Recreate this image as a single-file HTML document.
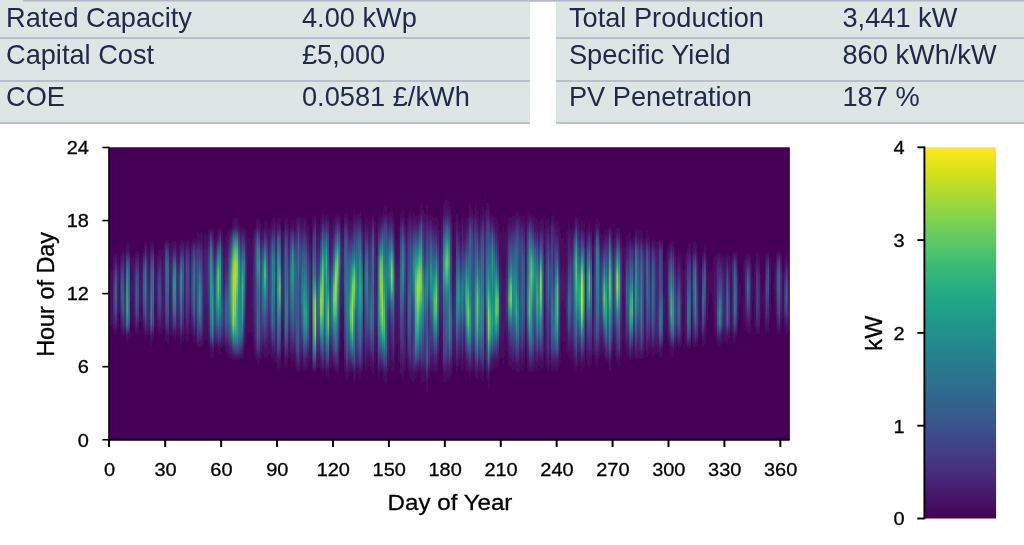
<!DOCTYPE html>
<html lang="en"><head><meta charset="utf-8"><title>PV Output</title>
<style>
html,body{margin:0;padding:0;background:#fff}
body{width:1024px;height:545px;position:relative;overflow:hidden;font-family:"Liberation Sans",Arial,sans-serif}
.tb{position:absolute;top:0;height:121.5px;background:#dde5e5;border-bottom:2px solid #b9c0cc;box-sizing:content-box}
.tl{position:absolute;left:23px;right:0;top:0;height:1px;background:#b3bac6;border-bottom:1px solid #c8ced6}
.tb .r{position:absolute;left:0;right:0;height:0;border-top:2px solid #b9c0cc}
.tb span{position:absolute;font-size:27.2px;line-height:30px;color:#212b48;white-space:nowrap}
</style></head>
<body>
<div class="tb" style="left:0px;width:530px"><div class="r" style="top:36.5px"></div><div class="r" style="top:79.5px"></div><span style="left:6.0px;top:2.8px">Rated Capacity</span><span style="left:302.0px;top:2.8px">4.00 kWp</span><span style="left:6.0px;top:40.3px">Capital Cost</span><span style="left:302.0px;top:40.3px">£5,000</span><span style="left:6.0px;top:82.3px">COE</span><span style="left:302.0px;top:82.3px">0.0581 £/kWh</span></div>
<div class="tb" style="left:555.7px;width:468.3px"><div class="r" style="top:36.5px"></div><div class="r" style="top:79.5px"></div><span style="left:13.3px;top:2.8px">Total Production</span><span style="left:286.8px;top:2.8px">3,441 kW</span><span style="left:13.3px;top:40.3px">Specific Yield</span><span style="left:286.8px;top:40.3px">860 kWh/kW</span><span style="left:13.3px;top:82.3px">PV Penetration</span><span style="left:286.8px;top:82.3px">187 %</span></div>
<div class="tl"></div>
<svg width="1024" height="545" viewBox="0 0 1024 545" style="position:absolute;left:0;top:0">
<defs>
<linearGradient id="cb" x1="0" y1="0" x2="0" y2="1"><stop offset="0.0000" stop-color="#fde725"/><stop offset="0.0312" stop-color="#ece51b"/><stop offset="0.0625" stop-color="#d8e219"/><stop offset="0.0938" stop-color="#c2df23"/><stop offset="0.1250" stop-color="#addc30"/><stop offset="0.1562" stop-color="#98d83e"/><stop offset="0.1875" stop-color="#84d44b"/><stop offset="0.2188" stop-color="#70cf57"/><stop offset="0.2500" stop-color="#5ec962"/><stop offset="0.2812" stop-color="#4ec36b"/><stop offset="0.3125" stop-color="#3fbc73"/><stop offset="0.3438" stop-color="#32b67a"/><stop offset="0.3750" stop-color="#28ae80"/><stop offset="0.4062" stop-color="#22a785"/><stop offset="0.4375" stop-color="#1fa088"/><stop offset="0.4688" stop-color="#1f988b"/><stop offset="0.5000" stop-color="#21918c"/><stop offset="0.5312" stop-color="#23898e"/><stop offset="0.5625" stop-color="#26828e"/><stop offset="0.5938" stop-color="#297a8e"/><stop offset="0.6250" stop-color="#2c728e"/><stop offset="0.6562" stop-color="#2f6b8e"/><stop offset="0.6875" stop-color="#33638d"/><stop offset="0.7188" stop-color="#375b8d"/><stop offset="0.7500" stop-color="#3b528b"/><stop offset="0.7812" stop-color="#3e4989"/><stop offset="0.8125" stop-color="#424086"/><stop offset="0.8438" stop-color="#453781"/><stop offset="0.8750" stop-color="#472d7b"/><stop offset="0.9062" stop-color="#482374"/><stop offset="0.9375" stop-color="#48186a"/><stop offset="0.9688" stop-color="#470d60"/><stop offset="1.0000" stop-color="#440154"/></linearGradient>
<clipPath id="hc"><rect x="109.30" y="147.50" width="680.36" height="292.25"/></clipPath>
<filter id="bl" x="-2%" y="-2%" width="104%" height="104%"><feGaussianBlur stdDeviation="0.55 0.9"/></filter>
<linearGradient id="g0" x1="0" y1="0" x2="0" y2="1"><stop offset="0" stop-color="#440154"/><stop offset=".143" stop-color="#450559"/><stop offset=".286" stop-color="#46085c"/><stop offset=".429" stop-color="#470d60"/><stop offset=".571" stop-color="#471063"/><stop offset=".714" stop-color="#470e61"/><stop offset=".857" stop-color="#46085c"/><stop offset="1" stop-color="#440154"/></linearGradient>
<linearGradient id="g1" x1="0" y1="0" x2="0" y2="1"><stop offset="0" stop-color="#440154"/><stop offset=".143" stop-color="#450457"/><stop offset=".286" stop-color="#46085c"/><stop offset=".429" stop-color="#460b5e"/><stop offset=".571" stop-color="#470e61"/><stop offset=".714" stop-color="#470d60"/><stop offset=".857" stop-color="#46075a"/><stop offset="1" stop-color="#440154"/></linearGradient>
<linearGradient id="g2" x1="0" y1="0" x2="0" y2="1"><stop offset="0" stop-color="#440154"/><stop offset=".143" stop-color="#471063"/><stop offset=".286" stop-color="#482173"/><stop offset=".429" stop-color="#46327e"/><stop offset=".571" stop-color="#453882"/><stop offset=".714" stop-color="#472f7d"/><stop offset=".857" stop-color="#481a6c"/><stop offset="1" stop-color="#440154"/></linearGradient>
<linearGradient id="g3" x1="0" y1="0" x2="0" y2="1"><stop offset="0" stop-color="#440154"/><stop offset=".143" stop-color="#482677"/><stop offset=".286" stop-color="#3b518b"/><stop offset=".429" stop-color="#306a8e"/><stop offset=".571" stop-color="#30698e"/><stop offset=".714" stop-color="#3b518b"/><stop offset=".857" stop-color="#482677"/><stop offset="1" stop-color="#440154"/></linearGradient>
<linearGradient id="g4" x1="0" y1="0" x2="0" y2="1"><stop offset="0" stop-color="#440154"/><stop offset=".143" stop-color="#471164"/><stop offset=".286" stop-color="#482173"/><stop offset=".429" stop-color="#482979"/><stop offset=".571" stop-color="#482677"/><stop offset=".714" stop-color="#481c6e"/><stop offset=".857" stop-color="#470d60"/><stop offset="1" stop-color="#440154"/></linearGradient>
<linearGradient id="g5" x1="0" y1="0" x2="0" y2="1"><stop offset="0" stop-color="#440154"/><stop offset=".143" stop-color="#450559"/><stop offset=".286" stop-color="#470d60"/><stop offset=".429" stop-color="#471164"/><stop offset=".571" stop-color="#470e61"/><stop offset=".714" stop-color="#46085c"/><stop offset=".857" stop-color="#440256"/><stop offset="1" stop-color="#440154"/></linearGradient>
<linearGradient id="g6" x1="0" y1="0" x2="0" y2="1"><stop offset="0" stop-color="#440256"/><stop offset=".143" stop-color="#482475"/><stop offset=".286" stop-color="#3e4c8a"/><stop offset=".429" stop-color="#355f8d"/><stop offset=".571" stop-color="#39568c"/><stop offset=".714" stop-color="#453882"/><stop offset=".857" stop-color="#481668"/><stop offset="1" stop-color="#440154"/></linearGradient>
<linearGradient id="g7" x1="0" y1="0" x2="0" y2="1"><stop offset="0" stop-color="#440154"/><stop offset=".111" stop-color="#46075a"/><stop offset=".222" stop-color="#46307e"/><stop offset=".333" stop-color="#3d4e8a"/><stop offset=".444" stop-color="#33638d"/><stop offset=".556" stop-color="#2f6c8e"/><stop offset=".667" stop-color="#34608d"/><stop offset=".778" stop-color="#453781"/><stop offset=".889" stop-color="#440256"/><stop offset="1" stop-color="#440154"/></linearGradient>
<linearGradient id="g8" x1="0" y1="0" x2="0" y2="1"><stop offset="0" stop-color="#440154"/><stop offset=".111" stop-color="#450457"/><stop offset=".222" stop-color="#481467"/><stop offset=".333" stop-color="#482071"/><stop offset=".444" stop-color="#482979"/><stop offset=".556" stop-color="#46327e"/><stop offset=".667" stop-color="#46337f"/><stop offset=".778" stop-color="#482374"/><stop offset=".889" stop-color="#440256"/><stop offset="1" stop-color="#440154"/></linearGradient>
<linearGradient id="g9" x1="0" y1="0" x2="0" y2="1"><stop offset="0" stop-color="#440154"/><stop offset=".111" stop-color="#471164"/><stop offset=".222" stop-color="#355f8d"/><stop offset=".333" stop-color="#228c8d"/><stop offset=".444" stop-color="#1fa188"/><stop offset=".556" stop-color="#22a884"/><stop offset=".667" stop-color="#22a785"/><stop offset=".778" stop-color="#26828e"/><stop offset=".889" stop-color="#470d60"/><stop offset="1" stop-color="#440154"/></linearGradient>
<linearGradient id="g10" x1="0" y1="0" x2="0" y2="1"><stop offset="0" stop-color="#440154"/><stop offset=".111" stop-color="#471063"/><stop offset=".222" stop-color="#3b528b"/><stop offset=".333" stop-color="#2d718e"/><stop offset=".444" stop-color="#2a788e"/><stop offset=".556" stop-color="#297b8e"/><stop offset=".667" stop-color="#297a8e"/><stop offset=".778" stop-color="#355e8d"/><stop offset=".889" stop-color="#46085c"/><stop offset="1" stop-color="#440154"/></linearGradient>
<linearGradient id="g11" x1="0" y1="0" x2="0" y2="1"><stop offset="0" stop-color="#440256"/><stop offset=".143" stop-color="#460b5e"/><stop offset=".286" stop-color="#471164"/><stop offset=".429" stop-color="#471365"/><stop offset=".571" stop-color="#471365"/><stop offset=".714" stop-color="#470e61"/><stop offset=".857" stop-color="#46075a"/><stop offset="1" stop-color="#440154"/></linearGradient>
<linearGradient id="g12" x1="0" y1="0" x2="0" y2="1"><stop offset="0" stop-color="#440154"/><stop offset=".143" stop-color="#460a5d"/><stop offset=".286" stop-color="#471063"/><stop offset=".429" stop-color="#471365"/><stop offset=".571" stop-color="#471063"/><stop offset=".714" stop-color="#460a5d"/><stop offset=".857" stop-color="#450457"/><stop offset="1" stop-color="#440154"/></linearGradient>
<linearGradient id="g13" x1="0" y1="0" x2="0" y2="1"><stop offset="0" stop-color="#440256"/><stop offset=".143" stop-color="#471063"/><stop offset=".286" stop-color="#481a6c"/><stop offset=".429" stop-color="#481f70"/><stop offset=".571" stop-color="#481f70"/><stop offset=".714" stop-color="#481769"/><stop offset=".857" stop-color="#460a5d"/><stop offset="1" stop-color="#440154"/></linearGradient>
<linearGradient id="g14" x1="0" y1="0" x2="0" y2="1"><stop offset="0" stop-color="#440154"/><stop offset=".125" stop-color="#450559"/><stop offset=".25" stop-color="#472f7d"/><stop offset=".375" stop-color="#3c4f8a"/><stop offset=".5" stop-color="#33628d"/><stop offset=".625" stop-color="#31678e"/><stop offset=".75" stop-color="#39568c"/><stop offset=".875" stop-color="#482979"/><stop offset="1" stop-color="#440154"/></linearGradient>
<linearGradient id="g15" x1="0" y1="0" x2="0" y2="1"><stop offset="0" stop-color="#440154"/><stop offset=".125" stop-color="#450559"/><stop offset=".25" stop-color="#472c7a"/><stop offset=".375" stop-color="#404688"/><stop offset=".5" stop-color="#3b518b"/><stop offset=".625" stop-color="#3c4f8a"/><stop offset=".75" stop-color="#433e85"/><stop offset=".875" stop-color="#481b6d"/><stop offset="1" stop-color="#440154"/></linearGradient>
<linearGradient id="g16" x1="0" y1="0" x2="0" y2="1"><stop offset="0" stop-color="#440154"/><stop offset=".143" stop-color="#46085c"/><stop offset=".286" stop-color="#471063"/><stop offset=".429" stop-color="#481467"/><stop offset=".571" stop-color="#471365"/><stop offset=".714" stop-color="#470d60"/><stop offset=".857" stop-color="#450559"/><stop offset="1" stop-color="#440154"/></linearGradient>
<linearGradient id="g17" x1="0" y1="0" x2="0" y2="1"><stop offset="0" stop-color="#440154"/><stop offset=".143" stop-color="#460b5e"/><stop offset=".286" stop-color="#481467"/><stop offset=".429" stop-color="#481769"/><stop offset=".571" stop-color="#481668"/><stop offset=".714" stop-color="#470e61"/><stop offset=".857" stop-color="#450559"/><stop offset="1" stop-color="#440154"/></linearGradient>
<linearGradient id="g18" x1="0" y1="0" x2="0" y2="1"><stop offset="0" stop-color="#440154"/><stop offset=".125" stop-color="#46085c"/><stop offset=".25" stop-color="#453781"/><stop offset=".375" stop-color="#38588c"/><stop offset=".5" stop-color="#34618d"/><stop offset=".625" stop-color="#39568c"/><stop offset=".75" stop-color="#433d84"/><stop offset=".875" stop-color="#481a6c"/><stop offset="1" stop-color="#440154"/></linearGradient>
<linearGradient id="g19" x1="0" y1="0" x2="0" y2="1"><stop offset="0" stop-color="#440154"/><stop offset=".111" stop-color="#482374"/><stop offset=".222" stop-color="#355f8d"/><stop offset=".333" stop-color="#29798e"/><stop offset=".444" stop-color="#287c8e"/><stop offset=".556" stop-color="#2d708e"/><stop offset=".667" stop-color="#38598c"/><stop offset=".778" stop-color="#453781"/><stop offset=".889" stop-color="#46085c"/><stop offset="1" stop-color="#440154"/></linearGradient>
<linearGradient id="g20" x1="0" y1="0" x2="0" y2="1"><stop offset="0" stop-color="#440154"/><stop offset=".111" stop-color="#460b5e"/><stop offset=".222" stop-color="#482071"/><stop offset=".333" stop-color="#472c7a"/><stop offset=".444" stop-color="#46307e"/><stop offset=".556" stop-color="#46307e"/><stop offset=".667" stop-color="#472c7a"/><stop offset=".778" stop-color="#481f70"/><stop offset=".889" stop-color="#450559"/><stop offset="1" stop-color="#440154"/></linearGradient>
<linearGradient id="g21" x1="0" y1="0" x2="0" y2="1"><stop offset="0" stop-color="#440154"/><stop offset=".111" stop-color="#450559"/><stop offset=".222" stop-color="#471063"/><stop offset=".333" stop-color="#48186a"/><stop offset=".444" stop-color="#481f70"/><stop offset=".556" stop-color="#482475"/><stop offset=".667" stop-color="#482475"/><stop offset=".778" stop-color="#481c6e"/><stop offset=".889" stop-color="#450559"/><stop offset="1" stop-color="#440154"/></linearGradient>
<linearGradient id="g22" x1="0" y1="0" x2="0" y2="1"><stop offset="0" stop-color="#440154"/><stop offset=".111" stop-color="#481d6f"/><stop offset=".222" stop-color="#3d4e8a"/><stop offset=".333" stop-color="#31688e"/><stop offset=".444" stop-color="#2a788e"/><stop offset=".556" stop-color="#25838e"/><stop offset=".667" stop-color="#24878e"/><stop offset=".778" stop-color="#2e6f8e"/><stop offset=".889" stop-color="#481a6c"/><stop offset="1" stop-color="#440154"/></linearGradient>
<linearGradient id="g23" x1="0" y1="0" x2="0" y2="1"><stop offset="0" stop-color="#440154"/><stop offset=".111" stop-color="#482173"/><stop offset=".222" stop-color="#38598c"/><stop offset=".333" stop-color="#2c728e"/><stop offset=".444" stop-color="#2b758e"/><stop offset=".556" stop-color="#2e6d8e"/><stop offset=".667" stop-color="#355e8d"/><stop offset=".778" stop-color="#404588"/><stop offset=".889" stop-color="#470e61"/><stop offset="1" stop-color="#440154"/></linearGradient>
<linearGradient id="g24" x1="0" y1="0" x2="0" y2="1"><stop offset="0" stop-color="#440154"/><stop offset=".125" stop-color="#450457"/><stop offset=".25" stop-color="#470e61"/><stop offset=".375" stop-color="#481668"/><stop offset=".5" stop-color="#481769"/><stop offset=".625" stop-color="#471365"/><stop offset=".75" stop-color="#470e61"/><stop offset=".875" stop-color="#46085c"/><stop offset="1" stop-color="#440154"/></linearGradient>
<linearGradient id="g25" x1="0" y1="0" x2="0" y2="1"><stop offset="0" stop-color="#440154"/><stop offset=".125" stop-color="#440256"/><stop offset=".25" stop-color="#460b5e"/><stop offset=".375" stop-color="#481467"/><stop offset=".5" stop-color="#481769"/><stop offset=".625" stop-color="#481467"/><stop offset=".75" stop-color="#470e61"/><stop offset=".875" stop-color="#46085c"/><stop offset="1" stop-color="#440154"/></linearGradient>
<linearGradient id="g26" x1="0" y1="0" x2="0" y2="1"><stop offset="0" stop-color="#440154"/><stop offset=".111" stop-color="#46075a"/><stop offset=".222" stop-color="#482071"/><stop offset=".333" stop-color="#423f85"/><stop offset=".444" stop-color="#3b518b"/><stop offset=".556" stop-color="#3e4c8a"/><stop offset=".667" stop-color="#453882"/><stop offset=".778" stop-color="#481c6e"/><stop offset=".889" stop-color="#440256"/><stop offset="1" stop-color="#440154"/></linearGradient>
<linearGradient id="g27" x1="0" y1="0" x2="0" y2="1"><stop offset="0" stop-color="#440154"/><stop offset=".111" stop-color="#46085c"/><stop offset=".222" stop-color="#482374"/><stop offset=".333" stop-color="#443a83"/><stop offset=".444" stop-color="#404688"/><stop offset=".556" stop-color="#404588"/><stop offset=".667" stop-color="#453581"/><stop offset=".778" stop-color="#481c6e"/><stop offset=".889" stop-color="#440256"/><stop offset="1" stop-color="#440154"/></linearGradient>
<linearGradient id="g28" x1="0" y1="0" x2="0" y2="1"><stop offset="0" stop-color="#440154"/><stop offset=".111" stop-color="#46075a"/><stop offset=".222" stop-color="#471063"/><stop offset=".333" stop-color="#481668"/><stop offset=".444" stop-color="#481a6c"/><stop offset=".556" stop-color="#48186a"/><stop offset=".667" stop-color="#481668"/><stop offset=".778" stop-color="#470e61"/><stop offset=".889" stop-color="#440256"/><stop offset="1" stop-color="#440154"/></linearGradient>
<linearGradient id="g29" x1="0" y1="0" x2="0" y2="1"><stop offset="0" stop-color="#440154"/><stop offset=".111" stop-color="#470e61"/><stop offset=".222" stop-color="#48186a"/><stop offset=".333" stop-color="#481b6d"/><stop offset=".444" stop-color="#481b6d"/><stop offset=".556" stop-color="#48186a"/><stop offset=".667" stop-color="#481467"/><stop offset=".778" stop-color="#460b5e"/><stop offset=".889" stop-color="#440256"/><stop offset="1" stop-color="#440154"/></linearGradient>
<linearGradient id="g30" x1="0" y1="0" x2="0" y2="1"><stop offset="0" stop-color="#440154"/><stop offset=".111" stop-color="#404588"/><stop offset=".222" stop-color="#306a8e"/><stop offset=".333" stop-color="#2e6f8e"/><stop offset=".444" stop-color="#306a8e"/><stop offset=".556" stop-color="#355f8d"/><stop offset=".667" stop-color="#3c508b"/><stop offset=".778" stop-color="#453581"/><stop offset=".889" stop-color="#460b5e"/><stop offset="1" stop-color="#440154"/></linearGradient>
<linearGradient id="g31" x1="0" y1="0" x2="0" y2="1"><stop offset="0" stop-color="#440154"/><stop offset=".111" stop-color="#443a83"/><stop offset=".222" stop-color="#32658e"/><stop offset=".333" stop-color="#2d718e"/><stop offset=".444" stop-color="#2e6d8e"/><stop offset=".556" stop-color="#33638d"/><stop offset=".667" stop-color="#39568c"/><stop offset=".778" stop-color="#423f85"/><stop offset=".889" stop-color="#471164"/><stop offset="1" stop-color="#440154"/></linearGradient>
<linearGradient id="g32" x1="0" y1="0" x2="0" y2="1"><stop offset="0" stop-color="#440154"/><stop offset=".111" stop-color="#471063"/><stop offset=".222" stop-color="#481a6c"/><stop offset=".333" stop-color="#481c6e"/><stop offset=".444" stop-color="#481a6c"/><stop offset=".556" stop-color="#48186a"/><stop offset=".667" stop-color="#481668"/><stop offset=".778" stop-color="#471063"/><stop offset=".889" stop-color="#450559"/><stop offset="1" stop-color="#440154"/></linearGradient>
<linearGradient id="g33" x1="0" y1="0" x2="0" y2="1"><stop offset="0" stop-color="#440154"/><stop offset=".111" stop-color="#471063"/><stop offset=".222" stop-color="#481f70"/><stop offset=".333" stop-color="#482677"/><stop offset=".444" stop-color="#482677"/><stop offset=".556" stop-color="#482374"/><stop offset=".667" stop-color="#481d6f"/><stop offset=".778" stop-color="#481467"/><stop offset=".889" stop-color="#450559"/><stop offset="1" stop-color="#440154"/></linearGradient>
<linearGradient id="g34" x1="0" y1="0" x2="0" y2="1"><stop offset="0" stop-color="#440154"/><stop offset=".111" stop-color="#481f70"/><stop offset=".222" stop-color="#355f8d"/><stop offset=".333" stop-color="#218f8d"/><stop offset=".444" stop-color="#1f9f88"/><stop offset=".556" stop-color="#20928c"/><stop offset=".667" stop-color="#2d708e"/><stop offset=".778" stop-color="#433d84"/><stop offset=".889" stop-color="#46075a"/><stop offset="1" stop-color="#440154"/></linearGradient>
<linearGradient id="g35" x1="0" y1="0" x2="0" y2="1"><stop offset="0" stop-color="#440154"/><stop offset=".111" stop-color="#482878"/><stop offset=".222" stop-color="#2e6e8e"/><stop offset=".333" stop-color="#1f958b"/><stop offset=".444" stop-color="#1f988b"/><stop offset=".556" stop-color="#24878e"/><stop offset=".667" stop-color="#2f6c8e"/><stop offset=".778" stop-color="#424086"/><stop offset=".889" stop-color="#460a5d"/><stop offset="1" stop-color="#440154"/></linearGradient>
<linearGradient id="g36" x1="0" y1="0" x2="0" y2="1"><stop offset="0" stop-color="#440154"/><stop offset=".111" stop-color="#46085c"/><stop offset=".222" stop-color="#481b6d"/><stop offset=".333" stop-color="#482576"/><stop offset=".444" stop-color="#482677"/><stop offset=".556" stop-color="#482475"/><stop offset=".667" stop-color="#481f70"/><stop offset=".778" stop-color="#481467"/><stop offset=".889" stop-color="#450457"/><stop offset="1" stop-color="#440154"/></linearGradient>
<linearGradient id="g37" x1="0" y1="0" x2="0" y2="1"><stop offset="0" stop-color="#440154"/><stop offset=".111" stop-color="#460b5e"/><stop offset=".222" stop-color="#482374"/><stop offset=".333" stop-color="#453882"/><stop offset=".444" stop-color="#433d84"/><stop offset=".556" stop-color="#463480"/><stop offset=".667" stop-color="#482878"/><stop offset=".778" stop-color="#481a6c"/><stop offset=".889" stop-color="#46075a"/><stop offset="1" stop-color="#440154"/></linearGradient>
<linearGradient id="g38" x1="0" y1="0" x2="0" y2="1"><stop offset="0" stop-color="#440256"/><stop offset=".111" stop-color="#482677"/><stop offset=".222" stop-color="#31668e"/><stop offset=".333" stop-color="#1f948c"/><stop offset=".444" stop-color="#1f9a8a"/><stop offset=".556" stop-color="#25858e"/><stop offset=".667" stop-color="#2f6c8e"/><stop offset=".778" stop-color="#3e4c8a"/><stop offset=".889" stop-color="#48186a"/><stop offset="1" stop-color="#440154"/></linearGradient>
<linearGradient id="g39" x1="0" y1="0" x2="0" y2="1"><stop offset="0" stop-color="#440154"/><stop offset=".1" stop-color="#440256"/><stop offset=".2" stop-color="#482979"/><stop offset=".3" stop-color="#39558c"/><stop offset=".4" stop-color="#31678e"/><stop offset=".5" stop-color="#365d8d"/><stop offset=".6" stop-color="#3e4989"/><stop offset=".7" stop-color="#443983"/><stop offset=".8" stop-color="#482576"/><stop offset=".9" stop-color="#460a5d"/><stop offset="1" stop-color="#440154"/></linearGradient>
<linearGradient id="g40" x1="0" y1="0" x2="0" y2="1"><stop offset="0" stop-color="#440154"/><stop offset=".111" stop-color="#471365"/><stop offset=".222" stop-color="#481c6e"/><stop offset=".333" stop-color="#481f70"/><stop offset=".444" stop-color="#481c6e"/><stop offset=".556" stop-color="#48186a"/><stop offset=".667" stop-color="#481668"/><stop offset=".778" stop-color="#470e61"/><stop offset=".889" stop-color="#450559"/><stop offset="1" stop-color="#440154"/></linearGradient>
<linearGradient id="g41" x1="0" y1="0" x2="0" y2="1"><stop offset="0" stop-color="#440154"/><stop offset=".1" stop-color="#450559"/><stop offset=".2" stop-color="#46307e"/><stop offset=".3" stop-color="#404688"/><stop offset=".4" stop-color="#3e4c8a"/><stop offset=".5" stop-color="#3e4a89"/><stop offset=".6" stop-color="#414487"/><stop offset=".7" stop-color="#453882"/><stop offset=".8" stop-color="#482576"/><stop offset=".9" stop-color="#470d60"/><stop offset="1" stop-color="#440154"/></linearGradient>
<linearGradient id="g42" x1="0" y1="0" x2="0" y2="1"><stop offset="0" stop-color="#440154"/><stop offset=".1" stop-color="#450457"/><stop offset=".2" stop-color="#472a7a"/><stop offset=".3" stop-color="#414487"/><stop offset=".4" stop-color="#3e4c8a"/><stop offset=".5" stop-color="#3f4889"/><stop offset=".6" stop-color="#433e85"/><stop offset=".7" stop-color="#472f7d"/><stop offset=".8" stop-color="#481f70"/><stop offset=".9" stop-color="#460a5d"/><stop offset="1" stop-color="#440154"/></linearGradient>
<linearGradient id="g43" x1="0" y1="0" x2="0" y2="1"><stop offset="0" stop-color="#440154"/><stop offset=".111" stop-color="#470d60"/><stop offset=".222" stop-color="#481a6c"/><stop offset=".333" stop-color="#481f70"/><stop offset=".444" stop-color="#481f70"/><stop offset=".556" stop-color="#481b6d"/><stop offset=".667" stop-color="#481467"/><stop offset=".778" stop-color="#460a5d"/><stop offset=".889" stop-color="#440256"/><stop offset="1" stop-color="#440154"/></linearGradient>
<linearGradient id="g44" x1="0" y1="0" x2="0" y2="1"><stop offset="0" stop-color="#440154"/><stop offset=".1" stop-color="#440256"/><stop offset=".2" stop-color="#482576"/><stop offset=".3" stop-color="#424186"/><stop offset=".4" stop-color="#3c508b"/><stop offset=".5" stop-color="#3a548c"/><stop offset=".6" stop-color="#3c4f8a"/><stop offset=".7" stop-color="#443a83"/><stop offset=".8" stop-color="#481d6f"/><stop offset=".9" stop-color="#46075a"/><stop offset="1" stop-color="#440154"/></linearGradient>
<linearGradient id="g45" x1="0" y1="0" x2="0" y2="1"><stop offset="0" stop-color="#440154"/><stop offset=".1" stop-color="#450559"/><stop offset=".2" stop-color="#424086"/><stop offset=".3" stop-color="#30698e"/><stop offset=".4" stop-color="#2a778e"/><stop offset=".5" stop-color="#297a8e"/><stop offset=".6" stop-color="#2c738e"/><stop offset=".7" stop-color="#355f8d"/><stop offset=".8" stop-color="#443b84"/><stop offset=".9" stop-color="#471164"/><stop offset="1" stop-color="#440154"/></linearGradient>
<linearGradient id="g46" x1="0" y1="0" x2="0" y2="1"><stop offset="0" stop-color="#440154"/><stop offset=".1" stop-color="#450457"/><stop offset=".2" stop-color="#482677"/><stop offset=".3" stop-color="#424086"/><stop offset=".4" stop-color="#404588"/><stop offset=".5" stop-color="#423f85"/><stop offset=".6" stop-color="#443983"/><stop offset=".7" stop-color="#472f7d"/><stop offset=".8" stop-color="#482173"/><stop offset=".9" stop-color="#460b5e"/><stop offset="1" stop-color="#440154"/></linearGradient>
<linearGradient id="g47" x1="0" y1="0" x2="0" y2="1"><stop offset="0" stop-color="#440154"/><stop offset=".091" stop-color="#470d60"/><stop offset=".182" stop-color="#46327e"/><stop offset=".273" stop-color="#3e4989"/><stop offset=".364" stop-color="#3a548c"/><stop offset=".455" stop-color="#375a8c"/><stop offset=".545" stop-color="#355e8d"/><stop offset=".636" stop-color="#355f8d"/><stop offset=".727" stop-color="#3a538b"/><stop offset=".818" stop-color="#46337f"/><stop offset=".909" stop-color="#440256"/><stop offset="1" stop-color="#440154"/></linearGradient>
<linearGradient id="g48" x1="0" y1="0" x2="0" y2="1"><stop offset="0" stop-color="#440154"/><stop offset=".1" stop-color="#460a5d"/><stop offset=".2" stop-color="#472f7d"/><stop offset=".3" stop-color="#3a538b"/><stop offset=".4" stop-color="#2c728e"/><stop offset=".5" stop-color="#228b8d"/><stop offset=".6" stop-color="#1f958b"/><stop offset=".7" stop-color="#24868e"/><stop offset=".8" stop-color="#355f8d"/><stop offset=".9" stop-color="#472a7a"/><stop offset="1" stop-color="#440154"/></linearGradient>
<linearGradient id="g49" x1="0" y1="0" x2="0" y2="1"><stop offset="0" stop-color="#440154"/><stop offset=".091" stop-color="#470e61"/><stop offset=".182" stop-color="#472c7a"/><stop offset=".273" stop-color="#414287"/><stop offset=".364" stop-color="#39568c"/><stop offset=".455" stop-color="#31668e"/><stop offset=".545" stop-color="#306a8e"/><stop offset=".636" stop-color="#33628d"/><stop offset=".727" stop-color="#3e4c8a"/><stop offset=".818" stop-color="#472c7a"/><stop offset=".909" stop-color="#450457"/><stop offset="1" stop-color="#440154"/></linearGradient>
<linearGradient id="g50" x1="0" y1="0" x2="0" y2="1"><stop offset="0" stop-color="#440154"/><stop offset=".1" stop-color="#450559"/><stop offset=".2" stop-color="#471164"/><stop offset=".3" stop-color="#48186a"/><stop offset=".4" stop-color="#481f70"/><stop offset=".5" stop-color="#482374"/><stop offset=".6" stop-color="#482374"/><stop offset=".7" stop-color="#481f70"/><stop offset=".8" stop-color="#48186a"/><stop offset=".9" stop-color="#470e61"/><stop offset="1" stop-color="#440256"/></linearGradient>
<linearGradient id="g51" x1="0" y1="0" x2="0" y2="1"><stop offset="0" stop-color="#440154"/><stop offset=".1" stop-color="#460a5d"/><stop offset=".2" stop-color="#481b6d"/><stop offset=".3" stop-color="#482374"/><stop offset=".4" stop-color="#482475"/><stop offset=".5" stop-color="#482173"/><stop offset=".6" stop-color="#481c6e"/><stop offset=".7" stop-color="#481668"/><stop offset=".8" stop-color="#470e61"/><stop offset=".9" stop-color="#46085c"/><stop offset="1" stop-color="#440154"/></linearGradient>
<linearGradient id="g52" x1="0" y1="0" x2="0" y2="1"><stop offset="0" stop-color="#440154"/><stop offset=".1" stop-color="#460a5d"/><stop offset=".2" stop-color="#481d6f"/><stop offset=".3" stop-color="#482677"/><stop offset=".4" stop-color="#482878"/><stop offset=".5" stop-color="#482475"/><stop offset=".6" stop-color="#481f70"/><stop offset=".7" stop-color="#48186a"/><stop offset=".8" stop-color="#471164"/><stop offset=".9" stop-color="#460a5d"/><stop offset="1" stop-color="#440154"/></linearGradient>
<linearGradient id="g53" x1="0" y1="0" x2="0" y2="1"><stop offset="0" stop-color="#440154"/><stop offset=".091" stop-color="#481769"/><stop offset=".182" stop-color="#453581"/><stop offset=".273" stop-color="#414487"/><stop offset=".364" stop-color="#404588"/><stop offset=".455" stop-color="#433e85"/><stop offset=".545" stop-color="#463480"/><stop offset=".636" stop-color="#472c7a"/><stop offset=".727" stop-color="#482374"/><stop offset=".818" stop-color="#481668"/><stop offset=".909" stop-color="#440256"/><stop offset="1" stop-color="#440154"/></linearGradient>
<linearGradient id="g54" x1="0" y1="0" x2="0" y2="1"><stop offset="0" stop-color="#440154"/><stop offset=".091" stop-color="#424186"/><stop offset=".182" stop-color="#27808e"/><stop offset=".273" stop-color="#1f998a"/><stop offset=".364" stop-color="#1fa187"/><stop offset=".455" stop-color="#1fa088"/><stop offset=".545" stop-color="#1f998a"/><stop offset=".636" stop-color="#228b8d"/><stop offset=".727" stop-color="#2a778e"/><stop offset=".818" stop-color="#3a548c"/><stop offset=".909" stop-color="#471063"/><stop offset="1" stop-color="#440154"/></linearGradient>
<linearGradient id="g55" x1="0" y1="0" x2="0" y2="1"><stop offset="0" stop-color="#440154"/><stop offset=".091" stop-color="#482677"/><stop offset=".182" stop-color="#3c508b"/><stop offset=".273" stop-color="#31678e"/><stop offset=".364" stop-color="#287c8e"/><stop offset=".455" stop-color="#20928c"/><stop offset=".545" stop-color="#1fa287"/><stop offset=".636" stop-color="#20a486"/><stop offset=".727" stop-color="#1f958b"/><stop offset=".818" stop-color="#2d708e"/><stop offset=".909" stop-color="#481a6c"/><stop offset="1" stop-color="#440154"/></linearGradient>
<linearGradient id="g56" x1="0" y1="0" x2="0" y2="1"><stop offset="0" stop-color="#440154"/><stop offset=".091" stop-color="#46075a"/><stop offset=".182" stop-color="#481668"/><stop offset=".273" stop-color="#482677"/><stop offset=".364" stop-color="#453781"/><stop offset=".455" stop-color="#424186"/><stop offset=".545" stop-color="#404588"/><stop offset=".636" stop-color="#414287"/><stop offset=".727" stop-color="#443983"/><stop offset=".818" stop-color="#482374"/><stop offset=".909" stop-color="#450457"/><stop offset="1" stop-color="#440154"/></linearGradient>
<linearGradient id="g57" x1="0" y1="0" x2="0" y2="1"><stop offset="0" stop-color="#440154"/><stop offset=".091" stop-color="#46085c"/><stop offset=".182" stop-color="#472f7d"/><stop offset=".273" stop-color="#33628d"/><stop offset=".364" stop-color="#228b8d"/><stop offset=".455" stop-color="#1f9a8a"/><stop offset=".545" stop-color="#20928c"/><stop offset=".636" stop-color="#277f8e"/><stop offset=".727" stop-color="#34608d"/><stop offset=".818" stop-color="#472f7d"/><stop offset=".909" stop-color="#440256"/><stop offset="1" stop-color="#440154"/></linearGradient>
<linearGradient id="g58" x1="0" y1="0" x2="0" y2="1"><stop offset="0" stop-color="#440154"/><stop offset=".091" stop-color="#482374"/><stop offset=".182" stop-color="#2d718e"/><stop offset=".273" stop-color="#27ad81"/><stop offset=".364" stop-color="#63cb5f"/><stop offset=".455" stop-color="#67cc5c"/><stop offset=".545" stop-color="#3dbc74"/><stop offset=".636" stop-color="#1e9d89"/><stop offset=".727" stop-color="#2c738e"/><stop offset=".818" stop-color="#424086"/><stop offset=".909" stop-color="#46085c"/><stop offset="1" stop-color="#440154"/></linearGradient>
<linearGradient id="g59" x1="0" y1="0" x2="0" y2="1"><stop offset="0" stop-color="#440154"/><stop offset=".091" stop-color="#443983"/><stop offset=".182" stop-color="#277e8e"/><stop offset=".273" stop-color="#1fa187"/><stop offset=".364" stop-color="#25ac82"/><stop offset=".455" stop-color="#22a785"/><stop offset=".545" stop-color="#1e9b8a"/><stop offset=".636" stop-color="#24878e"/><stop offset=".727" stop-color="#306a8e"/><stop offset=".818" stop-color="#423f85"/><stop offset=".909" stop-color="#460b5e"/><stop offset="1" stop-color="#440154"/></linearGradient>
<linearGradient id="g60" x1="0" y1="0" x2="0" y2="1"><stop offset="0" stop-color="#440154"/><stop offset=".091" stop-color="#470e61"/><stop offset=".182" stop-color="#482677"/><stop offset=".273" stop-color="#453781"/><stop offset=".364" stop-color="#433e85"/><stop offset=".455" stop-color="#404688"/><stop offset=".545" stop-color="#3b518b"/><stop offset=".636" stop-color="#38598c"/><stop offset=".727" stop-color="#3e4a89"/><stop offset=".818" stop-color="#482475"/><stop offset=".909" stop-color="#450457"/><stop offset="1" stop-color="#440154"/></linearGradient>
<linearGradient id="g61" x1="0" y1="0" x2="0" y2="1"><stop offset="0" stop-color="#440154"/><stop offset=".091" stop-color="#450559"/><stop offset=".182" stop-color="#470d60"/><stop offset=".273" stop-color="#471365"/><stop offset=".364" stop-color="#48186a"/><stop offset=".455" stop-color="#481d6f"/><stop offset=".545" stop-color="#482979"/><stop offset=".636" stop-color="#46337f"/><stop offset=".727" stop-color="#472e7c"/><stop offset=".818" stop-color="#48186a"/><stop offset=".909" stop-color="#440256"/><stop offset="1" stop-color="#440154"/></linearGradient>
<linearGradient id="g62" x1="0" y1="0" x2="0" y2="1"><stop offset="0" stop-color="#440154"/><stop offset=".091" stop-color="#46075a"/><stop offset=".182" stop-color="#471365"/><stop offset=".273" stop-color="#481f70"/><stop offset=".364" stop-color="#472d7b"/><stop offset=".455" stop-color="#414287"/><stop offset=".545" stop-color="#375a8c"/><stop offset=".636" stop-color="#31678e"/><stop offset=".727" stop-color="#38598c"/><stop offset=".818" stop-color="#46327e"/><stop offset=".909" stop-color="#46085c"/><stop offset="1" stop-color="#440154"/></linearGradient>
<linearGradient id="g63" x1="0" y1="0" x2="0" y2="1"><stop offset="0" stop-color="#440154"/><stop offset=".091" stop-color="#460b5e"/><stop offset=".182" stop-color="#48186a"/><stop offset=".273" stop-color="#482475"/><stop offset=".364" stop-color="#463480"/><stop offset=".455" stop-color="#3e4a89"/><stop offset=".545" stop-color="#355e8d"/><stop offset=".636" stop-color="#32648e"/><stop offset=".727" stop-color="#38588c"/><stop offset=".818" stop-color="#453781"/><stop offset=".909" stop-color="#470e61"/><stop offset="1" stop-color="#440154"/></linearGradient>
<linearGradient id="g64" x1="0" y1="0" x2="0" y2="1"><stop offset="0" stop-color="#440256"/><stop offset=".091" stop-color="#481d6f"/><stop offset=".182" stop-color="#433e85"/><stop offset=".273" stop-color="#365c8d"/><stop offset=".364" stop-color="#2b748e"/><stop offset=".455" stop-color="#25838e"/><stop offset=".545" stop-color="#25838e"/><stop offset=".636" stop-color="#2a788e"/><stop offset=".727" stop-color="#31668e"/><stop offset=".818" stop-color="#3e4989"/><stop offset=".909" stop-color="#481b6d"/><stop offset="1" stop-color="#440154"/></linearGradient>
<linearGradient id="g65" x1="0" y1="0" x2="0" y2="1"><stop offset="0" stop-color="#440256"/><stop offset=".091" stop-color="#46327e"/><stop offset=".182" stop-color="#2f6b8e"/><stop offset=".273" stop-color="#1e9b8a"/><stop offset=".364" stop-color="#37b878"/><stop offset=".455" stop-color="#40bd72"/><stop offset=".545" stop-color="#38b977"/><stop offset=".636" stop-color="#2cb17e"/><stop offset=".727" stop-color="#1e9b8a"/><stop offset=".818" stop-color="#2f6c8e"/><stop offset=".909" stop-color="#482071"/><stop offset="1" stop-color="#440154"/></linearGradient>
<linearGradient id="g66" x1="0" y1="0" x2="0" y2="1"><stop offset="0" stop-color="#440154"/><stop offset=".083" stop-color="#470e61"/><stop offset=".167" stop-color="#2c728e"/><stop offset=".25" stop-color="#29af7f"/><stop offset=".333" stop-color="#84d44b"/><stop offset=".417" stop-color="#aadc32"/><stop offset=".5" stop-color="#a8db34"/><stop offset=".583" stop-color="#a5db36"/><stop offset=".667" stop-color="#a8db34"/><stop offset=".75" stop-color="#8bd646"/><stop offset=".833" stop-color="#20a486"/><stop offset=".917" stop-color="#424186"/><stop offset="1" stop-color="#440154"/></linearGradient>
<linearGradient id="g67" x1="0" y1="0" x2="0" y2="1"><stop offset="0" stop-color="#440154"/><stop offset=".083" stop-color="#481668"/><stop offset=".167" stop-color="#23888e"/><stop offset=".25" stop-color="#5ec962"/><stop offset=".333" stop-color="#b2dd2d"/><stop offset=".417" stop-color="#d0e11c"/><stop offset=".5" stop-color="#c5e021"/><stop offset=".583" stop-color="#a5db36"/><stop offset=".667" stop-color="#84d44b"/><stop offset=".75" stop-color="#50c46a"/><stop offset=".833" stop-color="#1f9e89"/><stop offset=".917" stop-color="#3d4d8a"/><stop offset="1" stop-color="#440154"/></linearGradient>
<linearGradient id="g68" x1="0" y1="0" x2="0" y2="1"><stop offset="0" stop-color="#440154"/><stop offset=".083" stop-color="#481467"/><stop offset=".167" stop-color="#26828e"/><stop offset=".25" stop-color="#52c569"/><stop offset=".333" stop-color="#90d743"/><stop offset=".417" stop-color="#90d743"/><stop offset=".5" stop-color="#69cd5b"/><stop offset=".583" stop-color="#3fbc73"/><stop offset=".667" stop-color="#2fb47c"/><stop offset=".75" stop-color="#2cb17e"/><stop offset=".833" stop-color="#1f9a8a"/><stop offset=".917" stop-color="#3c4f8a"/><stop offset="1" stop-color="#440154"/></linearGradient>
<linearGradient id="g69" x1="0" y1="0" x2="0" y2="1"><stop offset="0" stop-color="#440154"/><stop offset=".083" stop-color="#46085c"/><stop offset=".167" stop-color="#414287"/><stop offset=".25" stop-color="#2a768e"/><stop offset=".333" stop-color="#1e9b8a"/><stop offset=".417" stop-color="#22a785"/><stop offset=".5" stop-color="#1e9d89"/><stop offset=".583" stop-color="#218e8d"/><stop offset=".667" stop-color="#238a8d"/><stop offset=".75" stop-color="#238a8d"/><stop offset=".833" stop-color="#287c8e"/><stop offset=".917" stop-color="#414287"/><stop offset="1" stop-color="#440154"/></linearGradient>
<linearGradient id="g70" x1="0" y1="0" x2="0" y2="1"><stop offset="0" stop-color="#440154"/><stop offset=".083" stop-color="#450457"/><stop offset=".167" stop-color="#482374"/><stop offset=".25" stop-color="#414287"/><stop offset=".333" stop-color="#355e8d"/><stop offset=".417" stop-color="#2d708e"/><stop offset=".5" stop-color="#2a778e"/><stop offset=".583" stop-color="#297b8e"/><stop offset=".667" stop-color="#27808e"/><stop offset=".75" stop-color="#26818e"/><stop offset=".833" stop-color="#2e6f8e"/><stop offset=".917" stop-color="#443a83"/><stop offset="1" stop-color="#440154"/></linearGradient>
<linearGradient id="g71" x1="0" y1="0" x2="0" y2="1"><stop offset="0" stop-color="#440154"/><stop offset=".083" stop-color="#450457"/><stop offset=".167" stop-color="#472f7d"/><stop offset=".25" stop-color="#34618d"/><stop offset=".333" stop-color="#228c8d"/><stop offset=".417" stop-color="#26ad81"/><stop offset=".5" stop-color="#3aba76"/><stop offset=".583" stop-color="#38b977"/><stop offset=".667" stop-color="#26ad81"/><stop offset=".75" stop-color="#20928c"/><stop offset=".833" stop-color="#33638d"/><stop offset=".917" stop-color="#482475"/><stop offset="1" stop-color="#440154"/></linearGradient>
<linearGradient id="g72" x1="0" y1="0" x2="0" y2="1"><stop offset="0" stop-color="#440154"/><stop offset=".083" stop-color="#440256"/><stop offset=".167" stop-color="#482979"/><stop offset=".25" stop-color="#375a8c"/><stop offset=".333" stop-color="#297b8e"/><stop offset=".417" stop-color="#25848e"/><stop offset=".5" stop-color="#2a768e"/><stop offset=".583" stop-color="#355e8d"/><stop offset=".667" stop-color="#404588"/><stop offset=".75" stop-color="#472e7c"/><stop offset=".833" stop-color="#48186a"/><stop offset=".917" stop-color="#46075a"/><stop offset="1" stop-color="#440154"/></linearGradient>
<linearGradient id="g73" x1="0" y1="0" x2="0" y2="1"><stop offset="0" stop-color="#440256"/><stop offset=".091" stop-color="#471063"/><stop offset=".182" stop-color="#481b6d"/><stop offset=".273" stop-color="#482173"/><stop offset=".364" stop-color="#482374"/><stop offset=".455" stop-color="#482071"/><stop offset=".545" stop-color="#481b6d"/><stop offset=".636" stop-color="#481467"/><stop offset=".727" stop-color="#470e61"/><stop offset=".818" stop-color="#46085c"/><stop offset=".909" stop-color="#440256"/><stop offset="1" stop-color="#440154"/></linearGradient>
<linearGradient id="g74" x1="0" y1="0" x2="0" y2="1"><stop offset="0" stop-color="#440154"/><stop offset=".1" stop-color="#46075a"/><stop offset=".2" stop-color="#460a5d"/><stop offset=".3" stop-color="#460b5e"/><stop offset=".4" stop-color="#470d60"/><stop offset=".5" stop-color="#471063"/><stop offset=".6" stop-color="#471063"/><stop offset=".7" stop-color="#470e61"/><stop offset=".8" stop-color="#460a5d"/><stop offset=".9" stop-color="#450559"/><stop offset="1" stop-color="#440154"/></linearGradient>
<linearGradient id="g75" x1="0" y1="0" x2="0" y2="1"><stop offset="0" stop-color="#440154"/><stop offset=".1" stop-color="#46075a"/><stop offset=".2" stop-color="#460a5d"/><stop offset=".3" stop-color="#470d60"/><stop offset=".4" stop-color="#470e61"/><stop offset=".5" stop-color="#471063"/><stop offset=".6" stop-color="#471164"/><stop offset=".7" stop-color="#470e61"/><stop offset=".8" stop-color="#460a5d"/><stop offset=".9" stop-color="#450559"/><stop offset="1" stop-color="#440256"/></linearGradient>
<linearGradient id="g76" x1="0" y1="0" x2="0" y2="1"><stop offset="0" stop-color="#440154"/><stop offset=".1" stop-color="#450559"/><stop offset=".2" stop-color="#460a5d"/><stop offset=".3" stop-color="#470d60"/><stop offset=".4" stop-color="#470e61"/><stop offset=".5" stop-color="#471164"/><stop offset=".6" stop-color="#471164"/><stop offset=".7" stop-color="#470e61"/><stop offset=".8" stop-color="#460a5d"/><stop offset=".9" stop-color="#450559"/><stop offset="1" stop-color="#440256"/></linearGradient>
<linearGradient id="g77" x1="0" y1="0" x2="0" y2="1"><stop offset="0" stop-color="#440256"/><stop offset=".091" stop-color="#471164"/><stop offset=".182" stop-color="#481c6e"/><stop offset=".273" stop-color="#482071"/><stop offset=".364" stop-color="#482173"/><stop offset=".455" stop-color="#482475"/><stop offset=".545" stop-color="#482374"/><stop offset=".636" stop-color="#481f70"/><stop offset=".727" stop-color="#481769"/><stop offset=".818" stop-color="#470e61"/><stop offset=".909" stop-color="#450559"/><stop offset="1" stop-color="#440154"/></linearGradient>
<linearGradient id="g78" x1="0" y1="0" x2="0" y2="1"><stop offset="0" stop-color="#440154"/><stop offset=".083" stop-color="#450559"/><stop offset=".167" stop-color="#472d7b"/><stop offset=".25" stop-color="#3f4788"/><stop offset=".333" stop-color="#3e4a89"/><stop offset=".417" stop-color="#404588"/><stop offset=".5" stop-color="#423f85"/><stop offset=".583" stop-color="#443b84"/><stop offset=".667" stop-color="#453781"/><stop offset=".75" stop-color="#46307e"/><stop offset=".833" stop-color="#482979"/><stop offset=".917" stop-color="#48186a"/><stop offset="1" stop-color="#440256"/></linearGradient>
<linearGradient id="g79" x1="0" y1="0" x2="0" y2="1"><stop offset="0" stop-color="#440154"/><stop offset=".077" stop-color="#481668"/><stop offset=".154" stop-color="#34608d"/><stop offset=".231" stop-color="#1f948c"/><stop offset=".308" stop-color="#1f9e89"/><stop offset=".385" stop-color="#228c8d"/><stop offset=".462" stop-color="#2a788e"/><stop offset=".538" stop-color="#2e6e8e"/><stop offset=".615" stop-color="#2f6c8e"/><stop offset=".692" stop-color="#31688e"/><stop offset=".769" stop-color="#365c8d"/><stop offset=".846" stop-color="#443b84"/><stop offset=".923" stop-color="#460a5d"/><stop offset="1" stop-color="#440154"/></linearGradient>
<linearGradient id="g80" x1="0" y1="0" x2="0" y2="1"><stop offset="0" stop-color="#440154"/><stop offset=".077" stop-color="#470e61"/><stop offset=".154" stop-color="#3e4989"/><stop offset=".231" stop-color="#25858e"/><stop offset=".308" stop-color="#1fa088"/><stop offset=".385" stop-color="#1f948c"/><stop offset=".462" stop-color="#277f8e"/><stop offset=".538" stop-color="#2d708e"/><stop offset=".615" stop-color="#30698e"/><stop offset=".692" stop-color="#33638d"/><stop offset=".769" stop-color="#3a548c"/><stop offset=".846" stop-color="#46337f"/><stop offset=".923" stop-color="#46085c"/><stop offset="1" stop-color="#440154"/></linearGradient>
<linearGradient id="g81" x1="0" y1="0" x2="0" y2="1"><stop offset="0" stop-color="#440256"/><stop offset=".083" stop-color="#471164"/><stop offset=".167" stop-color="#472a7a"/><stop offset=".25" stop-color="#424086"/><stop offset=".333" stop-color="#3f4889"/><stop offset=".417" stop-color="#404588"/><stop offset=".5" stop-color="#423f85"/><stop offset=".583" stop-color="#443b84"/><stop offset=".667" stop-color="#453781"/><stop offset=".75" stop-color="#472c7a"/><stop offset=".833" stop-color="#481769"/><stop offset=".917" stop-color="#440256"/><stop offset="1" stop-color="#440154"/></linearGradient>
<linearGradient id="g82" x1="0" y1="0" x2="0" y2="1"><stop offset="0" stop-color="#440154"/><stop offset=".083" stop-color="#440256"/><stop offset=".167" stop-color="#481b6d"/><stop offset=".25" stop-color="#3f4889"/><stop offset=".333" stop-color="#2a778e"/><stop offset=".417" stop-color="#218e8d"/><stop offset=".5" stop-color="#23888e"/><stop offset=".583" stop-color="#2a768e"/><stop offset=".667" stop-color="#34618d"/><stop offset=".75" stop-color="#3f4788"/><stop offset=".833" stop-color="#482979"/><stop offset=".917" stop-color="#470d60"/><stop offset="1" stop-color="#440154"/></linearGradient>
<linearGradient id="g83" x1="0" y1="0" x2="0" y2="1"><stop offset="0" stop-color="#440154"/><stop offset=".077" stop-color="#460b5e"/><stop offset=".154" stop-color="#443a83"/><stop offset=".231" stop-color="#2a788e"/><stop offset=".308" stop-color="#2db27d"/><stop offset=".385" stop-color="#4cc26c"/><stop offset=".462" stop-color="#25ac82"/><stop offset=".538" stop-color="#23898e"/><stop offset=".615" stop-color="#306a8e"/><stop offset=".692" stop-color="#3d4e8a"/><stop offset=".769" stop-color="#46337f"/><stop offset=".846" stop-color="#481769"/><stop offset=".923" stop-color="#440256"/><stop offset="1" stop-color="#440154"/></linearGradient>
<linearGradient id="g84" x1="0" y1="0" x2="0" y2="1"><stop offset="0" stop-color="#440154"/><stop offset=".077" stop-color="#460a5d"/><stop offset=".154" stop-color="#472a7a"/><stop offset=".231" stop-color="#3c508b"/><stop offset=".308" stop-color="#2c718e"/><stop offset=".385" stop-color="#26828e"/><stop offset=".462" stop-color="#287c8e"/><stop offset=".538" stop-color="#31668e"/><stop offset=".615" stop-color="#3d4e8a"/><stop offset=".692" stop-color="#453882"/><stop offset=".769" stop-color="#482475"/><stop offset=".846" stop-color="#471164"/><stop offset=".923" stop-color="#440256"/><stop offset="1" stop-color="#440154"/></linearGradient>
<linearGradient id="g85" x1="0" y1="0" x2="0" y2="1"><stop offset="0" stop-color="#440154"/><stop offset=".083" stop-color="#450457"/><stop offset=".167" stop-color="#471164"/><stop offset=".25" stop-color="#481f70"/><stop offset=".333" stop-color="#472d7b"/><stop offset=".417" stop-color="#453882"/><stop offset=".5" stop-color="#443b84"/><stop offset=".583" stop-color="#453581"/><stop offset=".667" stop-color="#472c7a"/><stop offset=".75" stop-color="#482173"/><stop offset=".833" stop-color="#48186a"/><stop offset=".917" stop-color="#470d60"/><stop offset="1" stop-color="#440256"/></linearGradient>
<linearGradient id="g86" x1="0" y1="0" x2="0" y2="1"><stop offset="0" stop-color="#440154"/><stop offset=".083" stop-color="#46075a"/><stop offset=".167" stop-color="#482173"/><stop offset=".25" stop-color="#443a83"/><stop offset=".333" stop-color="#404688"/><stop offset=".417" stop-color="#3e4a89"/><stop offset=".5" stop-color="#3e4c8a"/><stop offset=".583" stop-color="#3f4889"/><stop offset=".667" stop-color="#424086"/><stop offset=".75" stop-color="#46327e"/><stop offset=".833" stop-color="#481f70"/><stop offset=".917" stop-color="#460b5e"/><stop offset="1" stop-color="#440154"/></linearGradient>
<linearGradient id="g87" x1="0" y1="0" x2="0" y2="1"><stop offset="0" stop-color="#440154"/><stop offset=".077" stop-color="#471063"/><stop offset=".154" stop-color="#404588"/><stop offset=".231" stop-color="#2c718e"/><stop offset=".308" stop-color="#23898e"/><stop offset=".385" stop-color="#218e8d"/><stop offset=".462" stop-color="#228d8d"/><stop offset=".538" stop-color="#238a8d"/><stop offset=".615" stop-color="#25848e"/><stop offset=".692" stop-color="#2c728e"/><stop offset=".769" stop-color="#3d4e8a"/><stop offset=".846" stop-color="#481f70"/><stop offset=".923" stop-color="#450457"/><stop offset="1" stop-color="#440154"/></linearGradient>
<linearGradient id="g88" x1="0" y1="0" x2="0" y2="1"><stop offset="0" stop-color="#440154"/><stop offset=".077" stop-color="#481769"/><stop offset=".154" stop-color="#414287"/><stop offset=".231" stop-color="#31688e"/><stop offset=".308" stop-color="#26828e"/><stop offset=".385" stop-color="#23888e"/><stop offset=".462" stop-color="#26828e"/><stop offset=".538" stop-color="#2b748e"/><stop offset=".615" stop-color="#32658e"/><stop offset=".692" stop-color="#3a538b"/><stop offset=".769" stop-color="#433d84"/><stop offset=".846" stop-color="#482071"/><stop offset=".923" stop-color="#46075a"/><stop offset="1" stop-color="#440154"/></linearGradient>
<linearGradient id="g89" x1="0" y1="0" x2="0" y2="1"><stop offset="0" stop-color="#440154"/><stop offset=".077" stop-color="#460b5e"/><stop offset=".154" stop-color="#481d6f"/><stop offset=".231" stop-color="#472d7b"/><stop offset=".308" stop-color="#443983"/><stop offset=".385" stop-color="#423f85"/><stop offset=".462" stop-color="#433e85"/><stop offset=".538" stop-color="#443983"/><stop offset=".615" stop-color="#46337f"/><stop offset=".692" stop-color="#472c7a"/><stop offset=".769" stop-color="#482475"/><stop offset=".846" stop-color="#48186a"/><stop offset=".923" stop-color="#46085c"/><stop offset="1" stop-color="#440154"/></linearGradient>
<linearGradient id="g90" x1="0" y1="0" x2="0" y2="1"><stop offset="0" stop-color="#440154"/><stop offset=".077" stop-color="#481769"/><stop offset=".154" stop-color="#3a548c"/><stop offset=".231" stop-color="#26828e"/><stop offset=".308" stop-color="#1e9c89"/><stop offset=".385" stop-color="#22a884"/><stop offset=".462" stop-color="#22a884"/><stop offset=".538" stop-color="#1e9d89"/><stop offset=".615" stop-color="#238a8d"/><stop offset=".692" stop-color="#2a778e"/><stop offset=".769" stop-color="#31668e"/><stop offset=".846" stop-color="#3f4889"/><stop offset=".923" stop-color="#481467"/><stop offset="1" stop-color="#440154"/></linearGradient>
<linearGradient id="g91" x1="0" y1="0" x2="0" y2="1"><stop offset="0" stop-color="#440154"/><stop offset=".077" stop-color="#481769"/><stop offset=".154" stop-color="#3b518b"/><stop offset=".231" stop-color="#297a8e"/><stop offset=".308" stop-color="#1f988b"/><stop offset=".385" stop-color="#32b67a"/><stop offset=".462" stop-color="#52c569"/><stop offset=".538" stop-color="#38b977"/><stop offset=".615" stop-color="#1f978b"/><stop offset=".692" stop-color="#2a768e"/><stop offset=".769" stop-color="#365d8d"/><stop offset=".846" stop-color="#433e85"/><stop offset=".923" stop-color="#471063"/><stop offset="1" stop-color="#440154"/></linearGradient>
<linearGradient id="g92" x1="0" y1="0" x2="0" y2="1"><stop offset="0" stop-color="#440154"/><stop offset=".083" stop-color="#450457"/><stop offset=".167" stop-color="#470d60"/><stop offset=".25" stop-color="#481467"/><stop offset=".333" stop-color="#481d6f"/><stop offset=".417" stop-color="#482979"/><stop offset=".5" stop-color="#472f7d"/><stop offset=".583" stop-color="#472c7a"/><stop offset=".667" stop-color="#482173"/><stop offset=".75" stop-color="#481769"/><stop offset=".833" stop-color="#470e61"/><stop offset=".917" stop-color="#46075a"/><stop offset="1" stop-color="#440154"/></linearGradient>
<linearGradient id="g93" x1="0" y1="0" x2="0" y2="1"><stop offset="0" stop-color="#440154"/><stop offset=".083" stop-color="#440256"/><stop offset=".167" stop-color="#470d60"/><stop offset=".25" stop-color="#48186a"/><stop offset=".333" stop-color="#482173"/><stop offset=".417" stop-color="#482677"/><stop offset=".5" stop-color="#482878"/><stop offset=".583" stop-color="#482374"/><stop offset=".667" stop-color="#481c6e"/><stop offset=".75" stop-color="#481467"/><stop offset=".833" stop-color="#470d60"/><stop offset=".917" stop-color="#450559"/><stop offset="1" stop-color="#440154"/></linearGradient>
<linearGradient id="g94" x1="0" y1="0" x2="0" y2="1"><stop offset="0" stop-color="#440154"/><stop offset=".077" stop-color="#481a6c"/><stop offset=".154" stop-color="#404688"/><stop offset=".231" stop-color="#32658e"/><stop offset=".308" stop-color="#2c728e"/><stop offset=".385" stop-color="#2a778e"/><stop offset=".462" stop-color="#297b8e"/><stop offset=".538" stop-color="#26828e"/><stop offset=".615" stop-color="#25838e"/><stop offset=".692" stop-color="#297b8e"/><stop offset=".769" stop-color="#32648e"/><stop offset=".846" stop-color="#423f85"/><stop offset=".923" stop-color="#471365"/><stop offset="1" stop-color="#440154"/></linearGradient>
<linearGradient id="g95" x1="0" y1="0" x2="0" y2="1"><stop offset="0" stop-color="#440154"/><stop offset=".077" stop-color="#481668"/><stop offset=".154" stop-color="#453581"/><stop offset=".231" stop-color="#3d4e8a"/><stop offset=".308" stop-color="#365d8d"/><stop offset=".385" stop-color="#31678e"/><stop offset=".462" stop-color="#2c718e"/><stop offset=".538" stop-color="#277e8e"/><stop offset=".615" stop-color="#26828e"/><stop offset=".692" stop-color="#2c738e"/><stop offset=".769" stop-color="#3a548c"/><stop offset=".846" stop-color="#472f7d"/><stop offset=".923" stop-color="#470d60"/><stop offset="1" stop-color="#440154"/></linearGradient>
<linearGradient id="g96" x1="0" y1="0" x2="0" y2="1"><stop offset="0" stop-color="#440154"/><stop offset=".077" stop-color="#450559"/><stop offset=".154" stop-color="#481467"/><stop offset=".231" stop-color="#482475"/><stop offset=".308" stop-color="#46337f"/><stop offset=".385" stop-color="#433e85"/><stop offset=".462" stop-color="#424186"/><stop offset=".538" stop-color="#433e85"/><stop offset=".615" stop-color="#453781"/><stop offset=".692" stop-color="#472a7a"/><stop offset=".769" stop-color="#481b6d"/><stop offset=".846" stop-color="#470d60"/><stop offset=".923" stop-color="#440256"/><stop offset="1" stop-color="#440154"/></linearGradient>
<linearGradient id="g97" x1="0" y1="0" x2="0" y2="1"><stop offset="0" stop-color="#440154"/><stop offset=".077" stop-color="#470e61"/><stop offset=".154" stop-color="#453781"/><stop offset=".231" stop-color="#355e8d"/><stop offset=".308" stop-color="#297a8e"/><stop offset=".385" stop-color="#24878e"/><stop offset=".462" stop-color="#26818e"/><stop offset=".538" stop-color="#2d718e"/><stop offset=".615" stop-color="#355f8d"/><stop offset=".692" stop-color="#3e4a89"/><stop offset=".769" stop-color="#46327e"/><stop offset=".846" stop-color="#481a6c"/><stop offset=".923" stop-color="#450559"/><stop offset="1" stop-color="#440154"/></linearGradient>
<linearGradient id="g98" x1="0" y1="0" x2="0" y2="1"><stop offset="0" stop-color="#440154"/><stop offset=".077" stop-color="#471063"/><stop offset=".154" stop-color="#3e4c8a"/><stop offset=".231" stop-color="#25848e"/><stop offset=".308" stop-color="#1fa088"/><stop offset=".385" stop-color="#1f9f88"/><stop offset=".462" stop-color="#21908d"/><stop offset=".538" stop-color="#26818e"/><stop offset=".615" stop-color="#2d718e"/><stop offset=".692" stop-color="#365d8d"/><stop offset=".769" stop-color="#424086"/><stop offset=".846" stop-color="#482071"/><stop offset=".923" stop-color="#46075a"/><stop offset="1" stop-color="#440154"/></linearGradient>
<linearGradient id="g99" x1="0" y1="0" x2="0" y2="1"><stop offset="0" stop-color="#440154"/><stop offset=".077" stop-color="#46075a"/><stop offset=".154" stop-color="#482576"/><stop offset=".231" stop-color="#3f4889"/><stop offset=".308" stop-color="#34618d"/><stop offset=".385" stop-color="#30698e"/><stop offset=".462" stop-color="#32658e"/><stop offset=".538" stop-color="#365d8d"/><stop offset=".615" stop-color="#3b528b"/><stop offset=".692" stop-color="#414487"/><stop offset=".769" stop-color="#46307e"/><stop offset=".846" stop-color="#481a6c"/><stop offset=".923" stop-color="#450559"/><stop offset="1" stop-color="#440154"/></linearGradient>
<linearGradient id="g100" x1="0" y1="0" x2="0" y2="1"><stop offset="0" stop-color="#440154"/><stop offset=".077" stop-color="#471063"/><stop offset=".154" stop-color="#472c7a"/><stop offset=".231" stop-color="#404688"/><stop offset=".308" stop-color="#39568c"/><stop offset=".385" stop-color="#365c8d"/><stop offset=".462" stop-color="#375b8d"/><stop offset=".538" stop-color="#375b8d"/><stop offset=".615" stop-color="#375b8d"/><stop offset=".692" stop-color="#375b8d"/><stop offset=".769" stop-color="#39558c"/><stop offset=".846" stop-color="#414487"/><stop offset=".923" stop-color="#481b6d"/><stop offset="1" stop-color="#440154"/></linearGradient>
<linearGradient id="g101" x1="0" y1="0" x2="0" y2="1"><stop offset="0" stop-color="#440154"/><stop offset=".067" stop-color="#440256"/><stop offset=".133" stop-color="#482878"/><stop offset=".2" stop-color="#39558c"/><stop offset=".267" stop-color="#2c718e"/><stop offset=".333" stop-color="#2a788e"/><stop offset=".4" stop-color="#2d718e"/><stop offset=".467" stop-color="#31678e"/><stop offset=".533" stop-color="#33638d"/><stop offset=".6" stop-color="#33628d"/><stop offset=".667" stop-color="#34618d"/><stop offset=".733" stop-color="#355e8d"/><stop offset=".8" stop-color="#3a538b"/><stop offset=".867" stop-color="#46327e"/><stop offset=".933" stop-color="#450457"/><stop offset="1" stop-color="#440154"/></linearGradient>
<linearGradient id="g102" x1="0" y1="0" x2="0" y2="1"><stop offset="0" stop-color="#440154"/><stop offset=".077" stop-color="#481668"/><stop offset=".154" stop-color="#46337f"/><stop offset=".231" stop-color="#404688"/><stop offset=".308" stop-color="#3d4d8a"/><stop offset=".385" stop-color="#3e4a89"/><stop offset=".462" stop-color="#3f4889"/><stop offset=".538" stop-color="#404688"/><stop offset=".615" stop-color="#424186"/><stop offset=".692" stop-color="#443983"/><stop offset=".769" stop-color="#472f7d"/><stop offset=".846" stop-color="#482374"/><stop offset=".923" stop-color="#471365"/><stop offset="1" stop-color="#440154"/></linearGradient>
<linearGradient id="g103" x1="0" y1="0" x2="0" y2="1"><stop offset="0" stop-color="#440154"/><stop offset=".077" stop-color="#470d60"/><stop offset=".154" stop-color="#472d7b"/><stop offset=".231" stop-color="#3e4c8a"/><stop offset=".308" stop-color="#32648e"/><stop offset=".385" stop-color="#2a768e"/><stop offset=".462" stop-color="#26828e"/><stop offset=".538" stop-color="#26828e"/><stop offset=".615" stop-color="#2b748e"/><stop offset=".692" stop-color="#365d8d"/><stop offset=".769" stop-color="#414287"/><stop offset=".846" stop-color="#482576"/><stop offset=".923" stop-color="#460b5e"/><stop offset="1" stop-color="#440154"/></linearGradient>
<linearGradient id="g104" x1="0" y1="0" x2="0" y2="1"><stop offset="0" stop-color="#440256"/><stop offset=".077" stop-color="#481a6c"/><stop offset=".154" stop-color="#443b84"/><stop offset=".231" stop-color="#39568c"/><stop offset=".308" stop-color="#306a8e"/><stop offset=".385" stop-color="#287d8e"/><stop offset=".462" stop-color="#20928c"/><stop offset=".538" stop-color="#1fa287"/><stop offset=".615" stop-color="#21a585"/><stop offset=".692" stop-color="#1f968b"/><stop offset=".769" stop-color="#29798e"/><stop offset=".846" stop-color="#3c508b"/><stop offset=".923" stop-color="#482071"/><stop offset="1" stop-color="#440256"/></linearGradient>
<linearGradient id="g105" x1="0" y1="0" x2="0" y2="1"><stop offset="0" stop-color="#440154"/><stop offset=".077" stop-color="#471063"/><stop offset=".154" stop-color="#472f7d"/><stop offset=".231" stop-color="#3d4d8a"/><stop offset=".308" stop-color="#33638d"/><stop offset=".385" stop-color="#2c738e"/><stop offset=".462" stop-color="#25848e"/><stop offset=".538" stop-color="#1f968b"/><stop offset=".615" stop-color="#20a386"/><stop offset=".692" stop-color="#1e9c89"/><stop offset=".769" stop-color="#29798e"/><stop offset=".846" stop-color="#3f4889"/><stop offset=".923" stop-color="#481769"/><stop offset="1" stop-color="#440154"/></linearGradient>
<linearGradient id="g106" x1="0" y1="0" x2="0" y2="1"><stop offset="0" stop-color="#440154"/><stop offset=".077" stop-color="#46075a"/><stop offset=".154" stop-color="#481a6c"/><stop offset=".231" stop-color="#472e7c"/><stop offset=".308" stop-color="#424086"/><stop offset=".385" stop-color="#3c4f8a"/><stop offset=".462" stop-color="#355e8d"/><stop offset=".538" stop-color="#2e6e8e"/><stop offset=".615" stop-color="#297b8e"/><stop offset=".692" stop-color="#2a778e"/><stop offset=".769" stop-color="#375a8c"/><stop offset=".846" stop-color="#472e7c"/><stop offset=".923" stop-color="#470d60"/><stop offset="1" stop-color="#440154"/></linearGradient>
<linearGradient id="g107" x1="0" y1="0" x2="0" y2="1"><stop offset="0" stop-color="#440154"/><stop offset=".077" stop-color="#440256"/><stop offset=".154" stop-color="#460b5e"/><stop offset=".231" stop-color="#481b6d"/><stop offset=".308" stop-color="#472a7a"/><stop offset=".385" stop-color="#463480"/><stop offset=".462" stop-color="#443983"/><stop offset=".538" stop-color="#443b84"/><stop offset=".615" stop-color="#443a83"/><stop offset=".692" stop-color="#46337f"/><stop offset=".769" stop-color="#482677"/><stop offset=".846" stop-color="#481769"/><stop offset=".923" stop-color="#46075a"/><stop offset="1" stop-color="#440154"/></linearGradient>
<linearGradient id="g108" x1="0" y1="0" x2="0" y2="1"><stop offset="0" stop-color="#440154"/><stop offset=".083" stop-color="#450559"/><stop offset=".167" stop-color="#470d60"/><stop offset=".25" stop-color="#471365"/><stop offset=".333" stop-color="#48186a"/><stop offset=".417" stop-color="#481b6d"/><stop offset=".5" stop-color="#481b6d"/><stop offset=".583" stop-color="#481a6c"/><stop offset=".667" stop-color="#481769"/><stop offset=".75" stop-color="#471164"/><stop offset=".833" stop-color="#470d60"/><stop offset=".917" stop-color="#450559"/><stop offset="1" stop-color="#440154"/></linearGradient>
<linearGradient id="g109" x1="0" y1="0" x2="0" y2="1"><stop offset="0" stop-color="#440154"/><stop offset=".067" stop-color="#440256"/><stop offset=".133" stop-color="#481b6d"/><stop offset=".2" stop-color="#443b84"/><stop offset=".267" stop-color="#39558c"/><stop offset=".333" stop-color="#2e6d8e"/><stop offset=".4" stop-color="#238a8d"/><stop offset=".467" stop-color="#23a983"/><stop offset=".533" stop-color="#3fbc73"/><stop offset=".6" stop-color="#42be71"/><stop offset=".667" stop-color="#2fb47c"/><stop offset=".733" stop-color="#20a486"/><stop offset=".8" stop-color="#25858e"/><stop offset=".867" stop-color="#404688"/><stop offset=".933" stop-color="#450559"/><stop offset="1" stop-color="#440154"/></linearGradient>
<linearGradient id="g110" x1="0" y1="0" x2="0" y2="1"><stop offset="0" stop-color="#440154"/><stop offset=".067" stop-color="#450559"/><stop offset=".133" stop-color="#472c7a"/><stop offset=".2" stop-color="#3e4a89"/><stop offset=".267" stop-color="#38598c"/><stop offset=".333" stop-color="#31688e"/><stop offset=".4" stop-color="#25858e"/><stop offset=".467" stop-color="#2cb17e"/><stop offset=".533" stop-color="#86d549"/><stop offset=".6" stop-color="#a8db34"/><stop offset=".667" stop-color="#a0da39"/><stop offset=".733" stop-color="#70cf57"/><stop offset=".8" stop-color="#1fa188"/><stop offset=".867" stop-color="#3d4e8a"/><stop offset=".933" stop-color="#46075a"/><stop offset="1" stop-color="#440154"/></linearGradient>
<linearGradient id="g111" x1="0" y1="0" x2="0" y2="1"><stop offset="0" stop-color="#440154"/><stop offset=".077" stop-color="#46085c"/><stop offset=".154" stop-color="#471365"/><stop offset=".231" stop-color="#481b6d"/><stop offset=".308" stop-color="#482576"/><stop offset=".385" stop-color="#453781"/><stop offset=".462" stop-color="#3c4f8a"/><stop offset=".538" stop-color="#34608d"/><stop offset=".615" stop-color="#34608d"/><stop offset=".692" stop-color="#3b528b"/><stop offset=".769" stop-color="#423f85"/><stop offset=".846" stop-color="#482677"/><stop offset=".923" stop-color="#470d60"/><stop offset="1" stop-color="#440154"/></linearGradient>
<linearGradient id="g112" x1="0" y1="0" x2="0" y2="1"><stop offset="0" stop-color="#440154"/><stop offset=".077" stop-color="#46075a"/><stop offset=".154" stop-color="#481467"/><stop offset=".231" stop-color="#482173"/><stop offset=".308" stop-color="#46327e"/><stop offset=".385" stop-color="#3d4d8a"/><stop offset=".462" stop-color="#30698e"/><stop offset=".538" stop-color="#2a768e"/><stop offset=".615" stop-color="#2e6f8e"/><stop offset=".692" stop-color="#38598c"/><stop offset=".769" stop-color="#433d84"/><stop offset=".846" stop-color="#482071"/><stop offset=".923" stop-color="#460a5d"/><stop offset="1" stop-color="#440154"/></linearGradient>
<linearGradient id="g113" x1="0" y1="0" x2="0" y2="1"><stop offset="0" stop-color="#440154"/><stop offset=".077" stop-color="#471063"/><stop offset=".154" stop-color="#472d7b"/><stop offset=".231" stop-color="#3d4d8a"/><stop offset=".308" stop-color="#2c718e"/><stop offset=".385" stop-color="#1e9b8a"/><stop offset=".462" stop-color="#4ac16d"/><stop offset=".538" stop-color="#84d44b"/><stop offset=".615" stop-color="#7cd250"/><stop offset=".692" stop-color="#38b977"/><stop offset=".769" stop-color="#25848e"/><stop offset=".846" stop-color="#3e4989"/><stop offset=".923" stop-color="#481769"/><stop offset="1" stop-color="#440154"/></linearGradient>
<linearGradient id="g114" x1="0" y1="0" x2="0" y2="1"><stop offset="0" stop-color="#440154"/><stop offset=".067" stop-color="#46085c"/><stop offset=".133" stop-color="#46327e"/><stop offset=".2" stop-color="#31668e"/><stop offset=".267" stop-color="#1f968b"/><stop offset=".333" stop-color="#3bbb75"/><stop offset=".4" stop-color="#6ccd5a"/><stop offset=".467" stop-color="#89d548"/><stop offset=".533" stop-color="#89d548"/><stop offset=".6" stop-color="#69cd5b"/><stop offset=".667" stop-color="#34b679"/><stop offset=".733" stop-color="#20938c"/><stop offset=".8" stop-color="#31678e"/><stop offset=".867" stop-color="#472f7d"/><stop offset=".933" stop-color="#46075a"/><stop offset="1" stop-color="#440154"/></linearGradient>
<linearGradient id="g115" x1="0" y1="0" x2="0" y2="1"><stop offset="0" stop-color="#440154"/><stop offset=".067" stop-color="#450457"/><stop offset=".133" stop-color="#481f70"/><stop offset=".2" stop-color="#3d4e8a"/><stop offset=".267" stop-color="#2a778e"/><stop offset=".333" stop-color="#23898e"/><stop offset=".4" stop-color="#25848e"/><stop offset=".467" stop-color="#29798e"/><stop offset=".533" stop-color="#2d708e"/><stop offset=".6" stop-color="#31668e"/><stop offset=".667" stop-color="#38598c"/><stop offset=".733" stop-color="#3f4788"/><stop offset=".8" stop-color="#472f7d"/><stop offset=".867" stop-color="#481668"/><stop offset=".933" stop-color="#440256"/><stop offset="1" stop-color="#440154"/></linearGradient>
<linearGradient id="g116" x1="0" y1="0" x2="0" y2="1"><stop offset="0" stop-color="#440154"/><stop offset=".067" stop-color="#450559"/><stop offset=".133" stop-color="#46307e"/><stop offset=".2" stop-color="#2d708e"/><stop offset=".267" stop-color="#1fa287"/><stop offset=".333" stop-color="#34b679"/><stop offset=".4" stop-color="#2cb17e"/><stop offset=".467" stop-color="#21a685"/><stop offset=".533" stop-color="#21a685"/><stop offset=".6" stop-color="#28ae80"/><stop offset=".667" stop-color="#28ae80"/><stop offset=".733" stop-color="#1f978b"/><stop offset=".8" stop-color="#2e6e8e"/><stop offset=".867" stop-color="#443a83"/><stop offset=".933" stop-color="#460a5d"/><stop offset="1" stop-color="#440154"/></linearGradient>
<linearGradient id="g117" x1="0" y1="0" x2="0" y2="1"><stop offset="0" stop-color="#440154"/><stop offset=".067" stop-color="#450559"/><stop offset=".133" stop-color="#482173"/><stop offset=".2" stop-color="#404588"/><stop offset=".267" stop-color="#365c8d"/><stop offset=".333" stop-color="#2f6c8e"/><stop offset=".4" stop-color="#277e8e"/><stop offset=".467" stop-color="#1f998a"/><stop offset=".533" stop-color="#38b977"/><stop offset=".6" stop-color="#6ece58"/><stop offset=".667" stop-color="#6ccd5a"/><stop offset=".733" stop-color="#28ae80"/><stop offset=".8" stop-color="#297a8e"/><stop offset=".867" stop-color="#423f85"/><stop offset=".933" stop-color="#460b5e"/><stop offset="1" stop-color="#440154"/></linearGradient>
<linearGradient id="g118" x1="0" y1="0" x2="0" y2="1"><stop offset="0" stop-color="#440154"/><stop offset=".077" stop-color="#46075a"/><stop offset=".154" stop-color="#471164"/><stop offset=".231" stop-color="#481b6d"/><stop offset=".308" stop-color="#482677"/><stop offset=".385" stop-color="#453581"/><stop offset=".462" stop-color="#3f4788"/><stop offset=".538" stop-color="#39568c"/><stop offset=".615" stop-color="#38598c"/><stop offset=".692" stop-color="#3e4a89"/><stop offset=".769" stop-color="#46337f"/><stop offset=".846" stop-color="#481c6e"/><stop offset=".923" stop-color="#460b5e"/><stop offset="1" stop-color="#440154"/></linearGradient>
<linearGradient id="g119" x1="0" y1="0" x2="0" y2="1"><stop offset="0" stop-color="#440154"/><stop offset=".071" stop-color="#46085c"/><stop offset=".143" stop-color="#481467"/><stop offset=".214" stop-color="#482475"/><stop offset=".286" stop-color="#443a83"/><stop offset=".357" stop-color="#375a8c"/><stop offset=".429" stop-color="#2a778e"/><stop offset=".5" stop-color="#25848e"/><stop offset=".571" stop-color="#287c8e"/><stop offset=".643" stop-color="#31668e"/><stop offset=".714" stop-color="#404688"/><stop offset=".786" stop-color="#482878"/><stop offset=".857" stop-color="#471063"/><stop offset=".929" stop-color="#440256"/><stop offset="1" stop-color="#440154"/></linearGradient>
<linearGradient id="g120" x1="0" y1="0" x2="0" y2="1"><stop offset="0" stop-color="#440154"/><stop offset=".071" stop-color="#471164"/><stop offset=".143" stop-color="#472a7a"/><stop offset=".214" stop-color="#3f4889"/><stop offset=".286" stop-color="#2e6d8e"/><stop offset=".357" stop-color="#1e9c89"/><stop offset=".429" stop-color="#54c568"/><stop offset=".5" stop-color="#7ad151"/><stop offset=".571" stop-color="#4ac16d"/><stop offset=".643" stop-color="#1f998a"/><stop offset=".714" stop-color="#2e6e8e"/><stop offset=".786" stop-color="#414487"/><stop offset=".857" stop-color="#481b6d"/><stop offset=".929" stop-color="#440256"/><stop offset="1" stop-color="#440154"/></linearGradient>
<linearGradient id="g121" x1="0" y1="0" x2="0" y2="1"><stop offset="0" stop-color="#440154"/><stop offset=".067" stop-color="#440256"/><stop offset=".133" stop-color="#481f70"/><stop offset=".2" stop-color="#3a548c"/><stop offset=".267" stop-color="#228c8d"/><stop offset=".333" stop-color="#4ec36b"/><stop offset=".4" stop-color="#a2da37"/><stop offset=".467" stop-color="#b0dd2f"/><stop offset=".533" stop-color="#95d840"/><stop offset=".6" stop-color="#52c569"/><stop offset=".667" stop-color="#1fa187"/><stop offset=".733" stop-color="#277f8e"/><stop offset=".8" stop-color="#355e8d"/><stop offset=".867" stop-color="#472e7c"/><stop offset=".933" stop-color="#450457"/><stop offset="1" stop-color="#440154"/></linearGradient>
<linearGradient id="g122" x1="0" y1="0" x2="0" y2="1"><stop offset="0" stop-color="#440154"/><stop offset=".067" stop-color="#46085c"/><stop offset=".133" stop-color="#453581"/><stop offset=".2" stop-color="#2c728e"/><stop offset=".267" stop-color="#2ab07f"/><stop offset=".333" stop-color="#77d153"/><stop offset=".4" stop-color="#65cb5e"/><stop offset=".467" stop-color="#31b57b"/><stop offset=".533" stop-color="#1f9f88"/><stop offset=".6" stop-color="#218e8d"/><stop offset=".667" stop-color="#29798e"/><stop offset=".733" stop-color="#34618d"/><stop offset=".8" stop-color="#3f4788"/><stop offset=".867" stop-color="#482878"/><stop offset=".933" stop-color="#46075a"/><stop offset="1" stop-color="#440154"/></linearGradient>
<linearGradient id="g123" x1="0" y1="0" x2="0" y2="1"><stop offset="0" stop-color="#440154"/><stop offset=".071" stop-color="#450457"/><stop offset=".143" stop-color="#482677"/><stop offset=".214" stop-color="#355f8d"/><stop offset=".286" stop-color="#25848e"/><stop offset=".357" stop-color="#26828e"/><stop offset=".429" stop-color="#31678e"/><stop offset=".5" stop-color="#3c508b"/><stop offset=".571" stop-color="#414487"/><stop offset=".643" stop-color="#443a83"/><stop offset=".714" stop-color="#472d7b"/><stop offset=".786" stop-color="#481f70"/><stop offset=".857" stop-color="#471164"/><stop offset=".929" stop-color="#46075a"/><stop offset="1" stop-color="#440154"/></linearGradient>
<linearGradient id="g124" x1="0" y1="0" x2="0" y2="1"><stop offset="0" stop-color="#440154"/><stop offset=".083" stop-color="#450559"/><stop offset=".167" stop-color="#481668"/><stop offset=".25" stop-color="#482374"/><stop offset=".333" stop-color="#482576"/><stop offset=".417" stop-color="#482071"/><stop offset=".5" stop-color="#481b6d"/><stop offset=".583" stop-color="#481668"/><stop offset=".667" stop-color="#471063"/><stop offset=".75" stop-color="#460a5d"/><stop offset=".833" stop-color="#450559"/><stop offset=".917" stop-color="#440256"/><stop offset="1" stop-color="#440154"/></linearGradient>
<linearGradient id="g125" x1="0" y1="0" x2="0" y2="1"><stop offset="0" stop-color="#440154"/><stop offset=".083" stop-color="#450559"/><stop offset=".167" stop-color="#471365"/><stop offset=".25" stop-color="#481d6f"/><stop offset=".333" stop-color="#482374"/><stop offset=".417" stop-color="#482374"/><stop offset=".5" stop-color="#481f70"/><stop offset=".583" stop-color="#48186a"/><stop offset=".667" stop-color="#471365"/><stop offset=".75" stop-color="#470d60"/><stop offset=".833" stop-color="#46085c"/><stop offset=".917" stop-color="#450457"/><stop offset="1" stop-color="#440256"/></linearGradient>
<linearGradient id="g126" x1="0" y1="0" x2="0" y2="1"><stop offset="0" stop-color="#440154"/><stop offset=".067" stop-color="#46075a"/><stop offset=".133" stop-color="#472c7a"/><stop offset=".2" stop-color="#3c508b"/><stop offset=".267" stop-color="#32658e"/><stop offset=".333" stop-color="#2e6e8e"/><stop offset=".4" stop-color="#2d708e"/><stop offset=".467" stop-color="#2e6f8e"/><stop offset=".533" stop-color="#30698e"/><stop offset=".6" stop-color="#34608d"/><stop offset=".667" stop-color="#3a538b"/><stop offset=".733" stop-color="#414487"/><stop offset=".8" stop-color="#46327e"/><stop offset=".867" stop-color="#481c6e"/><stop offset=".933" stop-color="#450559"/><stop offset="1" stop-color="#440154"/></linearGradient>
<linearGradient id="g127" x1="0" y1="0" x2="0" y2="1"><stop offset="0" stop-color="#440154"/><stop offset=".067" stop-color="#46075a"/><stop offset=".133" stop-color="#482677"/><stop offset=".2" stop-color="#3e4989"/><stop offset=".267" stop-color="#355f8d"/><stop offset=".333" stop-color="#306a8e"/><stop offset=".4" stop-color="#2d718e"/><stop offset=".467" stop-color="#297a8e"/><stop offset=".533" stop-color="#26828e"/><stop offset=".6" stop-color="#26828e"/><stop offset=".667" stop-color="#2a778e"/><stop offset=".733" stop-color="#30698e"/><stop offset=".8" stop-color="#39568c"/><stop offset=".867" stop-color="#443983"/><stop offset=".933" stop-color="#471063"/><stop offset="1" stop-color="#440154"/></linearGradient>
<linearGradient id="g128" x1="0" y1="0" x2="0" y2="1"><stop offset="0" stop-color="#440154"/><stop offset=".071" stop-color="#470d60"/><stop offset=".143" stop-color="#482878"/><stop offset=".214" stop-color="#404688"/><stop offset=".286" stop-color="#365d8d"/><stop offset=".357" stop-color="#306a8e"/><stop offset=".429" stop-color="#2b748e"/><stop offset=".5" stop-color="#287d8e"/><stop offset=".571" stop-color="#297b8e"/><stop offset=".643" stop-color="#2e6f8e"/><stop offset=".714" stop-color="#365c8d"/><stop offset=".786" stop-color="#404588"/><stop offset=".857" stop-color="#482576"/><stop offset=".929" stop-color="#46075a"/><stop offset="1" stop-color="#440154"/></linearGradient>
<linearGradient id="g129" x1="0" y1="0" x2="0" y2="1"><stop offset="0" stop-color="#440154"/><stop offset=".071" stop-color="#460a5d"/><stop offset=".143" stop-color="#482576"/><stop offset=".214" stop-color="#3e4c8a"/><stop offset=".286" stop-color="#2e6f8e"/><stop offset=".357" stop-color="#25858e"/><stop offset=".429" stop-color="#1e9b8a"/><stop offset=".5" stop-color="#34b679"/><stop offset=".571" stop-color="#5ac864"/><stop offset=".643" stop-color="#44bf70"/><stop offset=".714" stop-color="#1f978b"/><stop offset=".786" stop-color="#34618d"/><stop offset=".857" stop-color="#482677"/><stop offset=".929" stop-color="#450457"/><stop offset="1" stop-color="#440154"/></linearGradient>
<linearGradient id="g130" x1="0" y1="0" x2="0" y2="1"><stop offset="0" stop-color="#440154"/><stop offset=".071" stop-color="#470e61"/><stop offset=".143" stop-color="#472c7a"/><stop offset=".214" stop-color="#38588c"/><stop offset=".286" stop-color="#23898e"/><stop offset=".357" stop-color="#35b779"/><stop offset=".429" stop-color="#7fd34e"/><stop offset=".5" stop-color="#a2da37"/><stop offset=".571" stop-color="#a5db36"/><stop offset=".643" stop-color="#8bd646"/><stop offset=".714" stop-color="#3dbc74"/><stop offset=".786" stop-color="#26828e"/><stop offset=".857" stop-color="#453882"/><stop offset=".929" stop-color="#450559"/><stop offset="1" stop-color="#440154"/></linearGradient>
<linearGradient id="g131" x1="0" y1="0" x2="0" y2="1"><stop offset="0" stop-color="#440154"/><stop offset=".062" stop-color="#460b5e"/><stop offset=".125" stop-color="#482979"/><stop offset=".188" stop-color="#3e4989"/><stop offset=".25" stop-color="#2d708e"/><stop offset=".312" stop-color="#1fa287"/><stop offset=".375" stop-color="#73d056"/><stop offset=".438" stop-color="#95d840"/><stop offset=".5" stop-color="#56c667"/><stop offset=".562" stop-color="#20a386"/><stop offset=".625" stop-color="#23898e"/><stop offset=".688" stop-color="#297a8e"/><stop offset=".75" stop-color="#2f6b8e"/><stop offset=".812" stop-color="#3e4c8a"/><stop offset=".875" stop-color="#481668"/><stop offset=".938" stop-color="#440256"/><stop offset="1" stop-color="#440154"/></linearGradient>
<linearGradient id="g132" x1="0" y1="0" x2="0" y2="1"><stop offset="0" stop-color="#440154"/><stop offset=".067" stop-color="#450559"/><stop offset=".133" stop-color="#482576"/><stop offset=".2" stop-color="#3f4889"/><stop offset=".267" stop-color="#32648e"/><stop offset=".333" stop-color="#277e8e"/><stop offset=".4" stop-color="#1f958b"/><stop offset=".467" stop-color="#1f9a8a"/><stop offset=".533" stop-color="#25858e"/><stop offset=".6" stop-color="#31678e"/><stop offset=".667" stop-color="#3c4f8a"/><stop offset=".733" stop-color="#433e85"/><stop offset=".8" stop-color="#46327e"/><stop offset=".867" stop-color="#481f70"/><stop offset=".933" stop-color="#46075a"/><stop offset="1" stop-color="#440154"/></linearGradient>
<linearGradient id="g133" x1="0" y1="0" x2="0" y2="1"><stop offset="0" stop-color="#440154"/><stop offset=".067" stop-color="#450559"/><stop offset=".133" stop-color="#472c7a"/><stop offset=".2" stop-color="#39558c"/><stop offset=".267" stop-color="#2f6c8e"/><stop offset=".333" stop-color="#2a768e"/><stop offset=".4" stop-color="#277e8e"/><stop offset=".467" stop-color="#24878e"/><stop offset=".533" stop-color="#23888e"/><stop offset=".6" stop-color="#297b8e"/><stop offset=".667" stop-color="#31688e"/><stop offset=".733" stop-color="#39568c"/><stop offset=".8" stop-color="#414487"/><stop offset=".867" stop-color="#482878"/><stop offset=".933" stop-color="#46075a"/><stop offset="1" stop-color="#440154"/></linearGradient>
<linearGradient id="g134" x1="0" y1="0" x2="0" y2="1"><stop offset="0" stop-color="#440154"/><stop offset=".067" stop-color="#46085c"/><stop offset=".133" stop-color="#46307e"/><stop offset=".2" stop-color="#365d8d"/><stop offset=".267" stop-color="#277f8e"/><stop offset=".333" stop-color="#1f978b"/><stop offset=".4" stop-color="#21a685"/><stop offset=".467" stop-color="#26ad81"/><stop offset=".533" stop-color="#23a983"/><stop offset=".6" stop-color="#1f998a"/><stop offset=".667" stop-color="#25858e"/><stop offset=".733" stop-color="#2c738e"/><stop offset=".8" stop-color="#34618d"/><stop offset=".867" stop-color="#433e85"/><stop offset=".933" stop-color="#470d60"/><stop offset="1" stop-color="#440154"/></linearGradient>
<linearGradient id="g135" x1="0" y1="0" x2="0" y2="1"><stop offset="0" stop-color="#440154"/><stop offset=".067" stop-color="#440256"/><stop offset=".133" stop-color="#471365"/><stop offset=".2" stop-color="#472d7b"/><stop offset=".267" stop-color="#3e4a89"/><stop offset=".333" stop-color="#31678e"/><stop offset=".4" stop-color="#277f8e"/><stop offset=".467" stop-color="#228d8d"/><stop offset=".533" stop-color="#238a8d"/><stop offset=".6" stop-color="#297a8e"/><stop offset=".667" stop-color="#32658e"/><stop offset=".733" stop-color="#3b528b"/><stop offset=".8" stop-color="#423f85"/><stop offset=".867" stop-color="#482374"/><stop offset=".933" stop-color="#450559"/><stop offset="1" stop-color="#440154"/></linearGradient>
<linearGradient id="g136" x1="0" y1="0" x2="0" y2="1"><stop offset="0" stop-color="#440154"/><stop offset=".077" stop-color="#450457"/><stop offset=".154" stop-color="#460a5d"/><stop offset=".231" stop-color="#471063"/><stop offset=".308" stop-color="#48186a"/><stop offset=".385" stop-color="#481f70"/><stop offset=".462" stop-color="#482173"/><stop offset=".538" stop-color="#482071"/><stop offset=".615" stop-color="#481c6e"/><stop offset=".692" stop-color="#48186a"/><stop offset=".769" stop-color="#481467"/><stop offset=".846" stop-color="#470e61"/><stop offset=".923" stop-color="#46075a"/><stop offset="1" stop-color="#440154"/></linearGradient>
<linearGradient id="g137" x1="0" y1="0" x2="0" y2="1"><stop offset="0" stop-color="#440154"/><stop offset=".067" stop-color="#450457"/><stop offset=".133" stop-color="#481668"/><stop offset=".2" stop-color="#472f7d"/><stop offset=".267" stop-color="#3c508b"/><stop offset=".333" stop-color="#2e6d8e"/><stop offset=".4" stop-color="#29798e"/><stop offset=".467" stop-color="#2c728e"/><stop offset=".533" stop-color="#32648e"/><stop offset=".6" stop-color="#3a548c"/><stop offset=".667" stop-color="#3f4788"/><stop offset=".733" stop-color="#443983"/><stop offset=".8" stop-color="#482878"/><stop offset=".867" stop-color="#481668"/><stop offset=".933" stop-color="#450559"/><stop offset="1" stop-color="#440154"/></linearGradient>
<linearGradient id="g138" x1="0" y1="0" x2="0" y2="1"><stop offset="0" stop-color="#440154"/><stop offset=".071" stop-color="#471063"/><stop offset=".143" stop-color="#46307e"/><stop offset=".214" stop-color="#365d8d"/><stop offset=".286" stop-color="#277e8e"/><stop offset=".357" stop-color="#23888e"/><stop offset=".429" stop-color="#26828e"/><stop offset=".5" stop-color="#2a778e"/><stop offset=".571" stop-color="#306a8e"/><stop offset=".643" stop-color="#39558c"/><stop offset=".714" stop-color="#443a83"/><stop offset=".786" stop-color="#482374"/><stop offset=".857" stop-color="#470e61"/><stop offset=".929" stop-color="#440256"/><stop offset="1" stop-color="#440154"/></linearGradient>
<linearGradient id="g139" x1="0" y1="0" x2="0" y2="1"><stop offset="0" stop-color="#440154"/><stop offset=".077" stop-color="#460a5d"/><stop offset=".154" stop-color="#481a6c"/><stop offset=".231" stop-color="#472a7a"/><stop offset=".308" stop-color="#453581"/><stop offset=".385" stop-color="#433e85"/><stop offset=".462" stop-color="#404688"/><stop offset=".538" stop-color="#3c508b"/><stop offset=".615" stop-color="#39568c"/><stop offset=".692" stop-color="#3c4f8a"/><stop offset=".769" stop-color="#453882"/><stop offset=".846" stop-color="#481d6f"/><stop offset=".923" stop-color="#460b5e"/><stop offset="1" stop-color="#440154"/></linearGradient>
<linearGradient id="g140" x1="0" y1="0" x2="0" y2="1"><stop offset="0" stop-color="#440154"/><stop offset=".077" stop-color="#470d60"/><stop offset=".154" stop-color="#482475"/><stop offset=".231" stop-color="#443a83"/><stop offset=".308" stop-color="#3f4889"/><stop offset=".385" stop-color="#3a538b"/><stop offset=".462" stop-color="#34618d"/><stop offset=".538" stop-color="#2c728e"/><stop offset=".615" stop-color="#27808e"/><stop offset=".692" stop-color="#297a8e"/><stop offset=".769" stop-color="#365d8d"/><stop offset=".846" stop-color="#453581"/><stop offset=".923" stop-color="#481467"/><stop offset="1" stop-color="#440256"/></linearGradient>
<linearGradient id="g141" x1="0" y1="0" x2="0" y2="1"><stop offset="0" stop-color="#440154"/><stop offset=".067" stop-color="#46075a"/><stop offset=".133" stop-color="#472a7a"/><stop offset=".2" stop-color="#38588c"/><stop offset=".267" stop-color="#2c738e"/><stop offset=".333" stop-color="#2a778e"/><stop offset=".4" stop-color="#2d708e"/><stop offset=".467" stop-color="#2f6c8e"/><stop offset=".533" stop-color="#2e6e8e"/><stop offset=".6" stop-color="#2e6f8e"/><stop offset=".667" stop-color="#32658e"/><stop offset=".733" stop-color="#3c508b"/><stop offset=".8" stop-color="#443983"/><stop offset=".867" stop-color="#482071"/><stop offset=".933" stop-color="#46075a"/><stop offset="1" stop-color="#440154"/></linearGradient>
<linearGradient id="g142" x1="0" y1="0" x2="0" y2="1"><stop offset="0" stop-color="#440154"/><stop offset=".067" stop-color="#440256"/><stop offset=".133" stop-color="#460b5e"/><stop offset=".2" stop-color="#48186a"/><stop offset=".267" stop-color="#482173"/><stop offset=".333" stop-color="#482576"/><stop offset=".4" stop-color="#482576"/><stop offset=".467" stop-color="#482576"/><stop offset=".533" stop-color="#482979"/><stop offset=".6" stop-color="#472a7a"/><stop offset=".667" stop-color="#482475"/><stop offset=".733" stop-color="#481a6c"/><stop offset=".8" stop-color="#471063"/><stop offset=".867" stop-color="#46085c"/><stop offset=".933" stop-color="#440256"/><stop offset="1" stop-color="#440154"/></linearGradient>
<linearGradient id="g143" x1="0" y1="0" x2="0" y2="1"><stop offset="0" stop-color="#440154"/><stop offset=".077" stop-color="#450457"/><stop offset=".154" stop-color="#46085c"/><stop offset=".231" stop-color="#470e61"/><stop offset=".308" stop-color="#481668"/><stop offset=".385" stop-color="#481a6c"/><stop offset=".462" stop-color="#481d6f"/><stop offset=".538" stop-color="#482071"/><stop offset=".615" stop-color="#482071"/><stop offset=".692" stop-color="#481b6d"/><stop offset=".769" stop-color="#471164"/><stop offset=".846" stop-color="#460a5d"/><stop offset=".923" stop-color="#450457"/><stop offset="1" stop-color="#440154"/></linearGradient>
<linearGradient id="g144" x1="0" y1="0" x2="0" y2="1"><stop offset="0" stop-color="#440154"/><stop offset=".067" stop-color="#450457"/><stop offset=".133" stop-color="#481668"/><stop offset=".2" stop-color="#46327e"/><stop offset=".267" stop-color="#3b528b"/><stop offset=".333" stop-color="#2e6f8e"/><stop offset=".4" stop-color="#277f8e"/><stop offset=".467" stop-color="#24878e"/><stop offset=".533" stop-color="#228b8d"/><stop offset=".6" stop-color="#228c8d"/><stop offset=".667" stop-color="#26828e"/><stop offset=".733" stop-color="#2e6e8e"/><stop offset=".8" stop-color="#3b528b"/><stop offset=".867" stop-color="#46307e"/><stop offset=".933" stop-color="#460b5e"/><stop offset="1" stop-color="#440256"/></linearGradient>
<linearGradient id="g145" x1="0" y1="0" x2="0" y2="1"><stop offset="0" stop-color="#440256"/><stop offset=".071" stop-color="#481769"/><stop offset=".143" stop-color="#3e4989"/><stop offset=".214" stop-color="#218e8d"/><stop offset=".286" stop-color="#5ac864"/><stop offset=".357" stop-color="#93d741"/><stop offset=".429" stop-color="#8bd646"/><stop offset=".5" stop-color="#65cb5e"/><stop offset=".571" stop-color="#46c06f"/><stop offset=".643" stop-color="#27ad81"/><stop offset=".714" stop-color="#228b8d"/><stop offset=".786" stop-color="#375b8d"/><stop offset=".857" stop-color="#482576"/><stop offset=".929" stop-color="#450457"/><stop offset="1" stop-color="#440154"/></linearGradient>
<linearGradient id="g146" x1="0" y1="0" x2="0" y2="1"><stop offset="0" stop-color="#440154"/><stop offset=".067" stop-color="#450559"/><stop offset=".133" stop-color="#472c7a"/><stop offset=".2" stop-color="#30698e"/><stop offset=".267" stop-color="#20a386"/><stop offset=".333" stop-color="#5cc863"/><stop offset=".4" stop-color="#8bd646"/><stop offset=".467" stop-color="#9dd93b"/><stop offset=".533" stop-color="#a8db34"/><stop offset=".6" stop-color="#a5db36"/><stop offset=".667" stop-color="#81d34d"/><stop offset=".733" stop-color="#28ae80"/><stop offset=".8" stop-color="#2e6f8e"/><stop offset=".867" stop-color="#472f7d"/><stop offset=".933" stop-color="#46075a"/><stop offset="1" stop-color="#440154"/></linearGradient>
<linearGradient id="g147" x1="0" y1="0" x2="0" y2="1"><stop offset="0" stop-color="#440154"/><stop offset=".059" stop-color="#440256"/><stop offset=".118" stop-color="#471063"/><stop offset=".176" stop-color="#443b84"/><stop offset=".235" stop-color="#365d8d"/><stop offset=".294" stop-color="#2e6f8e"/><stop offset=".353" stop-color="#287c8e"/><stop offset=".412" stop-color="#228c8d"/><stop offset=".471" stop-color="#1fa187"/><stop offset=".529" stop-color="#34b679"/><stop offset=".588" stop-color="#4ac16d"/><stop offset=".647" stop-color="#4ec36b"/><stop offset=".706" stop-color="#2fb47c"/><stop offset=".765" stop-color="#24868e"/><stop offset=".824" stop-color="#3f4889"/><stop offset=".882" stop-color="#471164"/><stop offset=".941" stop-color="#450457"/><stop offset="1" stop-color="#440154"/></linearGradient>
<linearGradient id="g148" x1="0" y1="0" x2="0" y2="1"><stop offset="0" stop-color="#440154"/><stop offset=".059" stop-color="#450457"/><stop offset=".118" stop-color="#471164"/><stop offset=".176" stop-color="#443b84"/><stop offset=".235" stop-color="#39568c"/><stop offset=".294" stop-color="#32658e"/><stop offset=".353" stop-color="#2b758e"/><stop offset=".412" stop-color="#24868e"/><stop offset=".471" stop-color="#228d8d"/><stop offset=".529" stop-color="#25838e"/><stop offset=".588" stop-color="#2a768e"/><stop offset=".647" stop-color="#2c718e"/><stop offset=".706" stop-color="#2b748e"/><stop offset=".765" stop-color="#2f6c8e"/><stop offset=".824" stop-color="#404688"/><stop offset=".882" stop-color="#481467"/><stop offset=".941" stop-color="#450457"/><stop offset="1" stop-color="#440154"/></linearGradient>
<linearGradient id="g149" x1="0" y1="0" x2="0" y2="1"><stop offset="0" stop-color="#440154"/><stop offset=".067" stop-color="#46075a"/><stop offset=".133" stop-color="#482475"/><stop offset=".2" stop-color="#3f4788"/><stop offset=".267" stop-color="#32658e"/><stop offset=".333" stop-color="#287d8e"/><stop offset=".4" stop-color="#25848e"/><stop offset=".467" stop-color="#2c728e"/><stop offset=".533" stop-color="#3a548c"/><stop offset=".6" stop-color="#443b84"/><stop offset=".667" stop-color="#46307e"/><stop offset=".733" stop-color="#472d7b"/><stop offset=".8" stop-color="#482979"/><stop offset=".867" stop-color="#481b6d"/><stop offset=".933" stop-color="#450559"/><stop offset="1" stop-color="#440154"/></linearGradient>
<linearGradient id="g150" x1="0" y1="0" x2="0" y2="1"><stop offset="0" stop-color="#440154"/><stop offset=".067" stop-color="#46085c"/><stop offset=".133" stop-color="#482878"/><stop offset=".2" stop-color="#3b518b"/><stop offset=".267" stop-color="#297b8e"/><stop offset=".333" stop-color="#1f9a8a"/><stop offset=".4" stop-color="#1e9c89"/><stop offset=".467" stop-color="#277e8e"/><stop offset=".533" stop-color="#3a548c"/><stop offset=".6" stop-color="#46327e"/><stop offset=".667" stop-color="#481f70"/><stop offset=".733" stop-color="#481769"/><stop offset=".8" stop-color="#471164"/><stop offset=".867" stop-color="#460a5d"/><stop offset=".933" stop-color="#440256"/><stop offset="1" stop-color="#440154"/></linearGradient>
<linearGradient id="g151" x1="0" y1="0" x2="0" y2="1"><stop offset="0" stop-color="#440154"/><stop offset=".062" stop-color="#440256"/><stop offset=".125" stop-color="#460b5e"/><stop offset=".188" stop-color="#46307e"/><stop offset=".25" stop-color="#34618d"/><stop offset=".312" stop-color="#1f988b"/><stop offset=".375" stop-color="#5ec962"/><stop offset=".438" stop-color="#95d840"/><stop offset=".5" stop-color="#5cc863"/><stop offset=".562" stop-color="#21908d"/><stop offset=".625" stop-color="#365c8d"/><stop offset=".688" stop-color="#443a83"/><stop offset=".75" stop-color="#482878"/><stop offset=".812" stop-color="#481c6e"/><stop offset=".875" stop-color="#471164"/><stop offset=".938" stop-color="#450457"/><stop offset="1" stop-color="#440154"/></linearGradient>
<linearGradient id="g152" x1="0" y1="0" x2="0" y2="1"><stop offset="0" stop-color="#440154"/><stop offset=".067" stop-color="#450457"/><stop offset=".133" stop-color="#481668"/><stop offset=".2" stop-color="#46327e"/><stop offset=".267" stop-color="#375a8c"/><stop offset=".333" stop-color="#25838e"/><stop offset=".4" stop-color="#1fa088"/><stop offset=".467" stop-color="#1f998a"/><stop offset=".533" stop-color="#287d8e"/><stop offset=".6" stop-color="#34608d"/><stop offset=".667" stop-color="#3e4989"/><stop offset=".733" stop-color="#453882"/><stop offset=".8" stop-color="#482677"/><stop offset=".867" stop-color="#481467"/><stop offset=".933" stop-color="#450457"/><stop offset="1" stop-color="#440154"/></linearGradient>
<linearGradient id="g153" x1="0" y1="0" x2="0" y2="1"><stop offset="0" stop-color="#440154"/><stop offset=".077" stop-color="#440256"/><stop offset=".154" stop-color="#46075a"/><stop offset=".231" stop-color="#470e61"/><stop offset=".308" stop-color="#48186a"/><stop offset=".385" stop-color="#482173"/><stop offset=".462" stop-color="#482173"/><stop offset=".538" stop-color="#481d6f"/><stop offset=".615" stop-color="#48186a"/><stop offset=".692" stop-color="#471365"/><stop offset=".769" stop-color="#470d60"/><stop offset=".846" stop-color="#46085c"/><stop offset=".923" stop-color="#450457"/><stop offset="1" stop-color="#440154"/></linearGradient>
<linearGradient id="g154" x1="0" y1="0" x2="0" y2="1"><stop offset="0" stop-color="#440154"/><stop offset=".077" stop-color="#440256"/><stop offset=".154" stop-color="#450559"/><stop offset=".231" stop-color="#460a5d"/><stop offset=".308" stop-color="#471164"/><stop offset=".385" stop-color="#48186a"/><stop offset=".462" stop-color="#481c6e"/><stop offset=".538" stop-color="#481a6c"/><stop offset=".615" stop-color="#481668"/><stop offset=".692" stop-color="#471063"/><stop offset=".769" stop-color="#460a5d"/><stop offset=".846" stop-color="#450559"/><stop offset=".923" stop-color="#440256"/><stop offset="1" stop-color="#440154"/></linearGradient>
<linearGradient id="g155" x1="0" y1="0" x2="0" y2="1"><stop offset="0" stop-color="#440256"/><stop offset=".077" stop-color="#46075a"/><stop offset=".154" stop-color="#470e61"/><stop offset=".231" stop-color="#481668"/><stop offset=".308" stop-color="#481c6e"/><stop offset=".385" stop-color="#482374"/><stop offset=".462" stop-color="#482878"/><stop offset=".538" stop-color="#482677"/><stop offset=".615" stop-color="#482173"/><stop offset=".692" stop-color="#481c6e"/><stop offset=".769" stop-color="#481668"/><stop offset=".846" stop-color="#470e61"/><stop offset=".923" stop-color="#46085c"/><stop offset="1" stop-color="#440154"/></linearGradient>
<linearGradient id="g156" x1="0" y1="0" x2="0" y2="1"><stop offset="0" stop-color="#440256"/><stop offset=".067" stop-color="#46085c"/><stop offset=".133" stop-color="#482374"/><stop offset=".2" stop-color="#423f85"/><stop offset=".267" stop-color="#39558c"/><stop offset=".333" stop-color="#31678e"/><stop offset=".4" stop-color="#2b748e"/><stop offset=".467" stop-color="#2a768e"/><stop offset=".533" stop-color="#306a8e"/><stop offset=".6" stop-color="#375a8c"/><stop offset=".667" stop-color="#3e4a89"/><stop offset=".733" stop-color="#433d84"/><stop offset=".8" stop-color="#472c7a"/><stop offset=".867" stop-color="#48186a"/><stop offset=".933" stop-color="#46075a"/><stop offset="1" stop-color="#440154"/></linearGradient>
<linearGradient id="g157" x1="0" y1="0" x2="0" y2="1"><stop offset="0" stop-color="#440154"/><stop offset=".059" stop-color="#440256"/><stop offset=".118" stop-color="#460a5d"/><stop offset=".176" stop-color="#472d7b"/><stop offset=".235" stop-color="#375a8c"/><stop offset=".294" stop-color="#287d8e"/><stop offset=".353" stop-color="#21908d"/><stop offset=".412" stop-color="#20928c"/><stop offset=".471" stop-color="#26828e"/><stop offset=".529" stop-color="#30698e"/><stop offset=".588" stop-color="#3b518b"/><stop offset=".647" stop-color="#414287"/><stop offset=".706" stop-color="#443983"/><stop offset=".765" stop-color="#472f7d"/><stop offset=".824" stop-color="#481f70"/><stop offset=".882" stop-color="#460a5d"/><stop offset=".941" stop-color="#440256"/><stop offset="1" stop-color="#440154"/></linearGradient>
<linearGradient id="g158" x1="0" y1="0" x2="0" y2="1"><stop offset="0" stop-color="#440154"/><stop offset=".067" stop-color="#440256"/><stop offset=".133" stop-color="#481467"/><stop offset=".2" stop-color="#46307e"/><stop offset=".267" stop-color="#3e4989"/><stop offset=".333" stop-color="#3b528b"/><stop offset=".4" stop-color="#3d4e8a"/><stop offset=".467" stop-color="#424086"/><stop offset=".533" stop-color="#46337f"/><stop offset=".6" stop-color="#472a7a"/><stop offset=".667" stop-color="#482677"/><stop offset=".733" stop-color="#482475"/><stop offset=".8" stop-color="#481f70"/><stop offset=".867" stop-color="#471365"/><stop offset=".933" stop-color="#450457"/><stop offset="1" stop-color="#440154"/></linearGradient>
<linearGradient id="g159" x1="0" y1="0" x2="0" y2="1"><stop offset="0" stop-color="#440154"/><stop offset=".077" stop-color="#46075a"/><stop offset=".154" stop-color="#471365"/><stop offset=".231" stop-color="#481f70"/><stop offset=".308" stop-color="#482475"/><stop offset=".385" stop-color="#482475"/><stop offset=".462" stop-color="#482173"/><stop offset=".538" stop-color="#481d6f"/><stop offset=".615" stop-color="#48186a"/><stop offset=".692" stop-color="#481668"/><stop offset=".769" stop-color="#471164"/><stop offset=".846" stop-color="#470d60"/><stop offset=".923" stop-color="#450559"/><stop offset="1" stop-color="#440154"/></linearGradient>
<linearGradient id="g160" x1="0" y1="0" x2="0" y2="1"><stop offset="0" stop-color="#440154"/><stop offset=".067" stop-color="#450559"/><stop offset=".133" stop-color="#481b6d"/><stop offset=".2" stop-color="#46337f"/><stop offset=".267" stop-color="#414287"/><stop offset=".333" stop-color="#3e4a89"/><stop offset=".4" stop-color="#3b528b"/><stop offset=".467" stop-color="#355e8d"/><stop offset=".533" stop-color="#31678e"/><stop offset=".6" stop-color="#31678e"/><stop offset=".667" stop-color="#365d8d"/><stop offset=".733" stop-color="#3e4c8a"/><stop offset=".8" stop-color="#453781"/><stop offset=".867" stop-color="#481d6f"/><stop offset=".933" stop-color="#450559"/><stop offset="1" stop-color="#440154"/></linearGradient>
<linearGradient id="g161" x1="0" y1="0" x2="0" y2="1"><stop offset="0" stop-color="#440154"/><stop offset=".059" stop-color="#440256"/><stop offset=".118" stop-color="#460a5d"/><stop offset=".176" stop-color="#482878"/><stop offset=".235" stop-color="#404588"/><stop offset=".294" stop-color="#38598c"/><stop offset=".353" stop-color="#33638d"/><stop offset=".412" stop-color="#306a8e"/><stop offset=".471" stop-color="#2c728e"/><stop offset=".529" stop-color="#2a788e"/><stop offset=".588" stop-color="#2c738e"/><stop offset=".647" stop-color="#33638d"/><stop offset=".706" stop-color="#3c508b"/><stop offset=".765" stop-color="#423f85"/><stop offset=".824" stop-color="#482979"/><stop offset=".882" stop-color="#460b5e"/><stop offset=".941" stop-color="#440256"/><stop offset="1" stop-color="#440154"/></linearGradient>
<linearGradient id="g162" x1="0" y1="0" x2="0" y2="1"><stop offset="0" stop-color="#440154"/><stop offset=".062" stop-color="#450559"/><stop offset=".125" stop-color="#48186a"/><stop offset=".188" stop-color="#46337f"/><stop offset=".25" stop-color="#3c4f8a"/><stop offset=".312" stop-color="#33638d"/><stop offset=".375" stop-color="#31678e"/><stop offset=".438" stop-color="#365c8d"/><stop offset=".5" stop-color="#3e4a89"/><stop offset=".562" stop-color="#443a83"/><stop offset=".625" stop-color="#472e7c"/><stop offset=".688" stop-color="#482979"/><stop offset=".75" stop-color="#482878"/><stop offset=".812" stop-color="#482173"/><stop offset=".875" stop-color="#470e61"/><stop offset=".938" stop-color="#450457"/><stop offset="1" stop-color="#440154"/></linearGradient>
<linearGradient id="g163" x1="0" y1="0" x2="0" y2="1"><stop offset="0" stop-color="#440256"/><stop offset=".062" stop-color="#46085c"/><stop offset=".125" stop-color="#482677"/><stop offset=".188" stop-color="#3c4f8a"/><stop offset=".25" stop-color="#2a788e"/><stop offset=".312" stop-color="#1f968b"/><stop offset=".375" stop-color="#1e9d89"/><stop offset=".438" stop-color="#228b8d"/><stop offset=".5" stop-color="#2d708e"/><stop offset=".562" stop-color="#375a8c"/><stop offset=".625" stop-color="#3c4f8a"/><stop offset=".688" stop-color="#3d4d8a"/><stop offset=".75" stop-color="#3f4788"/><stop offset=".812" stop-color="#463480"/><stop offset=".875" stop-color="#471164"/><stop offset=".938" stop-color="#450457"/><stop offset="1" stop-color="#440154"/></linearGradient>
<linearGradient id="g164" x1="0" y1="0" x2="0" y2="1"><stop offset="0" stop-color="#440154"/><stop offset=".067" stop-color="#450457"/><stop offset=".133" stop-color="#482071"/><stop offset=".2" stop-color="#3d4d8a"/><stop offset=".267" stop-color="#2a788e"/><stop offset=".333" stop-color="#1fa188"/><stop offset=".4" stop-color="#40bd72"/><stop offset=".467" stop-color="#5ac864"/><stop offset=".533" stop-color="#4ec36b"/><stop offset=".6" stop-color="#37b878"/><stop offset=".667" stop-color="#29af7f"/><stop offset=".733" stop-color="#1fa188"/><stop offset=".8" stop-color="#277f8e"/><stop offset=".867" stop-color="#404688"/><stop offset=".933" stop-color="#460b5e"/><stop offset="1" stop-color="#440154"/></linearGradient>
<linearGradient id="g165" x1="0" y1="0" x2="0" y2="1"><stop offset="0" stop-color="#440154"/><stop offset=".067" stop-color="#440256"/><stop offset=".133" stop-color="#481d6f"/><stop offset=".2" stop-color="#3e4989"/><stop offset=".267" stop-color="#2a788e"/><stop offset=".333" stop-color="#24aa83"/><stop offset=".4" stop-color="#7ad151"/><stop offset=".467" stop-color="#a2da37"/><stop offset=".533" stop-color="#93d741"/><stop offset=".6" stop-color="#6ccd5a"/><stop offset=".667" stop-color="#44bf70"/><stop offset=".733" stop-color="#20a486"/><stop offset=".8" stop-color="#2b748e"/><stop offset=".867" stop-color="#453581"/><stop offset=".933" stop-color="#450559"/><stop offset="1" stop-color="#440154"/></linearGradient>
<linearGradient id="g166" x1="0" y1="0" x2="0" y2="1"><stop offset="0" stop-color="#440154"/><stop offset=".067" stop-color="#46075a"/><stop offset=".133" stop-color="#453581"/><stop offset=".2" stop-color="#2d718e"/><stop offset=".267" stop-color="#1fa088"/><stop offset=".333" stop-color="#54c568"/><stop offset=".4" stop-color="#9bd93c"/><stop offset=".467" stop-color="#a2da37"/><stop offset=".533" stop-color="#73d056"/><stop offset=".6" stop-color="#31b57b"/><stop offset=".667" stop-color="#1f998a"/><stop offset=".733" stop-color="#2a788e"/><stop offset=".8" stop-color="#3c4f8a"/><stop offset=".867" stop-color="#482173"/><stop offset=".933" stop-color="#450457"/><stop offset="1" stop-color="#440154"/></linearGradient>
<linearGradient id="g167" x1="0" y1="0" x2="0" y2="1"><stop offset="0" stop-color="#440154"/><stop offset=".059" stop-color="#46075a"/><stop offset=".118" stop-color="#48186a"/><stop offset=".176" stop-color="#3c508b"/><stop offset=".235" stop-color="#277e8e"/><stop offset=".294" stop-color="#1fa188"/><stop offset=".353" stop-color="#3dbc74"/><stop offset=".412" stop-color="#69cd5b"/><stop offset=".471" stop-color="#70cf57"/><stop offset=".529" stop-color="#44bf70"/><stop offset=".588" stop-color="#21a685"/><stop offset=".647" stop-color="#218e8d"/><stop offset=".706" stop-color="#2c738e"/><stop offset=".765" stop-color="#3a548c"/><stop offset=".824" stop-color="#46327e"/><stop offset=".882" stop-color="#471063"/><stop offset=".941" stop-color="#450559"/><stop offset="1" stop-color="#440154"/></linearGradient>
<linearGradient id="g168" x1="0" y1="0" x2="0" y2="1"><stop offset="0" stop-color="#440154"/><stop offset=".059" stop-color="#440256"/><stop offset=".118" stop-color="#460a5d"/><stop offset=".176" stop-color="#482173"/><stop offset=".235" stop-color="#453581"/><stop offset=".294" stop-color="#3f4788"/><stop offset=".353" stop-color="#365d8d"/><stop offset=".412" stop-color="#287c8e"/><stop offset=".471" stop-color="#1f9a8a"/><stop offset=".529" stop-color="#1fa187"/><stop offset=".588" stop-color="#228c8d"/><stop offset=".647" stop-color="#2e6e8e"/><stop offset=".706" stop-color="#39558c"/><stop offset=".765" stop-color="#424186"/><stop offset=".824" stop-color="#472d7b"/><stop offset=".882" stop-color="#470e61"/><stop offset=".941" stop-color="#450457"/><stop offset="1" stop-color="#440154"/></linearGradient>
<linearGradient id="g169" x1="0" y1="0" x2="0" y2="1"><stop offset="0" stop-color="#440256"/><stop offset=".062" stop-color="#46075a"/><stop offset=".125" stop-color="#48186a"/><stop offset=".188" stop-color="#482475"/><stop offset=".25" stop-color="#472f7d"/><stop offset=".312" stop-color="#414487"/><stop offset=".375" stop-color="#33638d"/><stop offset=".438" stop-color="#287c8e"/><stop offset=".5" stop-color="#287c8e"/><stop offset=".562" stop-color="#32648e"/><stop offset=".625" stop-color="#3e4c8a"/><stop offset=".688" stop-color="#433e85"/><stop offset=".75" stop-color="#453781"/><stop offset=".812" stop-color="#472a7a"/><stop offset=".875" stop-color="#470e61"/><stop offset=".938" stop-color="#450457"/><stop offset="1" stop-color="#440154"/></linearGradient>
<linearGradient id="g170" x1="0" y1="0" x2="0" y2="1"><stop offset="0" stop-color="#440154"/><stop offset=".059" stop-color="#450457"/><stop offset=".118" stop-color="#470d60"/><stop offset=".176" stop-color="#482878"/><stop offset=".235" stop-color="#424086"/><stop offset=".294" stop-color="#39558c"/><stop offset=".353" stop-color="#2d708e"/><stop offset=".412" stop-color="#228c8d"/><stop offset=".471" stop-color="#1f978b"/><stop offset=".529" stop-color="#25838e"/><stop offset=".588" stop-color="#31688e"/><stop offset=".647" stop-color="#375b8d"/><stop offset=".706" stop-color="#355f8d"/><stop offset=".765" stop-color="#31678e"/><stop offset=".824" stop-color="#375b8d"/><stop offset=".882" stop-color="#482576"/><stop offset=".941" stop-color="#470d60"/><stop offset="1" stop-color="#440154"/></linearGradient>
<linearGradient id="g171" x1="0" y1="0" x2="0" y2="1"><stop offset="0" stop-color="#440154"/><stop offset=".062" stop-color="#450559"/><stop offset=".125" stop-color="#481b6d"/><stop offset=".188" stop-color="#463480"/><stop offset=".25" stop-color="#3e4a89"/><stop offset=".312" stop-color="#365c8d"/><stop offset=".375" stop-color="#33638d"/><stop offset=".438" stop-color="#375a8c"/><stop offset=".5" stop-color="#404588"/><stop offset=".562" stop-color="#463480"/><stop offset=".625" stop-color="#46327e"/><stop offset=".688" stop-color="#453781"/><stop offset=".75" stop-color="#443983"/><stop offset=".812" stop-color="#472c7a"/><stop offset=".875" stop-color="#460b5e"/><stop offset=".938" stop-color="#440256"/><stop offset="1" stop-color="#440154"/></linearGradient>
<linearGradient id="g172" x1="0" y1="0" x2="0" y2="1"><stop offset="0" stop-color="#440154"/><stop offset=".067" stop-color="#450559"/><stop offset=".133" stop-color="#482576"/><stop offset=".2" stop-color="#3e4c8a"/><stop offset=".267" stop-color="#2e6d8e"/><stop offset=".333" stop-color="#238a8d"/><stop offset=".4" stop-color="#1f9e89"/><stop offset=".467" stop-color="#1f958b"/><stop offset=".533" stop-color="#2a788e"/><stop offset=".6" stop-color="#365c8d"/><stop offset=".667" stop-color="#3e4989"/><stop offset=".733" stop-color="#443b84"/><stop offset=".8" stop-color="#472d7b"/><stop offset=".867" stop-color="#48186a"/><stop offset=".933" stop-color="#450457"/><stop offset="1" stop-color="#440154"/></linearGradient>
<linearGradient id="g173" x1="0" y1="0" x2="0" y2="1"><stop offset="0" stop-color="#440154"/><stop offset=".067" stop-color="#440256"/><stop offset=".133" stop-color="#481769"/><stop offset=".2" stop-color="#463480"/><stop offset=".267" stop-color="#3c4f8a"/><stop offset=".333" stop-color="#30698e"/><stop offset=".4" stop-color="#26818e"/><stop offset=".467" stop-color="#21918c"/><stop offset=".533" stop-color="#228d8d"/><stop offset=".6" stop-color="#2a778e"/><stop offset=".667" stop-color="#375b8d"/><stop offset=".733" stop-color="#423f85"/><stop offset=".8" stop-color="#482979"/><stop offset=".867" stop-color="#481467"/><stop offset=".933" stop-color="#440256"/><stop offset="1" stop-color="#440154"/></linearGradient>
<linearGradient id="g174" x1="0" y1="0" x2="0" y2="1"><stop offset="0" stop-color="#440256"/><stop offset=".071" stop-color="#471164"/><stop offset=".143" stop-color="#472c7a"/><stop offset=".214" stop-color="#3d4d8a"/><stop offset=".286" stop-color="#2e6d8e"/><stop offset=".357" stop-color="#228c8d"/><stop offset=".429" stop-color="#27ad81"/><stop offset=".5" stop-color="#54c568"/><stop offset=".571" stop-color="#4ec36b"/><stop offset=".643" stop-color="#1fa088"/><stop offset=".714" stop-color="#2d718e"/><stop offset=".786" stop-color="#404688"/><stop offset=".857" stop-color="#482173"/><stop offset=".929" stop-color="#450559"/><stop offset="1" stop-color="#440154"/></linearGradient>
<linearGradient id="g175" x1="0" y1="0" x2="0" y2="1"><stop offset="0" stop-color="#440154"/><stop offset=".067" stop-color="#440256"/><stop offset=".133" stop-color="#481467"/><stop offset=".2" stop-color="#46327e"/><stop offset=".267" stop-color="#365c8d"/><stop offset=".333" stop-color="#24878e"/><stop offset=".4" stop-color="#29af7f"/><stop offset=".467" stop-color="#60ca60"/><stop offset=".533" stop-color="#7cd250"/><stop offset=".6" stop-color="#5cc863"/><stop offset=".667" stop-color="#22a785"/><stop offset=".733" stop-color="#2a788e"/><stop offset=".8" stop-color="#3e4a89"/><stop offset=".867" stop-color="#482173"/><stop offset=".933" stop-color="#450559"/><stop offset="1" stop-color="#440154"/></linearGradient>
<linearGradient id="g176" x1="0" y1="0" x2="0" y2="1"><stop offset="0" stop-color="#440154"/><stop offset=".071" stop-color="#460b5e"/><stop offset=".143" stop-color="#481d6f"/><stop offset=".214" stop-color="#443983"/><stop offset=".286" stop-color="#3b528b"/><stop offset=".357" stop-color="#33628d"/><stop offset=".429" stop-color="#31688e"/><stop offset=".5" stop-color="#31678e"/><stop offset=".571" stop-color="#34608d"/><stop offset=".643" stop-color="#3c508b"/><stop offset=".714" stop-color="#443983"/><stop offset=".786" stop-color="#482173"/><stop offset=".857" stop-color="#470e61"/><stop offset=".929" stop-color="#440256"/><stop offset="1" stop-color="#440154"/></linearGradient>
<linearGradient id="g177" x1="0" y1="0" x2="0" y2="1"><stop offset="0" stop-color="#440154"/><stop offset=".077" stop-color="#450457"/><stop offset=".154" stop-color="#460b5e"/><stop offset=".231" stop-color="#481467"/><stop offset=".308" stop-color="#481d6f"/><stop offset=".385" stop-color="#482374"/><stop offset=".462" stop-color="#482576"/><stop offset=".538" stop-color="#482374"/><stop offset=".615" stop-color="#481c6e"/><stop offset=".692" stop-color="#481467"/><stop offset=".769" stop-color="#470d60"/><stop offset=".846" stop-color="#46075a"/><stop offset=".923" stop-color="#440256"/><stop offset="1" stop-color="#440154"/></linearGradient>
<linearGradient id="g178" x1="0" y1="0" x2="0" y2="1"><stop offset="0" stop-color="#440154"/><stop offset=".071" stop-color="#440256"/><stop offset=".143" stop-color="#470e61"/><stop offset=".214" stop-color="#481c6e"/><stop offset=".286" stop-color="#482979"/><stop offset=".357" stop-color="#46327e"/><stop offset=".429" stop-color="#453581"/><stop offset=".5" stop-color="#46337f"/><stop offset=".571" stop-color="#472a7a"/><stop offset=".643" stop-color="#482173"/><stop offset=".714" stop-color="#48186a"/><stop offset=".786" stop-color="#471164"/><stop offset=".857" stop-color="#460b5e"/><stop offset=".929" stop-color="#46075a"/><stop offset="1" stop-color="#440256"/></linearGradient>
<linearGradient id="g179" x1="0" y1="0" x2="0" y2="1"><stop offset="0" stop-color="#440154"/><stop offset=".059" stop-color="#450559"/><stop offset=".118" stop-color="#471365"/><stop offset=".176" stop-color="#443b84"/><stop offset=".235" stop-color="#31668e"/><stop offset=".294" stop-color="#228b8d"/><stop offset=".353" stop-color="#1fa188"/><stop offset=".412" stop-color="#1fa088"/><stop offset=".471" stop-color="#23898e"/><stop offset=".529" stop-color="#2d708e"/><stop offset=".588" stop-color="#365d8d"/><stop offset=".647" stop-color="#3b528b"/><stop offset=".706" stop-color="#3c4f8a"/><stop offset=".765" stop-color="#3f4788"/><stop offset=".824" stop-color="#46327e"/><stop offset=".882" stop-color="#471063"/><stop offset=".941" stop-color="#450457"/><stop offset="1" stop-color="#440154"/></linearGradient>
<linearGradient id="g180" x1="0" y1="0" x2="0" y2="1"><stop offset="0" stop-color="#440154"/><stop offset=".059" stop-color="#46085c"/><stop offset=".118" stop-color="#481a6c"/><stop offset=".176" stop-color="#3e4a89"/><stop offset=".235" stop-color="#287d8e"/><stop offset=".294" stop-color="#2ab07f"/><stop offset=".353" stop-color="#58c765"/><stop offset=".412" stop-color="#35b779"/><stop offset=".471" stop-color="#20928c"/><stop offset=".529" stop-color="#2c728e"/><stop offset=".588" stop-color="#33628d"/><stop offset=".647" stop-color="#365d8d"/><stop offset=".706" stop-color="#375a8c"/><stop offset=".765" stop-color="#3c4f8a"/><stop offset=".824" stop-color="#463480"/><stop offset=".882" stop-color="#471063"/><stop offset=".941" stop-color="#450457"/><stop offset="1" stop-color="#440154"/></linearGradient>
<linearGradient id="g181" x1="0" y1="0" x2="0" y2="1"><stop offset="0" stop-color="#440154"/><stop offset=".059" stop-color="#46085c"/><stop offset=".118" stop-color="#481c6e"/><stop offset=".176" stop-color="#39568c"/><stop offset=".235" stop-color="#21918c"/><stop offset=".294" stop-color="#4ac16d"/><stop offset=".353" stop-color="#70cf57"/><stop offset=".412" stop-color="#3fbc73"/><stop offset=".471" stop-color="#1f9a8a"/><stop offset=".529" stop-color="#277e8e"/><stop offset=".588" stop-color="#2e6f8e"/><stop offset=".647" stop-color="#32648e"/><stop offset=".706" stop-color="#39558c"/><stop offset=".765" stop-color="#433e85"/><stop offset=".824" stop-color="#482374"/><stop offset=".882" stop-color="#460a5d"/><stop offset=".941" stop-color="#440256"/><stop offset="1" stop-color="#440154"/></linearGradient>
<linearGradient id="g182" x1="0" y1="0" x2="0" y2="1"><stop offset="0" stop-color="#440154"/><stop offset=".059" stop-color="#46075a"/><stop offset=".118" stop-color="#481769"/><stop offset=".176" stop-color="#404588"/><stop offset=".235" stop-color="#2b748e"/><stop offset=".294" stop-color="#1f988b"/><stop offset=".353" stop-color="#21a585"/><stop offset=".412" stop-color="#1e9d89"/><stop offset=".471" stop-color="#20928c"/><stop offset=".529" stop-color="#218f8d"/><stop offset=".588" stop-color="#20928c"/><stop offset=".647" stop-color="#20938c"/><stop offset=".706" stop-color="#24868e"/><stop offset=".765" stop-color="#32658e"/><stop offset=".824" stop-color="#453781"/><stop offset=".882" stop-color="#470e61"/><stop offset=".941" stop-color="#450457"/><stop offset="1" stop-color="#440154"/></linearGradient>
<linearGradient id="g183" x1="0" y1="0" x2="0" y2="1"><stop offset="0" stop-color="#440256"/><stop offset=".067" stop-color="#46075a"/><stop offset=".133" stop-color="#481a6c"/><stop offset=".2" stop-color="#482979"/><stop offset=".267" stop-color="#46337f"/><stop offset=".333" stop-color="#443983"/><stop offset=".4" stop-color="#433d84"/><stop offset=".467" stop-color="#404588"/><stop offset=".533" stop-color="#3a548c"/><stop offset=".6" stop-color="#32658e"/><stop offset=".667" stop-color="#2f6c8e"/><stop offset=".733" stop-color="#32648e"/><stop offset=".8" stop-color="#3e4989"/><stop offset=".867" stop-color="#482475"/><stop offset=".933" stop-color="#46075a"/><stop offset="1" stop-color="#440154"/></linearGradient>
<linearGradient id="g184" x1="0" y1="0" x2="0" y2="1"><stop offset="0" stop-color="#440154"/><stop offset=".077" stop-color="#450559"/><stop offset=".154" stop-color="#46075a"/><stop offset=".231" stop-color="#460a5d"/><stop offset=".308" stop-color="#460b5e"/><stop offset=".385" stop-color="#471063"/><stop offset=".462" stop-color="#481467"/><stop offset=".538" stop-color="#481b6d"/><stop offset=".615" stop-color="#482071"/><stop offset=".692" stop-color="#482173"/><stop offset=".769" stop-color="#481b6d"/><stop offset=".846" stop-color="#471164"/><stop offset=".923" stop-color="#46075a"/><stop offset="1" stop-color="#440154"/></linearGradient>
<linearGradient id="g185" x1="0" y1="0" x2="0" y2="1"><stop offset="0" stop-color="#440154"/><stop offset=".067" stop-color="#450457"/><stop offset=".133" stop-color="#46085c"/><stop offset=".2" stop-color="#460b5e"/><stop offset=".267" stop-color="#470e61"/><stop offset=".333" stop-color="#481467"/><stop offset=".4" stop-color="#481a6c"/><stop offset=".467" stop-color="#482374"/><stop offset=".533" stop-color="#472a7a"/><stop offset=".6" stop-color="#472e7c"/><stop offset=".667" stop-color="#472a7a"/><stop offset=".733" stop-color="#482071"/><stop offset=".8" stop-color="#471365"/><stop offset=".867" stop-color="#46085c"/><stop offset=".933" stop-color="#440256"/><stop offset="1" stop-color="#440154"/></linearGradient>
<linearGradient id="g186" x1="0" y1="0" x2="0" y2="1"><stop offset="0" stop-color="#440256"/><stop offset=".067" stop-color="#46075a"/><stop offset=".133" stop-color="#481a6c"/><stop offset=".2" stop-color="#472d7b"/><stop offset=".267" stop-color="#424086"/><stop offset=".333" stop-color="#39558c"/><stop offset=".4" stop-color="#2e6d8e"/><stop offset=".467" stop-color="#27808e"/><stop offset=".533" stop-color="#23898e"/><stop offset=".6" stop-color="#25848e"/><stop offset=".667" stop-color="#2c728e"/><stop offset=".733" stop-color="#38588c"/><stop offset=".8" stop-color="#453882"/><stop offset=".867" stop-color="#481a6c"/><stop offset=".933" stop-color="#450559"/><stop offset="1" stop-color="#440154"/></linearGradient>
<linearGradient id="g187" x1="0" y1="0" x2="0" y2="1"><stop offset="0" stop-color="#440154"/><stop offset=".077" stop-color="#460b5e"/><stop offset=".154" stop-color="#482071"/><stop offset=".231" stop-color="#443b84"/><stop offset=".308" stop-color="#34608d"/><stop offset=".385" stop-color="#25838e"/><stop offset=".462" stop-color="#1e9d89"/><stop offset=".538" stop-color="#1f9e89"/><stop offset=".615" stop-color="#25858e"/><stop offset=".692" stop-color="#33638d"/><stop offset=".769" stop-color="#414287"/><stop offset=".846" stop-color="#482576"/><stop offset=".923" stop-color="#470d60"/><stop offset="1" stop-color="#440154"/></linearGradient>
<linearGradient id="g188" x1="0" y1="0" x2="0" y2="1"><stop offset="0" stop-color="#440154"/><stop offset=".077" stop-color="#46075a"/><stop offset=".154" stop-color="#471063"/><stop offset=".231" stop-color="#481c6e"/><stop offset=".308" stop-color="#472d7b"/><stop offset=".385" stop-color="#404688"/><stop offset=".462" stop-color="#34608d"/><stop offset=".538" stop-color="#306a8e"/><stop offset=".615" stop-color="#365c8d"/><stop offset=".692" stop-color="#414287"/><stop offset=".769" stop-color="#472d7b"/><stop offset=".846" stop-color="#481a6c"/><stop offset=".923" stop-color="#460a5d"/><stop offset="1" stop-color="#440154"/></linearGradient>
<linearGradient id="g189" x1="0" y1="0" x2="0" y2="1"><stop offset="0" stop-color="#440154"/><stop offset=".067" stop-color="#450559"/><stop offset=".133" stop-color="#481769"/><stop offset=".2" stop-color="#482677"/><stop offset=".267" stop-color="#453781"/><stop offset=".333" stop-color="#3c4f8a"/><stop offset=".4" stop-color="#2e6f8e"/><stop offset=".467" stop-color="#228c8d"/><stop offset=".533" stop-color="#20928c"/><stop offset=".6" stop-color="#287d8e"/><stop offset=".667" stop-color="#355f8d"/><stop offset=".733" stop-color="#414487"/><stop offset=".8" stop-color="#472c7a"/><stop offset=".867" stop-color="#481769"/><stop offset=".933" stop-color="#450457"/><stop offset="1" stop-color="#440154"/></linearGradient>
<linearGradient id="g190" x1="0" y1="0" x2="0" y2="1"><stop offset="0" stop-color="#440256"/><stop offset=".077" stop-color="#460b5e"/><stop offset=".154" stop-color="#48186a"/><stop offset=".231" stop-color="#472d7b"/><stop offset=".308" stop-color="#3f4788"/><stop offset=".385" stop-color="#34608d"/><stop offset=".462" stop-color="#30698e"/><stop offset=".538" stop-color="#34608d"/><stop offset=".615" stop-color="#3e4c8a"/><stop offset=".692" stop-color="#463480"/><stop offset=".769" stop-color="#482071"/><stop offset=".846" stop-color="#471365"/><stop offset=".923" stop-color="#46085c"/><stop offset="1" stop-color="#440154"/></linearGradient>
<linearGradient id="g191" x1="0" y1="0" x2="0" y2="1"><stop offset="0" stop-color="#440154"/><stop offset=".067" stop-color="#440256"/><stop offset=".133" stop-color="#471164"/><stop offset=".2" stop-color="#482878"/><stop offset=".267" stop-color="#3f4889"/><stop offset=".333" stop-color="#2c728e"/><stop offset=".4" stop-color="#1f9a8a"/><stop offset=".467" stop-color="#2eb37c"/><stop offset=".533" stop-color="#38b977"/><stop offset=".6" stop-color="#26ad81"/><stop offset=".667" stop-color="#218f8d"/><stop offset=".733" stop-color="#31688e"/><stop offset=".8" stop-color="#433e85"/><stop offset=".867" stop-color="#48186a"/><stop offset=".933" stop-color="#440256"/><stop offset="1" stop-color="#440154"/></linearGradient>
<linearGradient id="g192" x1="0" y1="0" x2="0" y2="1"><stop offset="0" stop-color="#440154"/><stop offset=".067" stop-color="#440256"/><stop offset=".133" stop-color="#48186a"/><stop offset=".2" stop-color="#46337f"/><stop offset=".267" stop-color="#3c4f8a"/><stop offset=".333" stop-color="#2f6c8e"/><stop offset=".4" stop-color="#23898e"/><stop offset=".467" stop-color="#22a785"/><stop offset=".533" stop-color="#4ec36b"/><stop offset=".6" stop-color="#75d054"/><stop offset=".667" stop-color="#56c667"/><stop offset=".733" stop-color="#1f998a"/><stop offset=".8" stop-color="#365d8d"/><stop offset=".867" stop-color="#482374"/><stop offset=".933" stop-color="#440256"/><stop offset="1" stop-color="#440154"/></linearGradient>
<linearGradient id="g193" x1="0" y1="0" x2="0" y2="1"><stop offset="0" stop-color="#440154"/><stop offset=".059" stop-color="#450457"/><stop offset=".118" stop-color="#481467"/><stop offset=".176" stop-color="#414287"/><stop offset=".235" stop-color="#365c8d"/><stop offset=".294" stop-color="#31678e"/><stop offset=".353" stop-color="#2e6f8e"/><stop offset=".412" stop-color="#2a788e"/><stop offset=".471" stop-color="#25838e"/><stop offset=".529" stop-color="#1f958b"/><stop offset=".588" stop-color="#24aa83"/><stop offset=".647" stop-color="#26ad81"/><stop offset=".706" stop-color="#218f8d"/><stop offset=".765" stop-color="#33628d"/><stop offset=".824" stop-color="#46337f"/><stop offset=".882" stop-color="#460b5e"/><stop offset=".941" stop-color="#440256"/><stop offset="1" stop-color="#440154"/></linearGradient>
<linearGradient id="g194" x1="0" y1="0" x2="0" y2="1"><stop offset="0" stop-color="#440256"/><stop offset=".067" stop-color="#470d60"/><stop offset=".133" stop-color="#46307e"/><stop offset=".2" stop-color="#3f4788"/><stop offset=".267" stop-color="#3b518b"/><stop offset=".333" stop-color="#39558c"/><stop offset=".4" stop-color="#38588c"/><stop offset=".467" stop-color="#375b8d"/><stop offset=".533" stop-color="#34608d"/><stop offset=".6" stop-color="#32658e"/><stop offset=".667" stop-color="#33638d"/><stop offset=".733" stop-color="#3b528b"/><stop offset=".8" stop-color="#453781"/><stop offset=".867" stop-color="#481b6d"/><stop offset=".933" stop-color="#450559"/><stop offset="1" stop-color="#440154"/></linearGradient>
<linearGradient id="g195" x1="0" y1="0" x2="0" y2="1"><stop offset="0" stop-color="#440154"/><stop offset=".067" stop-color="#46075a"/><stop offset=".133" stop-color="#481f70"/><stop offset=".2" stop-color="#46307e"/><stop offset=".267" stop-color="#443b84"/><stop offset=".333" stop-color="#404588"/><stop offset=".4" stop-color="#3e4c8a"/><stop offset=".467" stop-color="#3c508b"/><stop offset=".533" stop-color="#3b518b"/><stop offset=".6" stop-color="#3c4f8a"/><stop offset=".667" stop-color="#3f4788"/><stop offset=".733" stop-color="#453781"/><stop offset=".8" stop-color="#482374"/><stop offset=".867" stop-color="#470e61"/><stop offset=".933" stop-color="#440256"/><stop offset="1" stop-color="#440154"/></linearGradient>
<linearGradient id="g196" x1="0" y1="0" x2="0" y2="1"><stop offset="0" stop-color="#440154"/><stop offset=".059" stop-color="#450559"/><stop offset=".118" stop-color="#471164"/><stop offset=".176" stop-color="#46327e"/><stop offset=".235" stop-color="#3e4a89"/><stop offset=".294" stop-color="#365c8d"/><stop offset=".353" stop-color="#2f6b8e"/><stop offset=".412" stop-color="#297b8e"/><stop offset=".471" stop-color="#228c8d"/><stop offset=".529" stop-color="#1f998a"/><stop offset=".588" stop-color="#1e9b8a"/><stop offset=".647" stop-color="#20938c"/><stop offset=".706" stop-color="#27808e"/><stop offset=".765" stop-color="#355f8d"/><stop offset=".824" stop-color="#46337f"/><stop offset=".882" stop-color="#460b5e"/><stop offset=".941" stop-color="#440256"/><stop offset="1" stop-color="#440154"/></linearGradient>
<linearGradient id="g197" x1="0" y1="0" x2="0" y2="1"><stop offset="0" stop-color="#440154"/><stop offset=".059" stop-color="#440256"/><stop offset=".118" stop-color="#460a5d"/><stop offset=".176" stop-color="#482677"/><stop offset=".235" stop-color="#414487"/><stop offset=".294" stop-color="#34618d"/><stop offset=".353" stop-color="#277e8e"/><stop offset=".412" stop-color="#1fa088"/><stop offset=".471" stop-color="#42be71"/><stop offset=".529" stop-color="#67cc5c"/><stop offset=".588" stop-color="#65cb5e"/><stop offset=".647" stop-color="#50c46a"/><stop offset=".706" stop-color="#29af7f"/><stop offset=".765" stop-color="#25838e"/><stop offset=".824" stop-color="#3f4788"/><stop offset=".882" stop-color="#470e61"/><stop offset=".941" stop-color="#440256"/><stop offset="1" stop-color="#440154"/></linearGradient>
<linearGradient id="g198" x1="0" y1="0" x2="0" y2="1"><stop offset="0" stop-color="#440256"/><stop offset=".071" stop-color="#470e61"/><stop offset=".143" stop-color="#482173"/><stop offset=".214" stop-color="#453882"/><stop offset=".286" stop-color="#3b528b"/><stop offset=".357" stop-color="#2d708e"/><stop offset=".429" stop-color="#228d8d"/><stop offset=".5" stop-color="#1e9d89"/><stop offset=".571" stop-color="#1f988b"/><stop offset=".643" stop-color="#24868e"/><stop offset=".714" stop-color="#2e6d8e"/><stop offset=".786" stop-color="#3e4989"/><stop offset=".857" stop-color="#482071"/><stop offset=".929" stop-color="#450457"/><stop offset="1" stop-color="#440154"/></linearGradient>
<linearGradient id="g199" x1="0" y1="0" x2="0" y2="1"><stop offset="0" stop-color="#440154"/><stop offset=".067" stop-color="#46075a"/><stop offset=".133" stop-color="#482475"/><stop offset=".2" stop-color="#424186"/><stop offset=".267" stop-color="#39558c"/><stop offset=".333" stop-color="#32658e"/><stop offset=".4" stop-color="#2c738e"/><stop offset=".467" stop-color="#26828e"/><stop offset=".533" stop-color="#228d8d"/><stop offset=".6" stop-color="#20928c"/><stop offset=".667" stop-color="#218e8d"/><stop offset=".733" stop-color="#297b8e"/><stop offset=".8" stop-color="#355e8d"/><stop offset=".867" stop-color="#453581"/><stop offset=".933" stop-color="#460b5e"/><stop offset="1" stop-color="#440256"/></linearGradient>
<linearGradient id="g200" x1="0" y1="0" x2="0" y2="1"><stop offset="0" stop-color="#440154"/><stop offset=".059" stop-color="#440256"/><stop offset=".118" stop-color="#470e61"/><stop offset=".176" stop-color="#453581"/><stop offset=".235" stop-color="#39568c"/><stop offset=".294" stop-color="#30698e"/><stop offset=".353" stop-color="#2c728e"/><stop offset=".412" stop-color="#29798e"/><stop offset=".471" stop-color="#26818e"/><stop offset=".529" stop-color="#24878e"/><stop offset=".588" stop-color="#23888e"/><stop offset=".647" stop-color="#277f8e"/><stop offset=".706" stop-color="#2e6d8e"/><stop offset=".765" stop-color="#38588c"/><stop offset=".824" stop-color="#443983"/><stop offset=".882" stop-color="#471164"/><stop offset=".941" stop-color="#450457"/><stop offset="1" stop-color="#440154"/></linearGradient>
<linearGradient id="g201" x1="0" y1="0" x2="0" y2="1"><stop offset="0" stop-color="#440154"/><stop offset=".067" stop-color="#46075a"/><stop offset=".133" stop-color="#481668"/><stop offset=".2" stop-color="#482173"/><stop offset=".267" stop-color="#482878"/><stop offset=".333" stop-color="#472c7a"/><stop offset=".4" stop-color="#472f7d"/><stop offset=".467" stop-color="#46337f"/><stop offset=".533" stop-color="#46337f"/><stop offset=".6" stop-color="#472e7c"/><stop offset=".667" stop-color="#482576"/><stop offset=".733" stop-color="#481d6f"/><stop offset=".8" stop-color="#481769"/><stop offset=".867" stop-color="#470e61"/><stop offset=".933" stop-color="#450457"/><stop offset="1" stop-color="#440154"/></linearGradient>
<linearGradient id="g202" x1="0" y1="0" x2="0" y2="1"><stop offset="0" stop-color="#440154"/><stop offset=".059" stop-color="#450559"/><stop offset=".118" stop-color="#481668"/><stop offset=".176" stop-color="#453781"/><stop offset=".235" stop-color="#3e4c8a"/><stop offset=".294" stop-color="#375b8d"/><stop offset=".353" stop-color="#306a8e"/><stop offset=".412" stop-color="#287c8e"/><stop offset=".471" stop-color="#23898e"/><stop offset=".529" stop-color="#23888e"/><stop offset=".588" stop-color="#2b748e"/><stop offset=".647" stop-color="#365d8d"/><stop offset=".706" stop-color="#3f4889"/><stop offset=".765" stop-color="#453882"/><stop offset=".824" stop-color="#482576"/><stop offset=".882" stop-color="#460b5e"/><stop offset=".941" stop-color="#440256"/><stop offset="1" stop-color="#440154"/></linearGradient>
<linearGradient id="g203" x1="0" y1="0" x2="0" y2="1"><stop offset="0" stop-color="#440154"/><stop offset=".059" stop-color="#46075a"/><stop offset=".118" stop-color="#481b6d"/><stop offset=".176" stop-color="#424086"/><stop offset=".235" stop-color="#3a538b"/><stop offset=".294" stop-color="#32658e"/><stop offset=".353" stop-color="#29798e"/><stop offset=".412" stop-color="#20928c"/><stop offset=".471" stop-color="#27ad81"/><stop offset=".529" stop-color="#56c667"/><stop offset=".588" stop-color="#84d44b"/><stop offset=".647" stop-color="#8bd646"/><stop offset=".706" stop-color="#63cb5f"/><stop offset=".765" stop-color="#23a983"/><stop offset=".824" stop-color="#2d708e"/><stop offset=".882" stop-color="#482173"/><stop offset=".941" stop-color="#46075a"/><stop offset="1" stop-color="#440154"/></linearGradient>
<linearGradient id="g204" x1="0" y1="0" x2="0" y2="1"><stop offset="0" stop-color="#440154"/><stop offset=".067" stop-color="#450457"/><stop offset=".133" stop-color="#482071"/><stop offset=".2" stop-color="#414487"/><stop offset=".267" stop-color="#34618d"/><stop offset=".333" stop-color="#2c728e"/><stop offset=".4" stop-color="#287d8e"/><stop offset=".467" stop-color="#23888e"/><stop offset=".533" stop-color="#1e9b8a"/><stop offset=".6" stop-color="#2cb17e"/><stop offset=".667" stop-color="#38b977"/><stop offset=".733" stop-color="#1f9e89"/><stop offset=".8" stop-color="#32658e"/><stop offset=".867" stop-color="#482475"/><stop offset=".933" stop-color="#440256"/><stop offset="1" stop-color="#440154"/></linearGradient>
<linearGradient id="g205" x1="0" y1="0" x2="0" y2="1"><stop offset="0" stop-color="#440154"/><stop offset=".071" stop-color="#450559"/><stop offset=".143" stop-color="#472f7d"/><stop offset=".214" stop-color="#2f6c8e"/><stop offset=".286" stop-color="#1f948c"/><stop offset=".357" stop-color="#1fa088"/><stop offset=".429" stop-color="#1e9b8a"/><stop offset=".5" stop-color="#1f978b"/><stop offset=".571" stop-color="#1f9a8a"/><stop offset=".643" stop-color="#1fa187"/><stop offset=".714" stop-color="#20a386"/><stop offset=".786" stop-color="#238a8d"/><stop offset=".857" stop-color="#3b528b"/><stop offset=".929" stop-color="#48186a"/><stop offset="1" stop-color="#440154"/></linearGradient>
<linearGradient id="g206" x1="0" y1="0" x2="0" y2="1"><stop offset="0" stop-color="#440154"/><stop offset=".071" stop-color="#440256"/><stop offset=".143" stop-color="#48186a"/><stop offset=".214" stop-color="#433e85"/><stop offset=".286" stop-color="#355f8d"/><stop offset=".357" stop-color="#2b758e"/><stop offset=".429" stop-color="#25838e"/><stop offset=".5" stop-color="#228d8d"/><stop offset=".571" stop-color="#1f948c"/><stop offset=".643" stop-color="#1f9a8a"/><stop offset=".714" stop-color="#20928c"/><stop offset=".786" stop-color="#2c728e"/><stop offset=".857" stop-color="#433e85"/><stop offset=".929" stop-color="#471164"/><stop offset="1" stop-color="#440154"/></linearGradient>
<linearGradient id="g207" x1="0" y1="0" x2="0" y2="1"><stop offset="0" stop-color="#440256"/><stop offset=".077" stop-color="#471164"/><stop offset=".154" stop-color="#482979"/><stop offset=".231" stop-color="#3f4788"/><stop offset=".308" stop-color="#306a8e"/><stop offset=".385" stop-color="#21908d"/><stop offset=".462" stop-color="#2eb37c"/><stop offset=".538" stop-color="#60ca60"/><stop offset=".615" stop-color="#69cd5b"/><stop offset=".692" stop-color="#2fb47c"/><stop offset=".769" stop-color="#277e8e"/><stop offset=".846" stop-color="#424086"/><stop offset=".923" stop-color="#471164"/><stop offset="1" stop-color="#440154"/></linearGradient>
<linearGradient id="g208" x1="0" y1="0" x2="0" y2="1"><stop offset="0" stop-color="#440154"/><stop offset=".077" stop-color="#460a5d"/><stop offset=".154" stop-color="#481769"/><stop offset=".231" stop-color="#482979"/><stop offset=".308" stop-color="#414487"/><stop offset=".385" stop-color="#306a8e"/><stop offset=".462" stop-color="#1e9b8a"/><stop offset=".538" stop-color="#4ac16d"/><stop offset=".615" stop-color="#46c06f"/><stop offset=".692" stop-color="#1f978b"/><stop offset=".769" stop-color="#33628d"/><stop offset=".846" stop-color="#472f7d"/><stop offset=".923" stop-color="#470d60"/><stop offset="1" stop-color="#440154"/></linearGradient>
<linearGradient id="g209" x1="0" y1="0" x2="0" y2="1"><stop offset="0" stop-color="#440154"/><stop offset=".077" stop-color="#450457"/><stop offset=".154" stop-color="#460a5d"/><stop offset=".231" stop-color="#471063"/><stop offset=".308" stop-color="#481769"/><stop offset=".385" stop-color="#482071"/><stop offset=".462" stop-color="#472c7a"/><stop offset=".538" stop-color="#463480"/><stop offset=".615" stop-color="#453781"/><stop offset=".692" stop-color="#472e7c"/><stop offset=".769" stop-color="#482071"/><stop offset=".846" stop-color="#471164"/><stop offset=".923" stop-color="#450559"/><stop offset="1" stop-color="#440154"/></linearGradient>
<linearGradient id="g210" x1="0" y1="0" x2="0" y2="1"><stop offset="0" stop-color="#440154"/><stop offset=".077" stop-color="#450457"/><stop offset=".154" stop-color="#46085c"/><stop offset=".231" stop-color="#470d60"/><stop offset=".308" stop-color="#471063"/><stop offset=".385" stop-color="#481467"/><stop offset=".462" stop-color="#481668"/><stop offset=".538" stop-color="#481769"/><stop offset=".615" stop-color="#48186a"/><stop offset=".692" stop-color="#481769"/><stop offset=".769" stop-color="#471365"/><stop offset=".846" stop-color="#470d60"/><stop offset=".923" stop-color="#450559"/><stop offset="1" stop-color="#440154"/></linearGradient>
<linearGradient id="g211" x1="0" y1="0" x2="0" y2="1"><stop offset="0" stop-color="#440256"/><stop offset=".077" stop-color="#46075a"/><stop offset=".154" stop-color="#460b5e"/><stop offset=".231" stop-color="#470e61"/><stop offset=".308" stop-color="#471063"/><stop offset=".385" stop-color="#471164"/><stop offset=".462" stop-color="#471365"/><stop offset=".538" stop-color="#481668"/><stop offset=".615" stop-color="#48186a"/><stop offset=".692" stop-color="#48186a"/><stop offset=".769" stop-color="#481467"/><stop offset=".846" stop-color="#470e61"/><stop offset=".923" stop-color="#46085c"/><stop offset="1" stop-color="#440256"/></linearGradient>
<linearGradient id="g212" x1="0" y1="0" x2="0" y2="1"><stop offset="0" stop-color="#440154"/><stop offset=".077" stop-color="#450457"/><stop offset=".154" stop-color="#460a5d"/><stop offset=".231" stop-color="#470e61"/><stop offset=".308" stop-color="#471164"/><stop offset=".385" stop-color="#471365"/><stop offset=".462" stop-color="#481668"/><stop offset=".538" stop-color="#481a6c"/><stop offset=".615" stop-color="#481b6d"/><stop offset=".692" stop-color="#481668"/><stop offset=".769" stop-color="#470d60"/><stop offset=".846" stop-color="#46075a"/><stop offset=".923" stop-color="#440256"/><stop offset="1" stop-color="#440154"/></linearGradient>
<linearGradient id="g213" x1="0" y1="0" x2="0" y2="1"><stop offset="0" stop-color="#440154"/><stop offset=".077" stop-color="#46085c"/><stop offset=".154" stop-color="#471365"/><stop offset=".231" stop-color="#481c6e"/><stop offset=".308" stop-color="#482475"/><stop offset=".385" stop-color="#472c7a"/><stop offset=".462" stop-color="#453781"/><stop offset=".538" stop-color="#433d84"/><stop offset=".615" stop-color="#453581"/><stop offset=".692" stop-color="#482374"/><stop offset=".769" stop-color="#471365"/><stop offset=".846" stop-color="#46085c"/><stop offset=".923" stop-color="#440256"/><stop offset="1" stop-color="#440154"/></linearGradient>
<linearGradient id="g214" x1="0" y1="0" x2="0" y2="1"><stop offset="0" stop-color="#440154"/><stop offset=".071" stop-color="#450457"/><stop offset=".143" stop-color="#48186a"/><stop offset=".214" stop-color="#46327e"/><stop offset=".286" stop-color="#3e4a89"/><stop offset=".357" stop-color="#33638d"/><stop offset=".429" stop-color="#26828e"/><stop offset=".5" stop-color="#25ac82"/><stop offset=".571" stop-color="#44bf70"/><stop offset=".643" stop-color="#1e9d89"/><stop offset=".714" stop-color="#33628d"/><stop offset=".786" stop-color="#453581"/><stop offset=".857" stop-color="#481c6e"/><stop offset=".929" stop-color="#460b5e"/><stop offset="1" stop-color="#440154"/></linearGradient>
<linearGradient id="g215" x1="0" y1="0" x2="0" y2="1"><stop offset="0" stop-color="#440154"/><stop offset=".071" stop-color="#440256"/><stop offset=".143" stop-color="#481668"/><stop offset=".214" stop-color="#46337f"/><stop offset=".286" stop-color="#3a548c"/><stop offset=".357" stop-color="#2a788e"/><stop offset=".429" stop-color="#1fa187"/><stop offset=".5" stop-color="#60ca60"/><stop offset=".571" stop-color="#84d44b"/><stop offset=".643" stop-color="#2ab07f"/><stop offset=".714" stop-color="#2c718e"/><stop offset=".786" stop-color="#414487"/><stop offset=".857" stop-color="#482475"/><stop offset=".929" stop-color="#470d60"/><stop offset="1" stop-color="#440154"/></linearGradient>
<linearGradient id="g216" x1="0" y1="0" x2="0" y2="1"><stop offset="0" stop-color="#440154"/><stop offset=".067" stop-color="#450457"/><stop offset=".133" stop-color="#481b6d"/><stop offset=".2" stop-color="#453781"/><stop offset=".267" stop-color="#3c4f8a"/><stop offset=".333" stop-color="#32658e"/><stop offset=".4" stop-color="#297b8e"/><stop offset=".467" stop-color="#228c8d"/><stop offset=".533" stop-color="#228c8d"/><stop offset=".6" stop-color="#29798e"/><stop offset=".667" stop-color="#34608d"/><stop offset=".733" stop-color="#404588"/><stop offset=".8" stop-color="#472d7b"/><stop offset=".867" stop-color="#481467"/><stop offset=".933" stop-color="#440256"/><stop offset="1" stop-color="#440154"/></linearGradient>
<linearGradient id="g217" x1="0" y1="0" x2="0" y2="1"><stop offset="0" stop-color="#440154"/><stop offset=".067" stop-color="#450457"/><stop offset=".133" stop-color="#481c6e"/><stop offset=".2" stop-color="#433e85"/><stop offset=".267" stop-color="#375b8d"/><stop offset=".333" stop-color="#2d718e"/><stop offset=".4" stop-color="#25838e"/><stop offset=".467" stop-color="#20928c"/><stop offset=".533" stop-color="#20938c"/><stop offset=".6" stop-color="#25858e"/><stop offset=".667" stop-color="#306a8e"/><stop offset=".733" stop-color="#3e4989"/><stop offset=".8" stop-color="#472c7a"/><stop offset=".867" stop-color="#471365"/><stop offset=".933" stop-color="#440256"/><stop offset="1" stop-color="#440154"/></linearGradient>
<linearGradient id="g218" x1="0" y1="0" x2="0" y2="1"><stop offset="0" stop-color="#440154"/><stop offset=".067" stop-color="#46085c"/><stop offset=".133" stop-color="#472e7c"/><stop offset=".2" stop-color="#3a538b"/><stop offset=".267" stop-color="#31678e"/><stop offset=".333" stop-color="#2c728e"/><stop offset=".4" stop-color="#277f8e"/><stop offset=".467" stop-color="#20928c"/><stop offset=".533" stop-color="#23a983"/><stop offset=".6" stop-color="#2db27d"/><stop offset=".667" stop-color="#1e9c89"/><stop offset=".733" stop-color="#2c728e"/><stop offset=".8" stop-color="#404688"/><stop offset=".867" stop-color="#481f70"/><stop offset=".933" stop-color="#450457"/><stop offset="1" stop-color="#440154"/></linearGradient>
<linearGradient id="g219" x1="0" y1="0" x2="0" y2="1"><stop offset="0" stop-color="#440154"/><stop offset=".067" stop-color="#460b5e"/><stop offset=".133" stop-color="#472f7d"/><stop offset=".2" stop-color="#3e4c8a"/><stop offset=".267" stop-color="#3a548c"/><stop offset=".333" stop-color="#39558c"/><stop offset=".4" stop-color="#38598c"/><stop offset=".467" stop-color="#32658e"/><stop offset=".533" stop-color="#2a768e"/><stop offset=".6" stop-color="#26828e"/><stop offset=".667" stop-color="#277e8e"/><stop offset=".733" stop-color="#31668e"/><stop offset=".8" stop-color="#414287"/><stop offset=".867" stop-color="#481f70"/><stop offset=".933" stop-color="#450559"/><stop offset="1" stop-color="#440154"/></linearGradient>
<linearGradient id="g220" x1="0" y1="0" x2="0" y2="1"><stop offset="0" stop-color="#440154"/><stop offset=".071" stop-color="#450457"/><stop offset=".143" stop-color="#481b6d"/><stop offset=".214" stop-color="#463480"/><stop offset=".286" stop-color="#424086"/><stop offset=".357" stop-color="#424186"/><stop offset=".429" stop-color="#414287"/><stop offset=".5" stop-color="#3f4889"/><stop offset=".571" stop-color="#3c4f8a"/><stop offset=".643" stop-color="#3c508b"/><stop offset=".714" stop-color="#404688"/><stop offset=".786" stop-color="#46337f"/><stop offset=".857" stop-color="#481f70"/><stop offset=".929" stop-color="#470d60"/><stop offset="1" stop-color="#440256"/></linearGradient>
<linearGradient id="g221" x1="0" y1="0" x2="0" y2="1"><stop offset="0" stop-color="#440154"/><stop offset=".067" stop-color="#450457"/><stop offset=".133" stop-color="#481d6f"/><stop offset=".2" stop-color="#423f85"/><stop offset=".267" stop-color="#375b8d"/><stop offset=".333" stop-color="#30698e"/><stop offset=".4" stop-color="#2f6c8e"/><stop offset=".467" stop-color="#2f6c8e"/><stop offset=".533" stop-color="#2e6d8e"/><stop offset=".6" stop-color="#2f6b8e"/><stop offset=".667" stop-color="#34618d"/><stop offset=".733" stop-color="#3d4d8a"/><stop offset=".8" stop-color="#46307e"/><stop offset=".867" stop-color="#481467"/><stop offset=".933" stop-color="#440256"/><stop offset="1" stop-color="#440154"/></linearGradient>
<linearGradient id="g222" x1="0" y1="0" x2="0" y2="1"><stop offset="0" stop-color="#440154"/><stop offset=".071" stop-color="#450457"/><stop offset=".143" stop-color="#481769"/><stop offset=".214" stop-color="#472d7b"/><stop offset=".286" stop-color="#424186"/><stop offset=".357" stop-color="#3c508b"/><stop offset=".429" stop-color="#38598c"/><stop offset=".5" stop-color="#355e8d"/><stop offset=".571" stop-color="#355e8d"/><stop offset=".643" stop-color="#38588c"/><stop offset=".714" stop-color="#3f4788"/><stop offset=".786" stop-color="#46327e"/><stop offset=".857" stop-color="#481d6f"/><stop offset=".929" stop-color="#460b5e"/><stop offset="1" stop-color="#440154"/></linearGradient>
<linearGradient id="g223" x1="0" y1="0" x2="0" y2="1"><stop offset="0" stop-color="#440154"/><stop offset=".077" stop-color="#46085c"/><stop offset=".154" stop-color="#471063"/><stop offset=".231" stop-color="#481668"/><stop offset=".308" stop-color="#481a6c"/><stop offset=".385" stop-color="#481d6f"/><stop offset=".462" stop-color="#482071"/><stop offset=".538" stop-color="#482173"/><stop offset=".615" stop-color="#481d6f"/><stop offset=".692" stop-color="#481668"/><stop offset=".769" stop-color="#470d60"/><stop offset=".846" stop-color="#46075a"/><stop offset=".923" stop-color="#440256"/><stop offset="1" stop-color="#440154"/></linearGradient>
<linearGradient id="g224" x1="0" y1="0" x2="0" y2="1"><stop offset="0" stop-color="#440154"/><stop offset=".071" stop-color="#450559"/><stop offset=".143" stop-color="#481f70"/><stop offset=".214" stop-color="#433e85"/><stop offset=".286" stop-color="#39558c"/><stop offset=".357" stop-color="#34618d"/><stop offset=".429" stop-color="#306a8e"/><stop offset=".5" stop-color="#2a768e"/><stop offset=".571" stop-color="#25838e"/><stop offset=".643" stop-color="#26818e"/><stop offset=".714" stop-color="#32648e"/><stop offset=".786" stop-color="#433d84"/><stop offset=".857" stop-color="#481f70"/><stop offset=".929" stop-color="#470d60"/><stop offset="1" stop-color="#440256"/></linearGradient>
<linearGradient id="g225" x1="0" y1="0" x2="0" y2="1"><stop offset="0" stop-color="#440154"/><stop offset=".067" stop-color="#460b5e"/><stop offset=".133" stop-color="#443983"/><stop offset=".2" stop-color="#2f6c8e"/><stop offset=".267" stop-color="#1f948c"/><stop offset=".333" stop-color="#25ab82"/><stop offset=".4" stop-color="#2eb37c"/><stop offset=".467" stop-color="#3aba76"/><stop offset=".533" stop-color="#50c46a"/><stop offset=".6" stop-color="#56c667"/><stop offset=".667" stop-color="#2cb17e"/><stop offset=".733" stop-color="#23888e"/><stop offset=".8" stop-color="#375a8c"/><stop offset=".867" stop-color="#482979"/><stop offset=".933" stop-color="#450559"/><stop offset="1" stop-color="#440154"/></linearGradient>
<linearGradient id="g226" x1="0" y1="0" x2="0" y2="1"><stop offset="0" stop-color="#440154"/><stop offset=".067" stop-color="#450559"/><stop offset=".133" stop-color="#472f7d"/><stop offset=".2" stop-color="#31668e"/><stop offset=".267" stop-color="#1f9a8a"/><stop offset=".333" stop-color="#4ec36b"/><stop offset=".4" stop-color="#6ece58"/><stop offset=".467" stop-color="#56c667"/><stop offset=".533" stop-color="#35b779"/><stop offset=".6" stop-color="#22a785"/><stop offset=".667" stop-color="#1f988b"/><stop offset=".733" stop-color="#25858e"/><stop offset=".8" stop-color="#32648e"/><stop offset=".867" stop-color="#472c7a"/><stop offset=".933" stop-color="#450457"/><stop offset="1" stop-color="#440154"/></linearGradient>
<linearGradient id="g227" x1="0" y1="0" x2="0" y2="1"><stop offset="0" stop-color="#440154"/><stop offset=".067" stop-color="#450457"/><stop offset=".133" stop-color="#481f70"/><stop offset=".2" stop-color="#3e4989"/><stop offset=".267" stop-color="#287c8e"/><stop offset=".333" stop-color="#20a486"/><stop offset=".4" stop-color="#26ad81"/><stop offset=".467" stop-color="#1f978b"/><stop offset=".533" stop-color="#287c8e"/><stop offset=".6" stop-color="#30698e"/><stop offset=".667" stop-color="#355e8d"/><stop offset=".733" stop-color="#3a538b"/><stop offset=".8" stop-color="#424086"/><stop offset=".867" stop-color="#482071"/><stop offset=".933" stop-color="#450457"/><stop offset="1" stop-color="#440154"/></linearGradient>
<linearGradient id="g228" x1="0" y1="0" x2="0" y2="1"><stop offset="0" stop-color="#440256"/><stop offset=".077" stop-color="#471164"/><stop offset=".154" stop-color="#46307e"/><stop offset=".231" stop-color="#365d8d"/><stop offset=".308" stop-color="#26818e"/><stop offset=".385" stop-color="#218e8d"/><stop offset=".462" stop-color="#25858e"/><stop offset=".538" stop-color="#2b748e"/><stop offset=".615" stop-color="#33628d"/><stop offset=".692" stop-color="#3c508b"/><stop offset=".769" stop-color="#433d84"/><stop offset=".846" stop-color="#482677"/><stop offset=".923" stop-color="#471063"/><stop offset="1" stop-color="#440154"/></linearGradient>
<linearGradient id="g229" x1="0" y1="0" x2="0" y2="1"><stop offset="0" stop-color="#440154"/><stop offset=".077" stop-color="#471164"/><stop offset=".154" stop-color="#472e7c"/><stop offset=".231" stop-color="#3a548c"/><stop offset=".308" stop-color="#297a8e"/><stop offset=".385" stop-color="#1f998a"/><stop offset=".462" stop-color="#27ad81"/><stop offset=".538" stop-color="#2eb37c"/><stop offset=".615" stop-color="#22a884"/><stop offset=".692" stop-color="#228c8d"/><stop offset=".769" stop-color="#31688e"/><stop offset=".846" stop-color="#433e85"/><stop offset=".923" stop-color="#481668"/><stop offset="1" stop-color="#440154"/></linearGradient>
<linearGradient id="g230" x1="0" y1="0" x2="0" y2="1"><stop offset="0" stop-color="#440154"/><stop offset=".077" stop-color="#46085c"/><stop offset=".154" stop-color="#481b6d"/><stop offset=".231" stop-color="#46337f"/><stop offset=".308" stop-color="#3b528b"/><stop offset=".385" stop-color="#2c728e"/><stop offset=".462" stop-color="#228b8d"/><stop offset=".538" stop-color="#20938c"/><stop offset=".615" stop-color="#238a8d"/><stop offset=".692" stop-color="#2c728e"/><stop offset=".769" stop-color="#3c508b"/><stop offset=".846" stop-color="#472a7a"/><stop offset=".923" stop-color="#460b5e"/><stop offset="1" stop-color="#440154"/></linearGradient>
<linearGradient id="g231" x1="0" y1="0" x2="0" y2="1"><stop offset="0" stop-color="#440154"/><stop offset=".077" stop-color="#471063"/><stop offset=".154" stop-color="#453781"/><stop offset=".231" stop-color="#2e6e8e"/><stop offset=".308" stop-color="#24aa83"/><stop offset=".385" stop-color="#7cd250"/><stop offset=".462" stop-color="#95d840"/><stop offset=".538" stop-color="#75d054"/><stop offset=".615" stop-color="#34b679"/><stop offset=".692" stop-color="#20928c"/><stop offset=".769" stop-color="#306a8e"/><stop offset=".846" stop-color="#443b84"/><stop offset=".923" stop-color="#471063"/><stop offset="1" stop-color="#440154"/></linearGradient>
<linearGradient id="g232" x1="0" y1="0" x2="0" y2="1"><stop offset="0" stop-color="#440154"/><stop offset=".077" stop-color="#471365"/><stop offset=".154" stop-color="#472d7b"/><stop offset=".231" stop-color="#3f4889"/><stop offset=".308" stop-color="#33638d"/><stop offset=".385" stop-color="#2c738e"/><stop offset=".462" stop-color="#2b748e"/><stop offset=".538" stop-color="#2f6b8e"/><stop offset=".615" stop-color="#355f8d"/><stop offset=".692" stop-color="#3a538b"/><stop offset=".769" stop-color="#404588"/><stop offset=".846" stop-color="#472e7c"/><stop offset=".923" stop-color="#471164"/><stop offset="1" stop-color="#440154"/></linearGradient>
<linearGradient id="g233" x1="0" y1="0" x2="0" y2="1"><stop offset="0" stop-color="#440154"/><stop offset=".077" stop-color="#450559"/><stop offset=".154" stop-color="#460b5e"/><stop offset=".231" stop-color="#471063"/><stop offset=".308" stop-color="#481467"/><stop offset=".385" stop-color="#481769"/><stop offset=".462" stop-color="#481668"/><stop offset=".538" stop-color="#471365"/><stop offset=".615" stop-color="#471063"/><stop offset=".692" stop-color="#470e61"/><stop offset=".769" stop-color="#460b5e"/><stop offset=".846" stop-color="#46085c"/><stop offset=".923" stop-color="#450457"/><stop offset="1" stop-color="#440154"/></linearGradient>
<linearGradient id="g234" x1="0" y1="0" x2="0" y2="1"><stop offset="0" stop-color="#440154"/><stop offset=".077" stop-color="#471063"/><stop offset=".154" stop-color="#482071"/><stop offset=".231" stop-color="#472d7b"/><stop offset=".308" stop-color="#453781"/><stop offset=".385" stop-color="#424086"/><stop offset=".462" stop-color="#414287"/><stop offset=".538" stop-color="#433e85"/><stop offset=".615" stop-color="#463480"/><stop offset=".692" stop-color="#472c7a"/><stop offset=".769" stop-color="#482576"/><stop offset=".846" stop-color="#481d6f"/><stop offset=".923" stop-color="#470e61"/><stop offset="1" stop-color="#440154"/></linearGradient>
<linearGradient id="g235" x1="0" y1="0" x2="0" y2="1"><stop offset="0" stop-color="#440256"/><stop offset=".071" stop-color="#471164"/><stop offset=".143" stop-color="#472c7a"/><stop offset=".214" stop-color="#3e4989"/><stop offset=".286" stop-color="#32648e"/><stop offset=".357" stop-color="#2c728e"/><stop offset=".429" stop-color="#2c718e"/><stop offset=".5" stop-color="#34608d"/><stop offset=".571" stop-color="#3d4d8a"/><stop offset=".643" stop-color="#424186"/><stop offset=".714" stop-color="#443b84"/><stop offset=".786" stop-color="#46337f"/><stop offset=".857" stop-color="#481c6e"/><stop offset=".929" stop-color="#440256"/><stop offset="1" stop-color="#440154"/></linearGradient>
<linearGradient id="g236" x1="0" y1="0" x2="0" y2="1"><stop offset="0" stop-color="#440154"/><stop offset=".077" stop-color="#46075a"/><stop offset=".154" stop-color="#48186a"/><stop offset=".231" stop-color="#472c7a"/><stop offset=".308" stop-color="#423f85"/><stop offset=".385" stop-color="#3e4c8a"/><stop offset=".462" stop-color="#3d4e8a"/><stop offset=".538" stop-color="#404688"/><stop offset=".615" stop-color="#443a83"/><stop offset=".692" stop-color="#472f7d"/><stop offset=".769" stop-color="#482576"/><stop offset=".846" stop-color="#481a6c"/><stop offset=".923" stop-color="#46085c"/><stop offset="1" stop-color="#440154"/></linearGradient>
<linearGradient id="g237" x1="0" y1="0" x2="0" y2="1"><stop offset="0" stop-color="#440154"/><stop offset=".067" stop-color="#450559"/><stop offset=".133" stop-color="#482475"/><stop offset=".2" stop-color="#443a83"/><stop offset=".267" stop-color="#404688"/><stop offset=".333" stop-color="#3d4d8a"/><stop offset=".4" stop-color="#39568c"/><stop offset=".467" stop-color="#32648e"/><stop offset=".533" stop-color="#2c718e"/><stop offset=".6" stop-color="#297a8e"/><stop offset=".667" stop-color="#2b758e"/><stop offset=".733" stop-color="#32648e"/><stop offset=".8" stop-color="#404588"/><stop offset=".867" stop-color="#481d6f"/><stop offset=".933" stop-color="#440256"/><stop offset="1" stop-color="#440154"/></linearGradient>
<linearGradient id="g238" x1="0" y1="0" x2="0" y2="1"><stop offset="0" stop-color="#440154"/><stop offset=".067" stop-color="#450457"/><stop offset=".133" stop-color="#48186a"/><stop offset=".2" stop-color="#482878"/><stop offset=".267" stop-color="#472d7b"/><stop offset=".333" stop-color="#46307e"/><stop offset=".4" stop-color="#443a83"/><stop offset=".467" stop-color="#3f4889"/><stop offset=".533" stop-color="#38598c"/><stop offset=".6" stop-color="#31678e"/><stop offset=".667" stop-color="#2e6d8e"/><stop offset=".733" stop-color="#34618d"/><stop offset=".8" stop-color="#424086"/><stop offset=".867" stop-color="#481b6d"/><stop offset=".933" stop-color="#440256"/><stop offset="1" stop-color="#440154"/></linearGradient>
<linearGradient id="g239" x1="0" y1="0" x2="0" y2="1"><stop offset="0" stop-color="#440154"/><stop offset=".077" stop-color="#460b5e"/><stop offset=".154" stop-color="#482576"/><stop offset=".231" stop-color="#423f85"/><stop offset=".308" stop-color="#365c8d"/><stop offset=".385" stop-color="#2a778e"/><stop offset=".462" stop-color="#21908d"/><stop offset=".538" stop-color="#1f9e89"/><stop offset=".615" stop-color="#1fa188"/><stop offset=".692" stop-color="#1f978b"/><stop offset=".769" stop-color="#287d8e"/><stop offset=".846" stop-color="#3b518b"/><stop offset=".923" stop-color="#481b6d"/><stop offset="1" stop-color="#440154"/></linearGradient>
<linearGradient id="g240" x1="0" y1="0" x2="0" y2="1"><stop offset="0" stop-color="#440154"/><stop offset=".077" stop-color="#470d60"/><stop offset=".154" stop-color="#482677"/><stop offset=".231" stop-color="#3f4788"/><stop offset=".308" stop-color="#2c718e"/><stop offset=".385" stop-color="#1fa088"/><stop offset=".462" stop-color="#44bf70"/><stop offset=".538" stop-color="#58c765"/><stop offset=".615" stop-color="#4ac16d"/><stop offset=".692" stop-color="#2cb17e"/><stop offset=".769" stop-color="#20928c"/><stop offset=".846" stop-color="#34618d"/><stop offset=".923" stop-color="#482173"/><stop offset="1" stop-color="#440154"/></linearGradient>
<linearGradient id="g241" x1="0" y1="0" x2="0" y2="1"><stop offset="0" stop-color="#440154"/><stop offset=".077" stop-color="#46075a"/><stop offset=".154" stop-color="#470e61"/><stop offset=".231" stop-color="#481668"/><stop offset=".308" stop-color="#482071"/><stop offset=".385" stop-color="#472d7b"/><stop offset=".462" stop-color="#443983"/><stop offset=".538" stop-color="#443b84"/><stop offset=".615" stop-color="#453882"/><stop offset=".692" stop-color="#46327e"/><stop offset=".769" stop-color="#482979"/><stop offset=".846" stop-color="#481b6d"/><stop offset=".923" stop-color="#460b5e"/><stop offset="1" stop-color="#440154"/></linearGradient>
<linearGradient id="g242" x1="0" y1="0" x2="0" y2="1"><stop offset="0" stop-color="#440154"/><stop offset=".083" stop-color="#440256"/><stop offset=".167" stop-color="#46075a"/><stop offset=".25" stop-color="#460a5d"/><stop offset=".333" stop-color="#470e61"/><stop offset=".417" stop-color="#481467"/><stop offset=".5" stop-color="#481769"/><stop offset=".583" stop-color="#481467"/><stop offset=".667" stop-color="#471063"/><stop offset=".75" stop-color="#470d60"/><stop offset=".833" stop-color="#460a5d"/><stop offset=".917" stop-color="#450559"/><stop offset="1" stop-color="#440256"/></linearGradient>
<linearGradient id="g243" x1="0" y1="0" x2="0" y2="1"><stop offset="0" stop-color="#440154"/><stop offset=".083" stop-color="#440256"/><stop offset=".167" stop-color="#46075a"/><stop offset=".25" stop-color="#470d60"/><stop offset=".333" stop-color="#471164"/><stop offset=".417" stop-color="#481668"/><stop offset=".5" stop-color="#481668"/><stop offset=".583" stop-color="#471365"/><stop offset=".667" stop-color="#470d60"/><stop offset=".75" stop-color="#460a5d"/><stop offset=".833" stop-color="#46085c"/><stop offset=".917" stop-color="#450559"/><stop offset="1" stop-color="#440256"/></linearGradient>
<linearGradient id="g244" x1="0" y1="0" x2="0" y2="1"><stop offset="0" stop-color="#440154"/><stop offset=".083" stop-color="#440256"/><stop offset=".167" stop-color="#450559"/><stop offset=".25" stop-color="#460a5d"/><stop offset=".333" stop-color="#470e61"/><stop offset=".417" stop-color="#471365"/><stop offset=".5" stop-color="#481668"/><stop offset=".583" stop-color="#481668"/><stop offset=".667" stop-color="#471164"/><stop offset=".75" stop-color="#470d60"/><stop offset=".833" stop-color="#46085c"/><stop offset=".917" stop-color="#450559"/><stop offset="1" stop-color="#440256"/></linearGradient>
<linearGradient id="g245" x1="0" y1="0" x2="0" y2="1"><stop offset="0" stop-color="#440154"/><stop offset=".077" stop-color="#450457"/><stop offset=".154" stop-color="#460a5d"/><stop offset=".231" stop-color="#470d60"/><stop offset=".308" stop-color="#471164"/><stop offset=".385" stop-color="#48186a"/><stop offset=".462" stop-color="#482173"/><stop offset=".538" stop-color="#482878"/><stop offset=".615" stop-color="#482576"/><stop offset=".692" stop-color="#481c6e"/><stop offset=".769" stop-color="#471164"/><stop offset=".846" stop-color="#46085c"/><stop offset=".923" stop-color="#440256"/><stop offset="1" stop-color="#440154"/></linearGradient>
<linearGradient id="g246" x1="0" y1="0" x2="0" y2="1"><stop offset="0" stop-color="#440154"/><stop offset=".077" stop-color="#460a5d"/><stop offset=".154" stop-color="#481a6c"/><stop offset=".231" stop-color="#482576"/><stop offset=".308" stop-color="#46327e"/><stop offset=".385" stop-color="#414487"/><stop offset=".462" stop-color="#375b8d"/><stop offset=".538" stop-color="#2e6d8e"/><stop offset=".615" stop-color="#2f6b8e"/><stop offset=".692" stop-color="#3b518b"/><stop offset=".769" stop-color="#472f7d"/><stop offset=".846" stop-color="#481668"/><stop offset=".923" stop-color="#450559"/><stop offset="1" stop-color="#440154"/></linearGradient>
<linearGradient id="g247" x1="0" y1="0" x2="0" y2="1"><stop offset="0" stop-color="#440154"/><stop offset=".077" stop-color="#450559"/><stop offset=".154" stop-color="#481668"/><stop offset=".231" stop-color="#482979"/><stop offset=".308" stop-color="#433e85"/><stop offset=".385" stop-color="#3c508b"/><stop offset=".462" stop-color="#365c8d"/><stop offset=".538" stop-color="#355f8d"/><stop offset=".615" stop-color="#39568c"/><stop offset=".692" stop-color="#424186"/><stop offset=".769" stop-color="#482979"/><stop offset=".846" stop-color="#481467"/><stop offset=".923" stop-color="#450559"/><stop offset="1" stop-color="#440154"/></linearGradient>
<linearGradient id="g248" x1="0" y1="0" x2="0" y2="1"><stop offset="0" stop-color="#440154"/><stop offset=".077" stop-color="#450457"/><stop offset=".154" stop-color="#470e61"/><stop offset=".231" stop-color="#482071"/><stop offset=".308" stop-color="#46327e"/><stop offset=".385" stop-color="#433e85"/><stop offset=".462" stop-color="#424186"/><stop offset=".538" stop-color="#423f85"/><stop offset=".615" stop-color="#453882"/><stop offset=".692" stop-color="#472e7c"/><stop offset=".769" stop-color="#482374"/><stop offset=".846" stop-color="#481668"/><stop offset=".923" stop-color="#46075a"/><stop offset="1" stop-color="#440154"/></linearGradient>
<linearGradient id="g249" x1="0" y1="0" x2="0" y2="1"><stop offset="0" stop-color="#440154"/><stop offset=".077" stop-color="#460b5e"/><stop offset=".154" stop-color="#443a83"/><stop offset=".231" stop-color="#31688e"/><stop offset=".308" stop-color="#26828e"/><stop offset=".385" stop-color="#24868e"/><stop offset=".462" stop-color="#26818e"/><stop offset=".538" stop-color="#2a788e"/><stop offset=".615" stop-color="#2e6e8e"/><stop offset=".692" stop-color="#355e8d"/><stop offset=".769" stop-color="#3e4989"/><stop offset=".846" stop-color="#472e7c"/><stop offset=".923" stop-color="#470e61"/><stop offset="1" stop-color="#440154"/></linearGradient>
<linearGradient id="g250" x1="0" y1="0" x2="0" y2="1"><stop offset="0" stop-color="#440154"/><stop offset=".077" stop-color="#472a7a"/><stop offset=".154" stop-color="#2a778e"/><stop offset=".231" stop-color="#27ad81"/><stop offset=".308" stop-color="#54c568"/><stop offset=".385" stop-color="#5ac864"/><stop offset=".462" stop-color="#48c16e"/><stop offset=".538" stop-color="#2fb47c"/><stop offset=".615" stop-color="#1f9e89"/><stop offset=".692" stop-color="#26828e"/><stop offset=".769" stop-color="#31688e"/><stop offset=".846" stop-color="#3e4c8a"/><stop offset=".923" stop-color="#482374"/><stop offset="1" stop-color="#440154"/></linearGradient>
<linearGradient id="g251" x1="0" y1="0" x2="0" y2="1"><stop offset="0" stop-color="#440154"/><stop offset=".077" stop-color="#471365"/><stop offset=".154" stop-color="#463480"/><stop offset=".231" stop-color="#38588c"/><stop offset=".308" stop-color="#29798e"/><stop offset=".385" stop-color="#1f988b"/><stop offset=".462" stop-color="#24aa83"/><stop offset=".538" stop-color="#1fa187"/><stop offset=".615" stop-color="#26818e"/><stop offset=".692" stop-color="#375a8c"/><stop offset=".769" stop-color="#453882"/><stop offset=".846" stop-color="#481f70"/><stop offset=".923" stop-color="#460b5e"/><stop offset="1" stop-color="#440154"/></linearGradient>
<linearGradient id="g252" x1="0" y1="0" x2="0" y2="1"><stop offset="0" stop-color="#440154"/><stop offset=".077" stop-color="#46085c"/><stop offset=".154" stop-color="#481d6f"/><stop offset=".231" stop-color="#443a83"/><stop offset=".308" stop-color="#34618d"/><stop offset=".385" stop-color="#23898e"/><stop offset=".462" stop-color="#22a884"/><stop offset=".538" stop-color="#26ad81"/><stop offset=".615" stop-color="#1f968b"/><stop offset=".692" stop-color="#2d708e"/><stop offset=".769" stop-color="#404588"/><stop offset=".846" stop-color="#482173"/><stop offset=".923" stop-color="#46085c"/><stop offset="1" stop-color="#440154"/></linearGradient>
<linearGradient id="g253" x1="0" y1="0" x2="0" y2="1"><stop offset="0" stop-color="#440154"/><stop offset=".077" stop-color="#470d60"/><stop offset=".154" stop-color="#453882"/><stop offset=".231" stop-color="#2c718e"/><stop offset=".308" stop-color="#28ae80"/><stop offset=".385" stop-color="#90d743"/><stop offset=".462" stop-color="#bddf26"/><stop offset=".538" stop-color="#c5e021"/><stop offset=".615" stop-color="#addc30"/><stop offset=".692" stop-color="#4ec36b"/><stop offset=".769" stop-color="#25848e"/><stop offset=".846" stop-color="#3f4788"/><stop offset=".923" stop-color="#481467"/><stop offset="1" stop-color="#440154"/></linearGradient>
<linearGradient id="g254" x1="0" y1="0" x2="0" y2="1"><stop offset="0" stop-color="#440154"/><stop offset=".077" stop-color="#46085c"/><stop offset=".154" stop-color="#472e7c"/><stop offset=".231" stop-color="#34608d"/><stop offset=".308" stop-color="#218e8d"/><stop offset=".385" stop-color="#27ad81"/><stop offset=".462" stop-color="#3aba76"/><stop offset=".538" stop-color="#38b977"/><stop offset=".615" stop-color="#23a983"/><stop offset=".692" stop-color="#25848e"/><stop offset=".769" stop-color="#375b8d"/><stop offset=".846" stop-color="#46337f"/><stop offset=".923" stop-color="#471063"/><stop offset="1" stop-color="#440154"/></linearGradient>
<linearGradient id="g255" x1="0" y1="0" x2="0" y2="1"><stop offset="0" stop-color="#440154"/><stop offset=".083" stop-color="#460a5d"/><stop offset=".167" stop-color="#481467"/><stop offset=".25" stop-color="#481c6e"/><stop offset=".333" stop-color="#482071"/><stop offset=".417" stop-color="#482374"/><stop offset=".5" stop-color="#482374"/><stop offset=".583" stop-color="#481d6f"/><stop offset=".667" stop-color="#481668"/><stop offset=".75" stop-color="#470d60"/><stop offset=".833" stop-color="#46085c"/><stop offset=".917" stop-color="#440256"/><stop offset="1" stop-color="#440154"/></linearGradient>
<linearGradient id="g256" x1="0" y1="0" x2="0" y2="1"><stop offset="0" stop-color="#440154"/><stop offset=".077" stop-color="#450457"/><stop offset=".154" stop-color="#482173"/><stop offset=".231" stop-color="#3c4f8a"/><stop offset=".308" stop-color="#2c738e"/><stop offset=".385" stop-color="#23898e"/><stop offset=".462" stop-color="#20938c"/><stop offset=".538" stop-color="#218e8d"/><stop offset=".615" stop-color="#2c738e"/><stop offset=".692" stop-color="#3b528b"/><stop offset=".769" stop-color="#453581"/><stop offset=".846" stop-color="#481f70"/><stop offset=".923" stop-color="#46085c"/><stop offset="1" stop-color="#440154"/></linearGradient>
<linearGradient id="g257" x1="0" y1="0" x2="0" y2="1"><stop offset="0" stop-color="#440154"/><stop offset=".077" stop-color="#460a5d"/><stop offset=".154" stop-color="#453581"/><stop offset=".231" stop-color="#2f6b8e"/><stop offset=".308" stop-color="#1e9d89"/><stop offset=".385" stop-color="#44bf70"/><stop offset=".462" stop-color="#54c568"/><stop offset=".538" stop-color="#26ad81"/><stop offset=".615" stop-color="#26818e"/><stop offset=".692" stop-color="#375a8c"/><stop offset=".769" stop-color="#423f85"/><stop offset=".846" stop-color="#472a7a"/><stop offset=".923" stop-color="#471063"/><stop offset="1" stop-color="#440154"/></linearGradient>
<linearGradient id="g258" x1="0" y1="0" x2="0" y2="1"><stop offset="0" stop-color="#440154"/><stop offset=".077" stop-color="#450559"/><stop offset=".154" stop-color="#481c6e"/><stop offset=".231" stop-color="#453882"/><stop offset=".308" stop-color="#39568c"/><stop offset=".385" stop-color="#2c728e"/><stop offset=".462" stop-color="#287c8e"/><stop offset=".538" stop-color="#2c718e"/><stop offset=".615" stop-color="#365d8d"/><stop offset=".692" stop-color="#3f4788"/><stop offset=".769" stop-color="#463480"/><stop offset=".846" stop-color="#482173"/><stop offset=".923" stop-color="#460a5d"/><stop offset="1" stop-color="#440154"/></linearGradient>
<linearGradient id="g259" x1="0" y1="0" x2="0" y2="1"><stop offset="0" stop-color="#440154"/><stop offset=".091" stop-color="#450457"/><stop offset=".182" stop-color="#46075a"/><stop offset=".273" stop-color="#460a5d"/><stop offset=".364" stop-color="#471063"/><stop offset=".455" stop-color="#481467"/><stop offset=".545" stop-color="#481668"/><stop offset=".636" stop-color="#481668"/><stop offset=".727" stop-color="#481467"/><stop offset=".818" stop-color="#471063"/><stop offset=".909" stop-color="#460a5d"/><stop offset="1" stop-color="#440256"/></linearGradient>
<linearGradient id="g260" x1="0" y1="0" x2="0" y2="1"><stop offset="0" stop-color="#440154"/><stop offset=".077" stop-color="#450559"/><stop offset=".154" stop-color="#48186a"/><stop offset=".231" stop-color="#482677"/><stop offset=".308" stop-color="#472f7d"/><stop offset=".385" stop-color="#453581"/><stop offset=".462" stop-color="#443983"/><stop offset=".538" stop-color="#443a83"/><stop offset=".615" stop-color="#443a83"/><stop offset=".692" stop-color="#453781"/><stop offset=".769" stop-color="#472e7c"/><stop offset=".846" stop-color="#481c6e"/><stop offset=".923" stop-color="#46075a"/><stop offset="1" stop-color="#440154"/></linearGradient>
<linearGradient id="g261" x1="0" y1="0" x2="0" y2="1"><stop offset="0" stop-color="#440154"/><stop offset=".077" stop-color="#481668"/><stop offset=".154" stop-color="#38598c"/><stop offset=".231" stop-color="#287c8e"/><stop offset=".308" stop-color="#23888e"/><stop offset=".385" stop-color="#25858e"/><stop offset=".462" stop-color="#277e8e"/><stop offset=".538" stop-color="#2a768e"/><stop offset=".615" stop-color="#2e6f8e"/><stop offset=".692" stop-color="#33638d"/><stop offset=".769" stop-color="#3d4e8a"/><stop offset=".846" stop-color="#472f7d"/><stop offset=".923" stop-color="#470d60"/><stop offset="1" stop-color="#440154"/></linearGradient>
<linearGradient id="g262" x1="0" y1="0" x2="0" y2="1"><stop offset="0" stop-color="#440154"/><stop offset=".077" stop-color="#460b5e"/><stop offset=".154" stop-color="#404588"/><stop offset=".231" stop-color="#2e6f8e"/><stop offset=".308" stop-color="#26828e"/><stop offset=".385" stop-color="#25838e"/><stop offset=".462" stop-color="#27808e"/><stop offset=".538" stop-color="#29798e"/><stop offset=".615" stop-color="#2e6f8e"/><stop offset=".692" stop-color="#375a8c"/><stop offset=".769" stop-color="#433e85"/><stop offset=".846" stop-color="#482071"/><stop offset=".923" stop-color="#46075a"/><stop offset="1" stop-color="#440154"/></linearGradient>
<linearGradient id="g263" x1="0" y1="0" x2="0" y2="1"><stop offset="0" stop-color="#440154"/><stop offset=".083" stop-color="#470d60"/><stop offset=".167" stop-color="#481c6e"/><stop offset=".25" stop-color="#482979"/><stop offset=".333" stop-color="#46327e"/><stop offset=".417" stop-color="#443a83"/><stop offset=".5" stop-color="#423f85"/><stop offset=".583" stop-color="#443b84"/><stop offset=".667" stop-color="#472f7d"/><stop offset=".75" stop-color="#481f70"/><stop offset=".833" stop-color="#470e61"/><stop offset=".917" stop-color="#440256"/><stop offset="1" stop-color="#440154"/></linearGradient>
<linearGradient id="g264" x1="0" y1="0" x2="0" y2="1"><stop offset="0" stop-color="#440154"/><stop offset=".091" stop-color="#460a5d"/><stop offset=".182" stop-color="#481f70"/><stop offset=".273" stop-color="#443a83"/><stop offset=".364" stop-color="#38598c"/><stop offset=".455" stop-color="#2e6d8e"/><stop offset=".545" stop-color="#2e6e8e"/><stop offset=".636" stop-color="#375b8d"/><stop offset=".727" stop-color="#443a83"/><stop offset=".818" stop-color="#481d6f"/><stop offset=".909" stop-color="#460a5d"/><stop offset="1" stop-color="#440154"/></linearGradient>
<linearGradient id="g265" x1="0" y1="0" x2="0" y2="1"><stop offset="0" stop-color="#440154"/><stop offset=".091" stop-color="#471164"/><stop offset=".182" stop-color="#453781"/><stop offset=".273" stop-color="#32658e"/><stop offset=".364" stop-color="#1f968b"/><stop offset=".455" stop-color="#46c06f"/><stop offset=".545" stop-color="#63cb5f"/><stop offset=".636" stop-color="#2db27d"/><stop offset=".727" stop-color="#297b8e"/><stop offset=".818" stop-color="#424186"/><stop offset=".909" stop-color="#481668"/><stop offset="1" stop-color="#440154"/></linearGradient>
<linearGradient id="g266" x1="0" y1="0" x2="0" y2="1"><stop offset="0" stop-color="#440154"/><stop offset=".083" stop-color="#481c6e"/><stop offset=".167" stop-color="#433d84"/><stop offset=".25" stop-color="#375a8c"/><stop offset=".333" stop-color="#297a8e"/><stop offset=".417" stop-color="#1e9c89"/><stop offset=".5" stop-color="#29af7f"/><stop offset=".583" stop-color="#26ad81"/><stop offset=".667" stop-color="#1f948c"/><stop offset=".75" stop-color="#2f6c8e"/><stop offset=".833" stop-color="#453581"/><stop offset=".917" stop-color="#46075a"/><stop offset="1" stop-color="#440154"/></linearGradient>
<linearGradient id="g267" x1="0" y1="0" x2="0" y2="1"><stop offset="0" stop-color="#440154"/><stop offset=".083" stop-color="#481668"/><stop offset=".167" stop-color="#472e7c"/><stop offset=".25" stop-color="#404588"/><stop offset=".333" stop-color="#365d8d"/><stop offset=".417" stop-color="#2d718e"/><stop offset=".5" stop-color="#2a768e"/><stop offset=".583" stop-color="#2f6b8e"/><stop offset=".667" stop-color="#375a8c"/><stop offset=".75" stop-color="#404688"/><stop offset=".833" stop-color="#472a7a"/><stop offset=".917" stop-color="#46075a"/><stop offset="1" stop-color="#440154"/></linearGradient>
<linearGradient id="g268" x1="0" y1="0" x2="0" y2="1"><stop offset="0" stop-color="#440154"/><stop offset=".077" stop-color="#46075a"/><stop offset=".154" stop-color="#3b528b"/><stop offset=".231" stop-color="#228c8d"/><stop offset=".308" stop-color="#2ab07f"/><stop offset=".385" stop-color="#58c765"/><stop offset=".462" stop-color="#6ccd5a"/><stop offset=".538" stop-color="#4cc26c"/><stop offset=".615" stop-color="#22a785"/><stop offset=".692" stop-color="#228c8d"/><stop offset=".769" stop-color="#2a778e"/><stop offset=".846" stop-color="#38598c"/><stop offset=".923" stop-color="#481769"/><stop offset="1" stop-color="#440154"/></linearGradient>
<linearGradient id="g269" x1="0" y1="0" x2="0" y2="1"><stop offset="0" stop-color="#440154"/><stop offset=".091" stop-color="#481467"/><stop offset=".182" stop-color="#433d84"/><stop offset=".273" stop-color="#34618d"/><stop offset=".364" stop-color="#277e8e"/><stop offset=".455" stop-color="#218e8d"/><stop offset=".545" stop-color="#218f8d"/><stop offset=".636" stop-color="#277f8e"/><stop offset=".727" stop-color="#31668e"/><stop offset=".818" stop-color="#404688"/><stop offset=".909" stop-color="#482071"/><stop offset="1" stop-color="#440256"/></linearGradient>
<linearGradient id="g270" x1="0" y1="0" x2="0" y2="1"><stop offset="0" stop-color="#440154"/><stop offset=".091" stop-color="#46075a"/><stop offset=".182" stop-color="#481668"/><stop offset=".273" stop-color="#482475"/><stop offset=".364" stop-color="#472f7d"/><stop offset=".455" stop-color="#463480"/><stop offset=".545" stop-color="#46337f"/><stop offset=".636" stop-color="#472c7a"/><stop offset=".727" stop-color="#481f70"/><stop offset=".818" stop-color="#471365"/><stop offset=".909" stop-color="#46075a"/><stop offset="1" stop-color="#440154"/></linearGradient>
<linearGradient id="g271" x1="0" y1="0" x2="0" y2="1"><stop offset="0" stop-color="#440154"/><stop offset=".091" stop-color="#481467"/><stop offset=".182" stop-color="#453581"/><stop offset=".273" stop-color="#38588c"/><stop offset=".364" stop-color="#2b748e"/><stop offset=".455" stop-color="#287d8e"/><stop offset=".545" stop-color="#2e6f8e"/><stop offset=".636" stop-color="#3a548c"/><stop offset=".727" stop-color="#453882"/><stop offset=".818" stop-color="#482173"/><stop offset=".909" stop-color="#471063"/><stop offset="1" stop-color="#440256"/></linearGradient>
<linearGradient id="g272" x1="0" y1="0" x2="0" y2="1"><stop offset="0" stop-color="#440154"/><stop offset=".083" stop-color="#46327e"/><stop offset=".167" stop-color="#2c718e"/><stop offset=".25" stop-color="#29af7f"/><stop offset=".333" stop-color="#93d741"/><stop offset=".417" stop-color="#a5db36"/><stop offset=".5" stop-color="#5cc863"/><stop offset=".583" stop-color="#1f988b"/><stop offset=".667" stop-color="#2f6c8e"/><stop offset=".75" stop-color="#3e4a89"/><stop offset=".833" stop-color="#472e7c"/><stop offset=".917" stop-color="#46085c"/><stop offset="1" stop-color="#440154"/></linearGradient>
<linearGradient id="g273" x1="0" y1="0" x2="0" y2="1"><stop offset="0" stop-color="#440154"/><stop offset=".083" stop-color="#482979"/><stop offset=".167" stop-color="#33638d"/><stop offset=".25" stop-color="#20938c"/><stop offset=".333" stop-color="#34b679"/><stop offset=".417" stop-color="#44bf70"/><stop offset=".5" stop-color="#25ac82"/><stop offset=".583" stop-color="#23888e"/><stop offset=".667" stop-color="#306a8e"/><stop offset=".75" stop-color="#3b528b"/><stop offset=".833" stop-color="#453882"/><stop offset=".917" stop-color="#460b5e"/><stop offset="1" stop-color="#440154"/></linearGradient>
<linearGradient id="g274" x1="0" y1="0" x2="0" y2="1"><stop offset="0" stop-color="#440154"/><stop offset=".083" stop-color="#460b5e"/><stop offset=".167" stop-color="#482173"/><stop offset=".25" stop-color="#453781"/><stop offset=".333" stop-color="#404588"/><stop offset=".417" stop-color="#3f4788"/><stop offset=".5" stop-color="#423f85"/><stop offset=".583" stop-color="#46327e"/><stop offset=".667" stop-color="#482677"/><stop offset=".75" stop-color="#481d6f"/><stop offset=".833" stop-color="#471365"/><stop offset=".917" stop-color="#440256"/><stop offset="1" stop-color="#440154"/></linearGradient>
<linearGradient id="g275" x1="0" y1="0" x2="0" y2="1"><stop offset="0" stop-color="#440154"/><stop offset=".091" stop-color="#450457"/><stop offset=".182" stop-color="#460a5d"/><stop offset=".273" stop-color="#471063"/><stop offset=".364" stop-color="#471365"/><stop offset=".455" stop-color="#471365"/><stop offset=".545" stop-color="#471063"/><stop offset=".636" stop-color="#470d60"/><stop offset=".727" stop-color="#460a5d"/><stop offset=".818" stop-color="#46075a"/><stop offset=".909" stop-color="#450457"/><stop offset="1" stop-color="#440154"/></linearGradient>
<linearGradient id="g276" x1="0" y1="0" x2="0" y2="1"><stop offset="0" stop-color="#440154"/><stop offset=".091" stop-color="#440256"/><stop offset=".182" stop-color="#46085c"/><stop offset=".273" stop-color="#470d60"/><stop offset=".364" stop-color="#471164"/><stop offset=".455" stop-color="#471365"/><stop offset=".545" stop-color="#471164"/><stop offset=".636" stop-color="#471164"/><stop offset=".727" stop-color="#471063"/><stop offset=".818" stop-color="#460b5e"/><stop offset=".909" stop-color="#450559"/><stop offset="1" stop-color="#440154"/></linearGradient>
<linearGradient id="g277" x1="0" y1="0" x2="0" y2="1"><stop offset="0" stop-color="#440154"/><stop offset=".091" stop-color="#46075a"/><stop offset=".182" stop-color="#481c6e"/><stop offset=".273" stop-color="#463480"/><stop offset=".364" stop-color="#3d4e8a"/><stop offset=".455" stop-color="#355f8d"/><stop offset=".545" stop-color="#34608d"/><stop offset=".636" stop-color="#3a538b"/><stop offset=".727" stop-color="#424086"/><stop offset=".818" stop-color="#472a7a"/><stop offset=".909" stop-color="#471063"/><stop offset="1" stop-color="#440154"/></linearGradient>
<linearGradient id="g278" x1="0" y1="0" x2="0" y2="1"><stop offset="0" stop-color="#440154"/><stop offset=".091" stop-color="#460a5d"/><stop offset=".182" stop-color="#481f70"/><stop offset=".273" stop-color="#46337f"/><stop offset=".364" stop-color="#3e4a89"/><stop offset=".455" stop-color="#365d8d"/><stop offset=".545" stop-color="#33628d"/><stop offset=".636" stop-color="#39558c"/><stop offset=".727" stop-color="#423f85"/><stop offset=".818" stop-color="#482677"/><stop offset=".909" stop-color="#471164"/><stop offset="1" stop-color="#440154"/></linearGradient>
<linearGradient id="g279" x1="0" y1="0" x2="0" y2="1"><stop offset="0" stop-color="#440154"/><stop offset=".083" stop-color="#471063"/><stop offset=".167" stop-color="#443a83"/><stop offset=".25" stop-color="#39568c"/><stop offset=".333" stop-color="#2e6e8e"/><stop offset=".417" stop-color="#228b8d"/><stop offset=".5" stop-color="#25ac82"/><stop offset=".583" stop-color="#3dbc74"/><stop offset=".667" stop-color="#22a884"/><stop offset=".75" stop-color="#2b748e"/><stop offset=".833" stop-color="#453581"/><stop offset=".917" stop-color="#440256"/><stop offset="1" stop-color="#440154"/></linearGradient>
<linearGradient id="g280" x1="0" y1="0" x2="0" y2="1"><stop offset="0" stop-color="#440154"/><stop offset=".091" stop-color="#450559"/><stop offset=".182" stop-color="#472a7a"/><stop offset=".273" stop-color="#3a538b"/><stop offset=".364" stop-color="#2b748e"/><stop offset=".455" stop-color="#1f9a8a"/><stop offset=".545" stop-color="#40bd72"/><stop offset=".636" stop-color="#4ac16d"/><stop offset=".727" stop-color="#1f988b"/><stop offset=".818" stop-color="#38598c"/><stop offset=".909" stop-color="#481b6d"/><stop offset="1" stop-color="#440154"/></linearGradient>
<linearGradient id="g281" x1="0" y1="0" x2="0" y2="1"><stop offset="0" stop-color="#440154"/><stop offset=".091" stop-color="#46085c"/><stop offset=".182" stop-color="#482173"/><stop offset=".273" stop-color="#472f7d"/><stop offset=".364" stop-color="#443a83"/><stop offset=".455" stop-color="#404688"/><stop offset=".545" stop-color="#3c4f8a"/><stop offset=".636" stop-color="#3e4989"/><stop offset=".727" stop-color="#453581"/><stop offset=".818" stop-color="#482071"/><stop offset=".909" stop-color="#470e61"/><stop offset="1" stop-color="#440154"/></linearGradient>
<linearGradient id="g282" x1="0" y1="0" x2="0" y2="1"><stop offset="0" stop-color="#440154"/><stop offset=".091" stop-color="#482677"/><stop offset=".182" stop-color="#2f6c8e"/><stop offset=".273" stop-color="#25848e"/><stop offset=".364" stop-color="#21908d"/><stop offset=".455" stop-color="#1e9b8a"/><stop offset=".545" stop-color="#1fa088"/><stop offset=".636" stop-color="#218f8d"/><stop offset=".727" stop-color="#2e6f8e"/><stop offset=".818" stop-color="#3e4c8a"/><stop offset=".909" stop-color="#482878"/><stop offset="1" stop-color="#440256"/></linearGradient>
<linearGradient id="g283" x1="0" y1="0" x2="0" y2="1"><stop offset="0" stop-color="#440154"/><stop offset=".091" stop-color="#481467"/><stop offset=".182" stop-color="#414487"/><stop offset=".273" stop-color="#365d8d"/><stop offset=".364" stop-color="#306a8e"/><stop offset=".455" stop-color="#2c738e"/><stop offset=".545" stop-color="#2c738e"/><stop offset=".636" stop-color="#33628d"/><stop offset=".727" stop-color="#404588"/><stop offset=".818" stop-color="#472c7a"/><stop offset=".909" stop-color="#481668"/><stop offset="1" stop-color="#440154"/></linearGradient>
<linearGradient id="g284" x1="0" y1="0" x2="0" y2="1"><stop offset="0" stop-color="#440154"/><stop offset=".091" stop-color="#470d60"/><stop offset=".182" stop-color="#472e7c"/><stop offset=".273" stop-color="#424086"/><stop offset=".364" stop-color="#3e4c8a"/><stop offset=".455" stop-color="#39558c"/><stop offset=".545" stop-color="#375b8d"/><stop offset=".636" stop-color="#3a548c"/><stop offset=".727" stop-color="#414287"/><stop offset=".818" stop-color="#472e7c"/><stop offset=".909" stop-color="#481a6c"/><stop offset="1" stop-color="#440154"/></linearGradient>
<linearGradient id="g285" x1="0" y1="0" x2="0" y2="1"><stop offset="0" stop-color="#440154"/><stop offset=".091" stop-color="#481769"/><stop offset=".182" stop-color="#39558c"/><stop offset=".273" stop-color="#2c738e"/><stop offset=".364" stop-color="#26818e"/><stop offset=".455" stop-color="#25858e"/><stop offset=".545" stop-color="#238a8d"/><stop offset=".636" stop-color="#228b8d"/><stop offset=".727" stop-color="#277f8e"/><stop offset=".818" stop-color="#33638d"/><stop offset=".909" stop-color="#463480"/><stop offset="1" stop-color="#440154"/></linearGradient>
<linearGradient id="g286" x1="0" y1="0" x2="0" y2="1"><stop offset="0" stop-color="#440154"/><stop offset=".091" stop-color="#450559"/><stop offset=".182" stop-color="#482677"/><stop offset=".273" stop-color="#423f85"/><stop offset=".364" stop-color="#3f4889"/><stop offset=".455" stop-color="#3f4889"/><stop offset=".545" stop-color="#404688"/><stop offset=".636" stop-color="#404588"/><stop offset=".727" stop-color="#423f85"/><stop offset=".818" stop-color="#46327e"/><stop offset=".909" stop-color="#481769"/><stop offset="1" stop-color="#440154"/></linearGradient>
<linearGradient id="g287" x1="0" y1="0" x2="0" y2="1"><stop offset="0" stop-color="#440154"/><stop offset=".091" stop-color="#46075a"/><stop offset=".182" stop-color="#482071"/><stop offset=".273" stop-color="#472c7a"/><stop offset=".364" stop-color="#472d7b"/><stop offset=".455" stop-color="#482677"/><stop offset=".545" stop-color="#482071"/><stop offset=".636" stop-color="#481b6d"/><stop offset=".727" stop-color="#481668"/><stop offset=".818" stop-color="#471164"/><stop offset=".909" stop-color="#46085c"/><stop offset="1" stop-color="#440154"/></linearGradient>
<linearGradient id="g288" x1="0" y1="0" x2="0" y2="1"><stop offset="0" stop-color="#440154"/><stop offset=".091" stop-color="#471164"/><stop offset=".182" stop-color="#3c508b"/><stop offset=".273" stop-color="#2f6b8e"/><stop offset=".364" stop-color="#2d718e"/><stop offset=".455" stop-color="#2e6d8e"/><stop offset=".545" stop-color="#32658e"/><stop offset=".636" stop-color="#38588c"/><stop offset=".727" stop-color="#3f4788"/><stop offset=".818" stop-color="#46327e"/><stop offset=".909" stop-color="#481668"/><stop offset="1" stop-color="#440154"/></linearGradient>
<linearGradient id="g289" x1="0" y1="0" x2="0" y2="1"><stop offset="0" stop-color="#440154"/><stop offset=".091" stop-color="#46085c"/><stop offset=".182" stop-color="#46307e"/><stop offset=".273" stop-color="#3e4a89"/><stop offset=".364" stop-color="#39568c"/><stop offset=".455" stop-color="#365c8d"/><stop offset=".545" stop-color="#375b8d"/><stop offset=".636" stop-color="#3b518b"/><stop offset=".727" stop-color="#423f85"/><stop offset=".818" stop-color="#482878"/><stop offset=".909" stop-color="#470e61"/><stop offset="1" stop-color="#440154"/></linearGradient>
<linearGradient id="g290" x1="0" y1="0" x2="0" y2="1"><stop offset="0" stop-color="#440154"/><stop offset=".091" stop-color="#440256"/><stop offset=".182" stop-color="#471164"/><stop offset=".273" stop-color="#481c6e"/><stop offset=".364" stop-color="#482475"/><stop offset=".455" stop-color="#482979"/><stop offset=".545" stop-color="#472e7c"/><stop offset=".636" stop-color="#472f7d"/><stop offset=".727" stop-color="#482878"/><stop offset=".818" stop-color="#481a6c"/><stop offset=".909" stop-color="#46085c"/><stop offset="1" stop-color="#440154"/></linearGradient>
<linearGradient id="g291" x1="0" y1="0" x2="0" y2="1"><stop offset="0" stop-color="#440154"/><stop offset=".091" stop-color="#450457"/><stop offset=".182" stop-color="#463480"/><stop offset=".273" stop-color="#375b8d"/><stop offset=".364" stop-color="#2f6c8e"/><stop offset=".455" stop-color="#2c728e"/><stop offset=".545" stop-color="#2c738e"/><stop offset=".636" stop-color="#2f6c8e"/><stop offset=".727" stop-color="#38598c"/><stop offset=".818" stop-color="#443a83"/><stop offset=".909" stop-color="#471365"/><stop offset="1" stop-color="#440154"/></linearGradient>
<linearGradient id="g292" x1="0" y1="0" x2="0" y2="1"><stop offset="0" stop-color="#440256"/><stop offset=".1" stop-color="#482677"/><stop offset=".2" stop-color="#3e4989"/><stop offset=".3" stop-color="#38598c"/><stop offset=".4" stop-color="#375b8d"/><stop offset=".5" stop-color="#39558c"/><stop offset=".6" stop-color="#3e4c8a"/><stop offset=".7" stop-color="#433e85"/><stop offset=".8" stop-color="#472c7a"/><stop offset=".9" stop-color="#470e61"/><stop offset="1" stop-color="#440154"/></linearGradient>
<linearGradient id="g293" x1="0" y1="0" x2="0" y2="1"><stop offset="0" stop-color="#440256"/><stop offset=".1" stop-color="#481467"/><stop offset=".2" stop-color="#481d6f"/><stop offset=".3" stop-color="#482071"/><stop offset=".4" stop-color="#482173"/><stop offset=".5" stop-color="#482374"/><stop offset=".6" stop-color="#482475"/><stop offset=".7" stop-color="#482475"/><stop offset=".8" stop-color="#481c6e"/><stop offset=".9" stop-color="#460b5e"/><stop offset="1" stop-color="#440154"/></linearGradient>
<linearGradient id="g294" x1="0" y1="0" x2="0" y2="1"><stop offset="0" stop-color="#440154"/><stop offset=".1" stop-color="#48186a"/><stop offset=".2" stop-color="#482475"/><stop offset=".3" stop-color="#482677"/><stop offset=".4" stop-color="#482878"/><stop offset=".5" stop-color="#472c7a"/><stop offset=".6" stop-color="#46337f"/><stop offset=".7" stop-color="#463480"/><stop offset=".8" stop-color="#482576"/><stop offset=".9" stop-color="#460a5d"/><stop offset="1" stop-color="#440154"/></linearGradient>
<linearGradient id="g295" x1="0" y1="0" x2="0" y2="1"><stop offset="0" stop-color="#440154"/><stop offset=".091" stop-color="#450457"/><stop offset=".182" stop-color="#424086"/><stop offset=".273" stop-color="#3a538b"/><stop offset=".364" stop-color="#3b528b"/><stop offset=".455" stop-color="#39558c"/><stop offset=".545" stop-color="#31668e"/><stop offset=".636" stop-color="#277e8e"/><stop offset=".727" stop-color="#24878e"/><stop offset=".818" stop-color="#33628d"/><stop offset=".909" stop-color="#481a6c"/><stop offset="1" stop-color="#440154"/></linearGradient>
<linearGradient id="g296" x1="0" y1="0" x2="0" y2="1"><stop offset="0" stop-color="#440154"/><stop offset=".091" stop-color="#450457"/><stop offset=".182" stop-color="#46307e"/><stop offset=".273" stop-color="#433e85"/><stop offset=".364" stop-color="#423f85"/><stop offset=".455" stop-color="#404688"/><stop offset=".545" stop-color="#375a8c"/><stop offset=".636" stop-color="#2e6e8e"/><stop offset=".727" stop-color="#30698e"/><stop offset=".818" stop-color="#404588"/><stop offset=".909" stop-color="#471164"/><stop offset="1" stop-color="#440154"/></linearGradient>
<linearGradient id="g297" x1="0" y1="0" x2="0" y2="1"><stop offset="0" stop-color="#440154"/><stop offset=".111" stop-color="#450457"/><stop offset=".222" stop-color="#46075a"/><stop offset=".333" stop-color="#460a5d"/><stop offset=".444" stop-color="#470d60"/><stop offset=".556" stop-color="#481467"/><stop offset=".667" stop-color="#481769"/><stop offset=".778" stop-color="#471365"/><stop offset=".889" stop-color="#460a5d"/><stop offset="1" stop-color="#440256"/></linearGradient>
<linearGradient id="g298" x1="0" y1="0" x2="0" y2="1"><stop offset="0" stop-color="#440154"/><stop offset=".111" stop-color="#450457"/><stop offset=".222" stop-color="#46075a"/><stop offset=".333" stop-color="#46085c"/><stop offset=".444" stop-color="#460a5d"/><stop offset=".556" stop-color="#460b5e"/><stop offset=".667" stop-color="#460a5d"/><stop offset=".778" stop-color="#46085c"/><stop offset=".889" stop-color="#450457"/><stop offset="1" stop-color="#440154"/></linearGradient>
<linearGradient id="g299" x1="0" y1="0" x2="0" y2="1"><stop offset="0" stop-color="#440154"/><stop offset=".111" stop-color="#46085c"/><stop offset=".222" stop-color="#481668"/><stop offset=".333" stop-color="#481a6c"/><stop offset=".444" stop-color="#481a6c"/><stop offset=".556" stop-color="#48186a"/><stop offset=".667" stop-color="#481467"/><stop offset=".778" stop-color="#471063"/><stop offset=".889" stop-color="#460a5d"/><stop offset="1" stop-color="#440154"/></linearGradient>
<linearGradient id="g300" x1="0" y1="0" x2="0" y2="1"><stop offset="0" stop-color="#440154"/><stop offset=".1" stop-color="#481467"/><stop offset=".2" stop-color="#424086"/><stop offset=".3" stop-color="#355f8d"/><stop offset=".4" stop-color="#2e6d8e"/><stop offset=".5" stop-color="#2f6c8e"/><stop offset=".6" stop-color="#355e8d"/><stop offset=".7" stop-color="#414287"/><stop offset=".8" stop-color="#482071"/><stop offset=".9" stop-color="#440256"/><stop offset="1" stop-color="#440154"/></linearGradient>
<linearGradient id="g301" x1="0" y1="0" x2="0" y2="1"><stop offset="0" stop-color="#440154"/><stop offset=".1" stop-color="#482979"/><stop offset=".2" stop-color="#375b8d"/><stop offset=".3" stop-color="#277e8e"/><stop offset=".4" stop-color="#1e9c89"/><stop offset=".5" stop-color="#2fb47c"/><stop offset=".6" stop-color="#37b878"/><stop offset=".7" stop-color="#1f958b"/><stop offset=".8" stop-color="#3a538b"/><stop offset=".9" stop-color="#470d60"/><stop offset="1" stop-color="#440154"/></linearGradient>
<linearGradient id="g302" x1="0" y1="0" x2="0" y2="1"><stop offset="0" stop-color="#440154"/><stop offset=".1" stop-color="#481f70"/><stop offset=".2" stop-color="#3f4788"/><stop offset=".3" stop-color="#31668e"/><stop offset=".4" stop-color="#27808e"/><stop offset=".5" stop-color="#1f988b"/><stop offset=".6" stop-color="#22a884"/><stop offset=".7" stop-color="#1e9b8a"/><stop offset=".8" stop-color="#31678e"/><stop offset=".9" stop-color="#471365"/><stop offset="1" stop-color="#440154"/></linearGradient>
<linearGradient id="g303" x1="0" y1="0" x2="0" y2="1"><stop offset="0" stop-color="#440154"/><stop offset=".1" stop-color="#46085c"/><stop offset=".2" stop-color="#481c6e"/><stop offset=".3" stop-color="#472d7b"/><stop offset=".4" stop-color="#433e85"/><stop offset=".5" stop-color="#3e4c8a"/><stop offset=".6" stop-color="#3c508b"/><stop offset=".7" stop-color="#404688"/><stop offset=".8" stop-color="#482979"/><stop offset=".9" stop-color="#450457"/><stop offset="1" stop-color="#440154"/></linearGradient>
<linearGradient id="g304" x1="0" y1="0" x2="0" y2="1"><stop offset="0" stop-color="#440256"/><stop offset=".125" stop-color="#460a5d"/><stop offset=".25" stop-color="#481668"/><stop offset=".375" stop-color="#482475"/><stop offset=".5" stop-color="#453581"/><stop offset=".625" stop-color="#433e85"/><stop offset=".75" stop-color="#46327e"/><stop offset=".875" stop-color="#481769"/><stop offset="1" stop-color="#440154"/></linearGradient>
<linearGradient id="g305" x1="0" y1="0" x2="0" y2="1"><stop offset="0" stop-color="#440154"/><stop offset=".1" stop-color="#46075a"/><stop offset=".2" stop-color="#481a6c"/><stop offset=".3" stop-color="#472f7d"/><stop offset=".4" stop-color="#3d4d8a"/><stop offset=".5" stop-color="#306a8e"/><stop offset=".6" stop-color="#2b758e"/><stop offset=".7" stop-color="#33638d"/><stop offset=".8" stop-color="#453581"/><stop offset=".9" stop-color="#450559"/><stop offset="1" stop-color="#440154"/></linearGradient>
<linearGradient id="g306" x1="0" y1="0" x2="0" y2="1"><stop offset="0" stop-color="#440154"/><stop offset=".1" stop-color="#450457"/><stop offset=".2" stop-color="#471063"/><stop offset=".3" stop-color="#481c6e"/><stop offset=".4" stop-color="#472a7a"/><stop offset=".5" stop-color="#453882"/><stop offset=".6" stop-color="#433d84"/><stop offset=".7" stop-color="#46337f"/><stop offset=".8" stop-color="#481f70"/><stop offset=".9" stop-color="#450457"/><stop offset="1" stop-color="#440154"/></linearGradient>
<linearGradient id="g307" x1="0" y1="0" x2="0" y2="1"><stop offset="0" stop-color="#440256"/><stop offset=".125" stop-color="#450559"/><stop offset=".25" stop-color="#46085c"/><stop offset=".375" stop-color="#460b5e"/><stop offset=".5" stop-color="#470d60"/><stop offset=".625" stop-color="#460b5e"/><stop offset=".75" stop-color="#460a5d"/><stop offset=".875" stop-color="#450559"/><stop offset="1" stop-color="#440154"/></linearGradient>
<linearGradient id="g308" x1="0" y1="0" x2="0" y2="1"><stop offset="0" stop-color="#440256"/><stop offset=".125" stop-color="#450559"/><stop offset=".25" stop-color="#46085c"/><stop offset=".375" stop-color="#460b5e"/><stop offset=".5" stop-color="#460b5e"/><stop offset=".625" stop-color="#460b5e"/><stop offset=".75" stop-color="#460a5d"/><stop offset=".875" stop-color="#450559"/><stop offset="1" stop-color="#440154"/></linearGradient>
<linearGradient id="g309" x1="0" y1="0" x2="0" y2="1"><stop offset="0" stop-color="#440154"/><stop offset=".111" stop-color="#450559"/><stop offset=".222" stop-color="#471365"/><stop offset=".333" stop-color="#481a6c"/><stop offset=".444" stop-color="#481f70"/><stop offset=".556" stop-color="#482374"/><stop offset=".667" stop-color="#482475"/><stop offset=".778" stop-color="#481f70"/><stop offset=".889" stop-color="#471164"/><stop offset="1" stop-color="#440154"/></linearGradient>
<linearGradient id="g310" x1="0" y1="0" x2="0" y2="1"><stop offset="0" stop-color="#440154"/><stop offset=".1" stop-color="#470d60"/><stop offset=".2" stop-color="#472f7d"/><stop offset=".3" stop-color="#404688"/><stop offset=".4" stop-color="#38598c"/><stop offset=".5" stop-color="#2f6b8e"/><stop offset=".6" stop-color="#297a8e"/><stop offset=".7" stop-color="#2b758e"/><stop offset=".8" stop-color="#3f4788"/><stop offset=".9" stop-color="#450457"/><stop offset="1" stop-color="#440154"/></linearGradient>
<linearGradient id="g311" x1="0" y1="0" x2="0" y2="1"><stop offset="0" stop-color="#440154"/><stop offset=".1" stop-color="#471365"/><stop offset=".2" stop-color="#453781"/><stop offset=".3" stop-color="#3e4989"/><stop offset=".4" stop-color="#38598c"/><stop offset=".5" stop-color="#32658e"/><stop offset=".6" stop-color="#30698e"/><stop offset=".7" stop-color="#355e8d"/><stop offset=".8" stop-color="#443a83"/><stop offset=".9" stop-color="#450457"/><stop offset="1" stop-color="#440154"/></linearGradient>
<linearGradient id="g312" x1="0" y1="0" x2="0" y2="1"><stop offset="0" stop-color="#440154"/><stop offset=".111" stop-color="#450457"/><stop offset=".222" stop-color="#471063"/><stop offset=".333" stop-color="#481769"/><stop offset=".444" stop-color="#481b6d"/><stop offset=".556" stop-color="#48186a"/><stop offset=".667" stop-color="#481467"/><stop offset=".778" stop-color="#470d60"/><stop offset=".889" stop-color="#450559"/><stop offset="1" stop-color="#440154"/></linearGradient>
<linearGradient id="g313" x1="0" y1="0" x2="0" y2="1"><stop offset="0" stop-color="#440154"/><stop offset=".111" stop-color="#471365"/><stop offset=".222" stop-color="#404688"/><stop offset=".333" stop-color="#33628d"/><stop offset=".444" stop-color="#31688e"/><stop offset=".556" stop-color="#355f8d"/><stop offset=".667" stop-color="#3d4e8a"/><stop offset=".778" stop-color="#443983"/><stop offset=".889" stop-color="#481c6e"/><stop offset="1" stop-color="#440154"/></linearGradient>
<linearGradient id="g314" x1="0" y1="0" x2="0" y2="1"><stop offset="0" stop-color="#440154"/><stop offset=".111" stop-color="#481769"/><stop offset=".222" stop-color="#375a8c"/><stop offset=".333" stop-color="#277e8e"/><stop offset=".444" stop-color="#218e8d"/><stop offset=".556" stop-color="#20928c"/><stop offset=".667" stop-color="#24868e"/><stop offset=".778" stop-color="#31678e"/><stop offset=".889" stop-color="#46327e"/><stop offset="1" stop-color="#440154"/></linearGradient>
<linearGradient id="g315" x1="0" y1="0" x2="0" y2="1"><stop offset="0" stop-color="#440154"/><stop offset=".111" stop-color="#450457"/><stop offset=".222" stop-color="#481769"/><stop offset=".333" stop-color="#482576"/><stop offset=".444" stop-color="#46327e"/><stop offset=".556" stop-color="#433d84"/><stop offset=".667" stop-color="#414487"/><stop offset=".778" stop-color="#443b84"/><stop offset=".889" stop-color="#481f70"/><stop offset="1" stop-color="#440154"/></linearGradient>
<linearGradient id="g316" x1="0" y1="0" x2="0" y2="1"><stop offset="0" stop-color="#440154"/><stop offset=".125" stop-color="#450457"/><stop offset=".25" stop-color="#46075a"/><stop offset=".375" stop-color="#46085c"/><stop offset=".5" stop-color="#46085c"/><stop offset=".625" stop-color="#460a5d"/><stop offset=".75" stop-color="#46085c"/><stop offset=".875" stop-color="#450457"/><stop offset="1" stop-color="#440154"/></linearGradient>
<linearGradient id="g317" x1="0" y1="0" x2="0" y2="1"><stop offset="0" stop-color="#440154"/><stop offset=".125" stop-color="#450559"/><stop offset=".25" stop-color="#460b5e"/><stop offset=".375" stop-color="#471063"/><stop offset=".5" stop-color="#471365"/><stop offset=".625" stop-color="#471365"/><stop offset=".75" stop-color="#470e61"/><stop offset=".875" stop-color="#450559"/><stop offset="1" stop-color="#440154"/></linearGradient>
<linearGradient id="g318" x1="0" y1="0" x2="0" y2="1"><stop offset="0" stop-color="#440154"/><stop offset=".111" stop-color="#450457"/><stop offset=".222" stop-color="#482374"/><stop offset=".333" stop-color="#404588"/><stop offset=".444" stop-color="#34608d"/><stop offset=".556" stop-color="#2f6b8e"/><stop offset=".667" stop-color="#33638d"/><stop offset=".778" stop-color="#3f4788"/><stop offset=".889" stop-color="#481a6c"/><stop offset="1" stop-color="#440154"/></linearGradient>
<linearGradient id="g319" x1="0" y1="0" x2="0" y2="1"><stop offset="0" stop-color="#440154"/><stop offset=".111" stop-color="#470d60"/><stop offset=".222" stop-color="#404588"/><stop offset=".333" stop-color="#32648e"/><stop offset=".444" stop-color="#306a8e"/><stop offset=".556" stop-color="#365c8d"/><stop offset=".667" stop-color="#424086"/><stop offset=".778" stop-color="#482576"/><stop offset=".889" stop-color="#471063"/><stop offset="1" stop-color="#440154"/></linearGradient>
<linearGradient id="g320" x1="0" y1="0" x2="0" y2="1"><stop offset="0" stop-color="#440154"/><stop offset=".143" stop-color="#470d60"/><stop offset=".286" stop-color="#481668"/><stop offset=".429" stop-color="#481769"/><stop offset=".571" stop-color="#481467"/><stop offset=".714" stop-color="#470d60"/><stop offset=".857" stop-color="#46075a"/><stop offset="1" stop-color="#440256"/></linearGradient>
<linearGradient id="g321" x1="0" y1="0" x2="0" y2="1"><stop offset="0" stop-color="#440154"/><stop offset=".143" stop-color="#450559"/><stop offset=".286" stop-color="#46075a"/><stop offset=".429" stop-color="#46085c"/><stop offset=".571" stop-color="#46075a"/><stop offset=".714" stop-color="#450559"/><stop offset=".857" stop-color="#440256"/><stop offset="1" stop-color="#440154"/></linearGradient>
<linearGradient id="g322" x1="0" y1="0" x2="0" y2="1"><stop offset="0" stop-color="#440154"/><stop offset=".143" stop-color="#450559"/><stop offset=".286" stop-color="#46085c"/><stop offset=".429" stop-color="#46085c"/><stop offset=".571" stop-color="#450559"/><stop offset=".714" stop-color="#450457"/><stop offset=".857" stop-color="#440256"/><stop offset="1" stop-color="#440154"/></linearGradient>
<linearGradient id="g323" x1="0" y1="0" x2="0" y2="1"><stop offset="0" stop-color="#440154"/><stop offset=".143" stop-color="#450559"/><stop offset=".286" stop-color="#46085c"/><stop offset=".429" stop-color="#46085c"/><stop offset=".571" stop-color="#46075a"/><stop offset=".714" stop-color="#450457"/><stop offset=".857" stop-color="#440256"/><stop offset="1" stop-color="#440154"/></linearGradient>
<linearGradient id="g324" x1="0" y1="0" x2="0" y2="1"><stop offset="0" stop-color="#440154"/><stop offset=".125" stop-color="#470d60"/><stop offset=".25" stop-color="#471365"/><stop offset=".375" stop-color="#481467"/><stop offset=".5" stop-color="#471365"/><stop offset=".625" stop-color="#471164"/><stop offset=".75" stop-color="#470d60"/><stop offset=".875" stop-color="#450457"/><stop offset="1" stop-color="#440154"/></linearGradient>
<linearGradient id="g325" x1="0" y1="0" x2="0" y2="1"><stop offset="0" stop-color="#440154"/><stop offset=".125" stop-color="#471063"/><stop offset=".25" stop-color="#481668"/><stop offset=".375" stop-color="#48186a"/><stop offset=".5" stop-color="#481b6d"/><stop offset=".625" stop-color="#481d6f"/><stop offset=".75" stop-color="#481a6c"/><stop offset=".875" stop-color="#46085c"/><stop offset="1" stop-color="#440154"/></linearGradient>
<linearGradient id="g326" x1="0" y1="0" x2="0" y2="1"><stop offset="0" stop-color="#440154"/><stop offset=".111" stop-color="#440256"/><stop offset=".222" stop-color="#482173"/><stop offset=".333" stop-color="#46337f"/><stop offset=".444" stop-color="#423f85"/><stop offset=".556" stop-color="#3b518b"/><stop offset=".667" stop-color="#33638d"/><stop offset=".778" stop-color="#365c8d"/><stop offset=".889" stop-color="#481c6e"/><stop offset="1" stop-color="#440154"/></linearGradient>
<linearGradient id="g327" x1="0" y1="0" x2="0" y2="1"><stop offset="0" stop-color="#440154"/><stop offset=".125" stop-color="#482071"/><stop offset=".25" stop-color="#443983"/><stop offset=".375" stop-color="#3a538b"/><stop offset=".5" stop-color="#2c738e"/><stop offset=".625" stop-color="#20928c"/><stop offset=".75" stop-color="#25858e"/><stop offset=".875" stop-color="#482475"/><stop offset="1" stop-color="#440154"/></linearGradient>
<linearGradient id="g328" x1="0" y1="0" x2="0" y2="1"><stop offset="0" stop-color="#440154"/><stop offset=".125" stop-color="#48186a"/><stop offset=".25" stop-color="#46337f"/><stop offset=".375" stop-color="#3e4989"/><stop offset=".5" stop-color="#365c8d"/><stop offset=".625" stop-color="#32648e"/><stop offset=".75" stop-color="#3b518b"/><stop offset=".875" stop-color="#471063"/><stop offset="1" stop-color="#440154"/></linearGradient>
<linearGradient id="g329" x1="0" y1="0" x2="0" y2="1"><stop offset="0" stop-color="#440154"/><stop offset=".125" stop-color="#471063"/><stop offset=".25" stop-color="#481c6e"/><stop offset=".375" stop-color="#482071"/><stop offset=".5" stop-color="#482374"/><stop offset=".625" stop-color="#482374"/><stop offset=".75" stop-color="#481c6e"/><stop offset=".875" stop-color="#46075a"/><stop offset="1" stop-color="#440154"/></linearGradient>
<linearGradient id="g330" x1="0" y1="0" x2="0" y2="1"><stop offset="0" stop-color="#440154"/><stop offset=".125" stop-color="#470d60"/><stop offset=".25" stop-color="#48186a"/><stop offset=".375" stop-color="#481d6f"/><stop offset=".5" stop-color="#482374"/><stop offset=".625" stop-color="#482677"/><stop offset=".75" stop-color="#482576"/><stop offset=".875" stop-color="#470d60"/><stop offset="1" stop-color="#440154"/></linearGradient>
<linearGradient id="g331" x1="0" y1="0" x2="0" y2="1"><stop offset="0" stop-color="#440154"/><stop offset=".125" stop-color="#482173"/><stop offset=".25" stop-color="#3f4788"/><stop offset=".375" stop-color="#355f8d"/><stop offset=".5" stop-color="#2e6d8e"/><stop offset=".625" stop-color="#2c728e"/><stop offset=".75" stop-color="#34618d"/><stop offset=".875" stop-color="#471164"/><stop offset="1" stop-color="#440154"/></linearGradient>
<linearGradient id="g332" x1="0" y1="0" x2="0" y2="1"><stop offset="0" stop-color="#440154"/><stop offset=".125" stop-color="#470e61"/><stop offset=".25" stop-color="#482576"/><stop offset=".375" stop-color="#453581"/><stop offset=".5" stop-color="#414287"/><stop offset=".625" stop-color="#3e4a89"/><stop offset=".75" stop-color="#443a83"/><stop offset=".875" stop-color="#46075a"/><stop offset="1" stop-color="#440154"/></linearGradient>
<linearGradient id="g333" x1="0" y1="0" x2="0" y2="1"><stop offset="0" stop-color="#440154"/><stop offset=".125" stop-color="#46075a"/><stop offset=".25" stop-color="#460b5e"/><stop offset=".375" stop-color="#470d60"/><stop offset=".5" stop-color="#470e61"/><stop offset=".625" stop-color="#471063"/><stop offset=".75" stop-color="#470e61"/><stop offset=".875" stop-color="#440256"/><stop offset="1" stop-color="#440154"/></linearGradient>
<linearGradient id="g334" x1="0" y1="0" x2="0" y2="1"><stop offset="0" stop-color="#440154"/><stop offset=".111" stop-color="#440256"/><stop offset=".222" stop-color="#481f70"/><stop offset=".333" stop-color="#482677"/><stop offset=".444" stop-color="#482677"/><stop offset=".556" stop-color="#482677"/><stop offset=".667" stop-color="#482677"/><stop offset=".778" stop-color="#482071"/><stop offset=".889" stop-color="#46075a"/><stop offset="1" stop-color="#440154"/></linearGradient>
<linearGradient id="g335" x1="0" y1="0" x2="0" y2="1"><stop offset="0" stop-color="#440154"/><stop offset=".111" stop-color="#450457"/><stop offset=".222" stop-color="#3e4c8a"/><stop offset=".333" stop-color="#2e6d8e"/><stop offset=".444" stop-color="#2a788e"/><stop offset=".556" stop-color="#277f8e"/><stop offset=".667" stop-color="#287c8e"/><stop offset=".778" stop-color="#355e8d"/><stop offset=".889" stop-color="#481467"/><stop offset="1" stop-color="#440154"/></linearGradient>
<linearGradient id="g336" x1="0" y1="0" x2="0" y2="1"><stop offset="0" stop-color="#440154"/><stop offset=".125" stop-color="#482576"/><stop offset=".25" stop-color="#414287"/><stop offset=".375" stop-color="#3c508b"/><stop offset=".5" stop-color="#39558c"/><stop offset=".625" stop-color="#3d4e8a"/><stop offset=".75" stop-color="#472f7d"/><stop offset=".875" stop-color="#450559"/><stop offset="1" stop-color="#440154"/></linearGradient>
<linearGradient id="g337" x1="0" y1="0" x2="0" y2="1"><stop offset="0" stop-color="#440154"/><stop offset=".143" stop-color="#440256"/><stop offset=".286" stop-color="#46085c"/><stop offset=".429" stop-color="#460b5e"/><stop offset=".571" stop-color="#470e61"/><stop offset=".714" stop-color="#460b5e"/><stop offset=".857" stop-color="#450559"/><stop offset="1" stop-color="#440154"/></linearGradient>
<linearGradient id="g338" x1="0" y1="0" x2="0" y2="1"><stop offset="0" stop-color="#440256"/><stop offset=".167" stop-color="#450559"/><stop offset=".333" stop-color="#46075a"/><stop offset=".5" stop-color="#46075a"/><stop offset=".667" stop-color="#450559"/><stop offset=".833" stop-color="#440256"/><stop offset="1" stop-color="#440154"/></linearGradient>
<linearGradient id="g339" x1="0" y1="0" x2="0" y2="1"><stop offset="0" stop-color="#440154"/><stop offset=".143" stop-color="#440256"/><stop offset=".286" stop-color="#450559"/><stop offset=".429" stop-color="#450559"/><stop offset=".571" stop-color="#46075a"/><stop offset=".714" stop-color="#450559"/><stop offset=".857" stop-color="#450457"/><stop offset="1" stop-color="#440154"/></linearGradient>
<linearGradient id="g340" x1="0" y1="0" x2="0" y2="1"><stop offset="0" stop-color="#440154"/><stop offset=".143" stop-color="#46075a"/><stop offset=".286" stop-color="#460a5d"/><stop offset=".429" stop-color="#460b5e"/><stop offset=".571" stop-color="#460b5e"/><stop offset=".714" stop-color="#460b5e"/><stop offset=".857" stop-color="#46075a"/><stop offset="1" stop-color="#440154"/></linearGradient>
<linearGradient id="g341" x1="0" y1="0" x2="0" y2="1"><stop offset="0" stop-color="#440154"/><stop offset=".143" stop-color="#481668"/><stop offset=".286" stop-color="#472a7a"/><stop offset=".429" stop-color="#472d7b"/><stop offset=".571" stop-color="#482576"/><stop offset=".714" stop-color="#481b6d"/><stop offset=".857" stop-color="#470d60"/><stop offset="1" stop-color="#440154"/></linearGradient>
<linearGradient id="g342" x1="0" y1="0" x2="0" y2="1"><stop offset="0" stop-color="#440154"/><stop offset=".143" stop-color="#482374"/><stop offset=".286" stop-color="#365d8d"/><stop offset=".429" stop-color="#2d708e"/><stop offset=".571" stop-color="#365d8d"/><stop offset=".714" stop-color="#453882"/><stop offset=".857" stop-color="#481668"/><stop offset="1" stop-color="#440154"/></linearGradient>
<linearGradient id="g343" x1="0" y1="0" x2="0" y2="1"><stop offset="0" stop-color="#440154"/><stop offset=".143" stop-color="#481f70"/><stop offset=".286" stop-color="#414487"/><stop offset=".429" stop-color="#3a538b"/><stop offset=".571" stop-color="#3e4a89"/><stop offset=".714" stop-color="#46337f"/><stop offset=".857" stop-color="#481769"/><stop offset="1" stop-color="#440154"/></linearGradient>
<linearGradient id="g344" x1="0" y1="0" x2="0" y2="1"><stop offset="0" stop-color="#440154"/><stop offset=".143" stop-color="#46075a"/><stop offset=".286" stop-color="#460b5e"/><stop offset=".429" stop-color="#470d60"/><stop offset=".571" stop-color="#470d60"/><stop offset=".714" stop-color="#460a5d"/><stop offset=".857" stop-color="#450559"/><stop offset="1" stop-color="#440154"/></linearGradient>
<linearGradient id="g345" x1="0" y1="0" x2="0" y2="1"><stop offset="0" stop-color="#440154"/><stop offset=".143" stop-color="#450457"/><stop offset=".286" stop-color="#450559"/><stop offset=".429" stop-color="#46075a"/><stop offset=".571" stop-color="#450559"/><stop offset=".714" stop-color="#450457"/><stop offset=".857" stop-color="#440256"/><stop offset="1" stop-color="#440154"/></linearGradient>
<linearGradient id="g346" x1="0" y1="0" x2="0" y2="1"><stop offset="0" stop-color="#440154"/><stop offset=".143" stop-color="#46075a"/><stop offset=".286" stop-color="#470e61"/><stop offset=".429" stop-color="#471365"/><stop offset=".571" stop-color="#471365"/><stop offset=".714" stop-color="#471164"/><stop offset=".857" stop-color="#460a5d"/><stop offset="1" stop-color="#440154"/></linearGradient>
<linearGradient id="g347" x1="0" y1="0" x2="0" y2="1"><stop offset="0" stop-color="#440154"/><stop offset=".143" stop-color="#48186a"/><stop offset=".286" stop-color="#46337f"/><stop offset=".429" stop-color="#433e85"/><stop offset=".571" stop-color="#423f85"/><stop offset=".714" stop-color="#453882"/><stop offset=".857" stop-color="#482173"/><stop offset="1" stop-color="#440154"/></linearGradient>
<linearGradient id="g348" x1="0" y1="0" x2="0" y2="1"><stop offset="0" stop-color="#440154"/><stop offset=".143" stop-color="#471063"/><stop offset=".286" stop-color="#482576"/><stop offset=".429" stop-color="#472f7d"/><stop offset=".571" stop-color="#46327e"/><stop offset=".714" stop-color="#472d7b"/><stop offset=".857" stop-color="#481b6d"/><stop offset="1" stop-color="#440154"/></linearGradient>
<linearGradient id="g349" x1="0" y1="0" x2="0" y2="1"><stop offset="0" stop-color="#440154"/><stop offset=".143" stop-color="#440256"/><stop offset=".286" stop-color="#46075a"/><stop offset=".429" stop-color="#46085c"/><stop offset=".571" stop-color="#460a5d"/><stop offset=".714" stop-color="#46085c"/><stop offset=".857" stop-color="#450559"/><stop offset="1" stop-color="#440154"/></linearGradient>
<linearGradient id="g350" x1="0" y1="0" x2="0" y2="1"><stop offset="0" stop-color="#440154"/><stop offset=".167" stop-color="#440256"/><stop offset=".333" stop-color="#450559"/><stop offset=".5" stop-color="#46075a"/><stop offset=".667" stop-color="#450559"/><stop offset=".833" stop-color="#450457"/><stop offset="1" stop-color="#440154"/></linearGradient>
<linearGradient id="g351" x1="0" y1="0" x2="0" y2="1"><stop offset="0" stop-color="#440154"/><stop offset=".143" stop-color="#440256"/><stop offset=".286" stop-color="#450559"/><stop offset=".429" stop-color="#46085c"/><stop offset=".571" stop-color="#460a5d"/><stop offset=".714" stop-color="#460a5d"/><stop offset=".857" stop-color="#46075a"/><stop offset="1" stop-color="#440154"/></linearGradient>
<linearGradient id="g352" x1="0" y1="0" x2="0" y2="1"><stop offset="0" stop-color="#440154"/><stop offset=".143" stop-color="#482374"/><stop offset=".286" stop-color="#423f85"/><stop offset=".429" stop-color="#3f4889"/><stop offset=".571" stop-color="#414487"/><stop offset=".714" stop-color="#46337f"/><stop offset=".857" stop-color="#481a6c"/><stop offset="1" stop-color="#440154"/></linearGradient>
<linearGradient id="g353" x1="0" y1="0" x2="0" y2="1"><stop offset="0" stop-color="#440256"/><stop offset=".143" stop-color="#453781"/><stop offset=".286" stop-color="#38588c"/><stop offset=".429" stop-color="#3b528b"/><stop offset=".571" stop-color="#423f85"/><stop offset=".714" stop-color="#472a7a"/><stop offset=".857" stop-color="#481467"/><stop offset="1" stop-color="#440154"/></linearGradient>
<linearGradient id="g354" x1="0" y1="0" x2="0" y2="1"><stop offset="0" stop-color="#440154"/><stop offset=".143" stop-color="#460b5e"/><stop offset=".286" stop-color="#471365"/><stop offset=".429" stop-color="#471164"/><stop offset=".571" stop-color="#460b5e"/><stop offset=".714" stop-color="#46075a"/><stop offset=".857" stop-color="#450457"/><stop offset="1" stop-color="#440154"/></linearGradient>
<linearGradient id="g355" x1="0" y1="0" x2="0" y2="1"><stop offset="0" stop-color="#440154"/><stop offset=".167" stop-color="#450457"/><stop offset=".333" stop-color="#450559"/><stop offset=".5" stop-color="#450559"/><stop offset=".667" stop-color="#450457"/><stop offset=".833" stop-color="#440256"/><stop offset="1" stop-color="#440154"/></linearGradient>
<linearGradient id="g356" x1="0" y1="0" x2="0" y2="1"><stop offset="0" stop-color="#440256"/><stop offset=".2" stop-color="#450559"/><stop offset=".4" stop-color="#46075a"/><stop offset=".6" stop-color="#450457"/><stop offset=".8" stop-color="#440256"/><stop offset="1" stop-color="#440154"/></linearGradient>
<linearGradient id="g357" x1="0" y1="0" x2="0" y2="1"><stop offset="0" stop-color="#440154"/><stop offset=".167" stop-color="#46075a"/><stop offset=".333" stop-color="#471365"/><stop offset=".5" stop-color="#481467"/><stop offset=".667" stop-color="#471063"/><stop offset=".833" stop-color="#46085c"/><stop offset="1" stop-color="#440256"/></linearGradient>
<linearGradient id="g358" x1="0" y1="0" x2="0" y2="1"><stop offset="0" stop-color="#440154"/><stop offset=".125" stop-color="#440256"/><stop offset=".25" stop-color="#453882"/><stop offset=".375" stop-color="#39558c"/><stop offset=".5" stop-color="#38598c"/><stop offset=".625" stop-color="#3e4c8a"/><stop offset=".75" stop-color="#453781"/><stop offset=".875" stop-color="#481b6d"/><stop offset="1" stop-color="#440154"/></linearGradient>
<linearGradient id="g359" x1="0" y1="0" x2="0" y2="1"><stop offset="0" stop-color="#440154"/><stop offset=".125" stop-color="#450559"/><stop offset=".25" stop-color="#3e4c8a"/><stop offset=".375" stop-color="#306a8e"/><stop offset=".5" stop-color="#2f6b8e"/><stop offset=".625" stop-color="#34608d"/><stop offset=".75" stop-color="#3d4d8a"/><stop offset=".875" stop-color="#472a7a"/><stop offset="1" stop-color="#440256"/></linearGradient>
<linearGradient id="g360" x1="0" y1="0" x2="0" y2="1"><stop offset="0" stop-color="#440154"/><stop offset=".143" stop-color="#481769"/><stop offset=".286" stop-color="#482576"/><stop offset=".429" stop-color="#482878"/><stop offset=".571" stop-color="#482374"/><stop offset=".714" stop-color="#48186a"/><stop offset=".857" stop-color="#460a5d"/><stop offset="1" stop-color="#440154"/></linearGradient>
<linearGradient id="g361" x1="0" y1="0" x2="0" y2="1"><stop offset="0" stop-color="#440154"/><stop offset=".143" stop-color="#440256"/><stop offset=".286" stop-color="#46085c"/><stop offset=".429" stop-color="#470d60"/><stop offset=".571" stop-color="#470e61"/><stop offset=".714" stop-color="#460a5d"/><stop offset=".857" stop-color="#450457"/><stop offset="1" stop-color="#440154"/></linearGradient>
<linearGradient id="g362" x1="0" y1="0" x2="0" y2="1"><stop offset="0" stop-color="#440154"/><stop offset=".143" stop-color="#460a5d"/><stop offset=".286" stop-color="#482374"/><stop offset=".429" stop-color="#443b84"/><stop offset=".571" stop-color="#414287"/><stop offset=".714" stop-color="#472f7d"/><stop offset=".857" stop-color="#471063"/><stop offset="1" stop-color="#440154"/></linearGradient>
<linearGradient id="g363" x1="0" y1="0" x2="0" y2="1"><stop offset="0" stop-color="#440154"/><stop offset=".143" stop-color="#48186a"/><stop offset=".286" stop-color="#424186"/><stop offset=".429" stop-color="#365d8d"/><stop offset=".571" stop-color="#375a8c"/><stop offset=".714" stop-color="#423f85"/><stop offset=".857" stop-color="#481a6c"/><stop offset="1" stop-color="#440154"/></linearGradient>
<linearGradient id="g364" x1="0" y1="0" x2="0" y2="1"><stop offset="0" stop-color="#440154"/><stop offset=".143" stop-color="#450559"/><stop offset=".286" stop-color="#470e61"/><stop offset=".429" stop-color="#481668"/><stop offset=".571" stop-color="#481a6c"/><stop offset=".714" stop-color="#481769"/><stop offset=".857" stop-color="#460b5e"/><stop offset="1" stop-color="#440154"/></linearGradient>
</defs>
<rect x="109.30" y="147.50" width="680.36" height="292.25" fill="#440154"/>
<g clip-path="url(#hc)"><g filter="url(#bl)">
<rect x="99.30" y="137.50" width="700.36" height="312.25" fill="#440154"/>
<rect x="109.30" y="251.01" width="2.21" height="85.24" fill="url(#g0)"/>
<rect x="111.16" y="251.01" width="2.21" height="85.24" fill="url(#g1)"/>
<rect x="113.03" y="251.01" width="2.21" height="85.24" fill="url(#g2)"/>
<rect x="114.89" y="251.01" width="2.21" height="85.24" fill="url(#g3)"/>
<rect x="116.76" y="251.01" width="2.21" height="85.24" fill="url(#g4)"/>
<rect x="118.62" y="251.01" width="2.21" height="85.24" fill="url(#g5)"/>
<rect x="120.48" y="251.01" width="2.21" height="85.24" fill="url(#g6)"/>
<rect x="122.35" y="238.83" width="2.21" height="109.59" fill="url(#g7)"/>
<rect x="124.21" y="238.83" width="2.21" height="109.59" fill="url(#g8)"/>
<rect x="126.08" y="238.83" width="2.21" height="109.59" fill="url(#g9)"/>
<rect x="127.94" y="238.83" width="2.21" height="109.59" fill="url(#g10)"/>
<rect x="129.80" y="251.01" width="2.21" height="85.24" fill="url(#g11)"/>
<rect x="131.67" y="251.01" width="2.21" height="85.24" fill="url(#g12)"/>
<rect x="133.53" y="251.01" width="2.21" height="85.24" fill="url(#g13)"/>
<rect x="135.40" y="238.83" width="2.21" height="97.42" fill="url(#g14)"/>
<rect x="137.26" y="238.83" width="2.21" height="97.42" fill="url(#g15)"/>
<rect x="139.12" y="251.01" width="2.21" height="85.24" fill="url(#g16)"/>
<rect x="140.99" y="251.01" width="2.21" height="85.24" fill="url(#g17)"/>
<rect x="142.85" y="238.83" width="2.21" height="97.42" fill="url(#g18)"/>
<rect x="144.72" y="238.83" width="2.21" height="109.59" fill="url(#g19)"/>
<rect x="146.58" y="238.83" width="2.21" height="109.59" fill="url(#g20)"/>
<rect x="148.44" y="238.83" width="2.21" height="109.59" fill="url(#g21)"/>
<rect x="150.31" y="238.83" width="2.21" height="109.59" fill="url(#g22)"/>
<rect x="152.17" y="238.83" width="2.21" height="109.59" fill="url(#g23)"/>
<rect x="154.04" y="238.83" width="2.21" height="97.42" fill="url(#g24)"/>
<rect x="155.90" y="238.83" width="2.21" height="97.42" fill="url(#g25)"/>
<rect x="157.76" y="238.83" width="2.21" height="109.59" fill="url(#g26)"/>
<rect x="159.63" y="238.83" width="2.21" height="109.59" fill="url(#g27)"/>
<rect x="161.49" y="238.83" width="2.21" height="109.59" fill="url(#g28)"/>
<rect x="163.36" y="238.83" width="2.21" height="109.59" fill="url(#g29)"/>
<rect x="165.22" y="238.83" width="2.21" height="109.59" fill="url(#g30)"/>
<rect x="167.08" y="238.83" width="2.21" height="109.59" fill="url(#g31)"/>
<rect x="168.95" y="238.83" width="2.21" height="109.59" fill="url(#g32)"/>
<rect x="170.81" y="238.83" width="2.21" height="109.59" fill="url(#g33)"/>
<rect x="172.68" y="238.83" width="2.21" height="109.59" fill="url(#g34)"/>
<rect x="174.54" y="238.83" width="2.21" height="109.59" fill="url(#g35)"/>
<rect x="176.40" y="238.83" width="2.21" height="109.59" fill="url(#g36)"/>
<rect x="178.27" y="238.83" width="2.21" height="109.59" fill="url(#g37)"/>
<rect x="180.13" y="238.83" width="2.21" height="109.59" fill="url(#g38)"/>
<rect x="182.00" y="226.65" width="2.21" height="121.77" fill="url(#g39)"/>
<rect x="183.86" y="238.83" width="2.21" height="109.59" fill="url(#g40)"/>
<rect x="185.72" y="226.65" width="2.21" height="121.77" fill="url(#g41)"/>
<rect x="187.59" y="226.65" width="2.21" height="121.77" fill="url(#g42)"/>
<rect x="189.45" y="238.83" width="2.21" height="109.59" fill="url(#g43)"/>
<rect x="191.32" y="226.65" width="2.21" height="121.77" fill="url(#g44)"/>
<rect x="193.18" y="226.65" width="2.21" height="121.77" fill="url(#g45)"/>
<rect x="195.04" y="226.65" width="2.21" height="121.77" fill="url(#g46)"/>
<rect x="196.91" y="226.65" width="2.21" height="133.95" fill="url(#g47)"/>
<rect x="198.77" y="226.65" width="2.21" height="121.77" fill="url(#g48)"/>
<rect x="200.64" y="226.65" width="2.21" height="133.95" fill="url(#g49)"/>
<rect x="202.50" y="226.65" width="2.21" height="121.77" fill="url(#g50)"/>
<rect x="204.36" y="226.65" width="2.21" height="121.77" fill="url(#g51)"/>
<rect x="206.23" y="226.65" width="2.21" height="121.77" fill="url(#g52)"/>
<rect x="208.09" y="226.65" width="2.21" height="133.95" fill="url(#g53)"/>
<rect x="209.96" y="226.65" width="2.21" height="133.95" fill="url(#g54)"/>
<rect x="211.82" y="226.65" width="2.21" height="133.95" fill="url(#g55)"/>
<rect x="213.68" y="226.65" width="2.21" height="133.95" fill="url(#g56)"/>
<rect x="215.55" y="226.65" width="2.21" height="133.95" fill="url(#g57)"/>
<rect x="217.41" y="226.65" width="2.21" height="133.95" fill="url(#g58)"/>
<rect x="219.28" y="226.65" width="2.21" height="133.95" fill="url(#g59)"/>
<rect x="221.14" y="226.65" width="2.21" height="133.95" fill="url(#g60)"/>
<rect x="223.00" y="226.65" width="2.21" height="133.95" fill="url(#g61)"/>
<rect x="224.87" y="226.65" width="2.21" height="133.95" fill="url(#g62)"/>
<rect x="226.73" y="226.65" width="2.21" height="133.95" fill="url(#g63)"/>
<rect x="228.60" y="226.65" width="2.21" height="133.95" fill="url(#g64)"/>
<rect x="230.46" y="226.65" width="2.21" height="133.95" fill="url(#g65)"/>
<rect x="232.32" y="214.47" width="2.21" height="146.12" fill="url(#g66)"/>
<rect x="234.19" y="214.47" width="2.21" height="146.12" fill="url(#g67)"/>
<rect x="236.05" y="214.47" width="2.21" height="146.12" fill="url(#g68)"/>
<rect x="237.92" y="214.47" width="2.21" height="146.12" fill="url(#g69)"/>
<rect x="239.78" y="214.47" width="2.21" height="146.12" fill="url(#g70)"/>
<rect x="241.64" y="214.47" width="2.21" height="146.12" fill="url(#g71)"/>
<rect x="243.51" y="214.47" width="2.21" height="146.12" fill="url(#g72)"/>
<rect x="245.37" y="226.65" width="2.21" height="133.95" fill="url(#g73)"/>
<rect x="247.24" y="226.65" width="2.21" height="121.77" fill="url(#g74)"/>
<rect x="249.10" y="226.65" width="2.21" height="121.77" fill="url(#g75)"/>
<rect x="250.96" y="226.65" width="2.21" height="121.77" fill="url(#g76)"/>
<rect x="252.83" y="226.65" width="2.21" height="133.95" fill="url(#g77)"/>
<rect x="254.69" y="214.47" width="2.21" height="146.12" fill="url(#g78)"/>
<rect x="256.56" y="214.47" width="2.21" height="158.30" fill="url(#g79)"/>
<rect x="258.42" y="214.47" width="2.21" height="158.30" fill="url(#g80)"/>
<rect x="260.28" y="226.65" width="2.21" height="146.12" fill="url(#g81)"/>
<rect x="262.15" y="214.47" width="2.21" height="146.12" fill="url(#g82)"/>
<rect x="264.01" y="214.47" width="2.21" height="158.30" fill="url(#g83)"/>
<rect x="265.88" y="214.47" width="2.21" height="158.30" fill="url(#g84)"/>
<rect x="267.74" y="214.47" width="2.21" height="146.12" fill="url(#g85)"/>
<rect x="269.60" y="214.47" width="2.21" height="146.12" fill="url(#g86)"/>
<rect x="271.47" y="214.47" width="2.21" height="158.30" fill="url(#g87)"/>
<rect x="273.33" y="214.47" width="2.21" height="158.30" fill="url(#g88)"/>
<rect x="275.20" y="214.47" width="2.21" height="158.30" fill="url(#g89)"/>
<rect x="277.06" y="214.47" width="2.21" height="158.30" fill="url(#g90)"/>
<rect x="278.92" y="214.47" width="2.21" height="158.30" fill="url(#g91)"/>
<rect x="280.79" y="214.47" width="2.21" height="146.12" fill="url(#g92)"/>
<rect x="282.65" y="214.47" width="2.21" height="146.12" fill="url(#g93)"/>
<rect x="284.52" y="214.47" width="2.21" height="158.30" fill="url(#g94)"/>
<rect x="286.38" y="214.47" width="2.21" height="158.30" fill="url(#g95)"/>
<rect x="288.24" y="214.47" width="2.21" height="158.30" fill="url(#g96)"/>
<rect x="290.11" y="214.47" width="2.21" height="158.30" fill="url(#g97)"/>
<rect x="291.97" y="214.47" width="2.21" height="158.30" fill="url(#g98)"/>
<rect x="293.84" y="214.47" width="2.21" height="158.30" fill="url(#g99)"/>
<rect x="295.70" y="214.47" width="2.21" height="158.30" fill="url(#g100)"/>
<rect x="297.56" y="202.30" width="2.21" height="182.66" fill="url(#g101)"/>
<rect x="299.43" y="214.47" width="2.21" height="158.30" fill="url(#g102)"/>
<rect x="301.29" y="214.47" width="2.21" height="158.30" fill="url(#g103)"/>
<rect x="303.16" y="214.47" width="2.21" height="158.30" fill="url(#g104)"/>
<rect x="305.02" y="214.47" width="2.21" height="158.30" fill="url(#g105)"/>
<rect x="306.88" y="214.47" width="2.21" height="158.30" fill="url(#g106)"/>
<rect x="308.75" y="214.47" width="2.21" height="158.30" fill="url(#g107)"/>
<rect x="310.61" y="226.65" width="2.21" height="146.12" fill="url(#g108)"/>
<rect x="312.48" y="202.30" width="2.21" height="182.66" fill="url(#g109)"/>
<rect x="314.34" y="202.30" width="2.21" height="182.66" fill="url(#g110)"/>
<rect x="316.20" y="214.47" width="2.21" height="158.30" fill="url(#g111)"/>
<rect x="318.07" y="214.47" width="2.21" height="158.30" fill="url(#g112)"/>
<rect x="319.93" y="214.47" width="2.21" height="158.30" fill="url(#g113)"/>
<rect x="321.80" y="202.30" width="2.21" height="182.66" fill="url(#g114)"/>
<rect x="323.66" y="202.30" width="2.21" height="182.66" fill="url(#g115)"/>
<rect x="325.52" y="202.30" width="2.21" height="182.66" fill="url(#g116)"/>
<rect x="327.39" y="202.30" width="2.21" height="182.66" fill="url(#g117)"/>
<rect x="329.25" y="214.47" width="2.21" height="158.30" fill="url(#g118)"/>
<rect x="331.12" y="214.47" width="2.21" height="170.48" fill="url(#g119)"/>
<rect x="332.98" y="214.47" width="2.21" height="170.48" fill="url(#g120)"/>
<rect x="334.84" y="202.30" width="2.21" height="182.66" fill="url(#g121)"/>
<rect x="336.71" y="202.30" width="2.21" height="182.66" fill="url(#g122)"/>
<rect x="338.57" y="202.30" width="2.21" height="170.48" fill="url(#g123)"/>
<rect x="340.44" y="214.47" width="2.21" height="146.12" fill="url(#g124)"/>
<rect x="342.30" y="214.47" width="2.21" height="146.12" fill="url(#g125)"/>
<rect x="344.16" y="202.30" width="2.21" height="182.66" fill="url(#g126)"/>
<rect x="346.03" y="202.30" width="2.21" height="182.66" fill="url(#g127)"/>
<rect x="347.89" y="214.47" width="2.21" height="170.48" fill="url(#g128)"/>
<rect x="349.76" y="214.47" width="2.21" height="170.48" fill="url(#g129)"/>
<rect x="351.62" y="214.47" width="2.21" height="170.48" fill="url(#g130)"/>
<rect x="353.48" y="202.30" width="2.21" height="194.83" fill="url(#g131)"/>
<rect x="355.35" y="202.30" width="2.21" height="182.66" fill="url(#g132)"/>
<rect x="357.21" y="202.30" width="2.21" height="182.66" fill="url(#g133)"/>
<rect x="359.08" y="202.30" width="2.21" height="182.66" fill="url(#g134)"/>
<rect x="360.94" y="202.30" width="2.21" height="182.66" fill="url(#g135)"/>
<rect x="362.80" y="214.47" width="2.21" height="158.30" fill="url(#g136)"/>
<rect x="364.67" y="202.30" width="2.21" height="182.66" fill="url(#g137)"/>
<rect x="366.53" y="214.47" width="2.21" height="170.48" fill="url(#g138)"/>
<rect x="368.40" y="214.47" width="2.21" height="158.30" fill="url(#g139)"/>
<rect x="370.26" y="214.47" width="2.21" height="158.30" fill="url(#g140)"/>
<rect x="372.12" y="202.30" width="2.21" height="182.66" fill="url(#g141)"/>
<rect x="373.99" y="202.30" width="2.21" height="182.66" fill="url(#g142)"/>
<rect x="375.85" y="214.47" width="2.21" height="158.30" fill="url(#g143)"/>
<rect x="377.72" y="202.30" width="2.21" height="182.66" fill="url(#g144)"/>
<rect x="379.58" y="214.47" width="2.21" height="170.48" fill="url(#g145)"/>
<rect x="381.44" y="202.30" width="2.21" height="182.66" fill="url(#g146)"/>
<rect x="383.31" y="190.12" width="2.21" height="207.01" fill="url(#g147)"/>
<rect x="385.17" y="190.12" width="2.21" height="207.01" fill="url(#g148)"/>
<rect x="387.04" y="202.30" width="2.21" height="182.66" fill="url(#g149)"/>
<rect x="388.90" y="202.30" width="2.21" height="182.66" fill="url(#g150)"/>
<rect x="390.76" y="190.12" width="2.21" height="194.83" fill="url(#g151)"/>
<rect x="392.63" y="202.30" width="2.21" height="182.66" fill="url(#g152)"/>
<rect x="394.49" y="214.47" width="2.21" height="158.30" fill="url(#g153)"/>
<rect x="396.36" y="214.47" width="2.21" height="158.30" fill="url(#g154)"/>
<rect x="398.22" y="214.47" width="2.21" height="158.30" fill="url(#g155)"/>
<rect x="400.08" y="202.30" width="2.21" height="182.66" fill="url(#g156)"/>
<rect x="401.95" y="190.12" width="2.21" height="207.01" fill="url(#g157)"/>
<rect x="403.81" y="202.30" width="2.21" height="182.66" fill="url(#g158)"/>
<rect x="405.68" y="214.47" width="2.21" height="158.30" fill="url(#g159)"/>
<rect x="407.54" y="202.30" width="2.21" height="182.66" fill="url(#g160)"/>
<rect x="409.40" y="190.12" width="2.21" height="207.01" fill="url(#g161)"/>
<rect x="411.27" y="202.30" width="2.21" height="194.83" fill="url(#g162)"/>
<rect x="413.13" y="202.30" width="2.21" height="194.83" fill="url(#g163)"/>
<rect x="415.00" y="202.30" width="2.21" height="182.66" fill="url(#g164)"/>
<rect x="416.86" y="202.30" width="2.21" height="182.66" fill="url(#g165)"/>
<rect x="418.72" y="202.30" width="2.21" height="182.66" fill="url(#g166)"/>
<rect x="420.59" y="190.12" width="2.21" height="207.01" fill="url(#g167)"/>
<rect x="422.45" y="190.12" width="2.21" height="207.01" fill="url(#g168)"/>
<rect x="424.32" y="202.30" width="2.21" height="194.83" fill="url(#g169)"/>
<rect x="426.18" y="190.12" width="2.21" height="207.01" fill="url(#g170)"/>
<rect x="428.04" y="202.30" width="2.21" height="194.83" fill="url(#g171)"/>
<rect x="429.91" y="202.30" width="2.21" height="182.66" fill="url(#g172)"/>
<rect x="431.77" y="202.30" width="2.21" height="182.66" fill="url(#g173)"/>
<rect x="433.64" y="214.47" width="2.21" height="170.48" fill="url(#g174)"/>
<rect x="435.50" y="202.30" width="2.21" height="182.66" fill="url(#g175)"/>
<rect x="437.36" y="214.47" width="2.21" height="170.48" fill="url(#g176)"/>
<rect x="439.23" y="214.47" width="2.21" height="158.30" fill="url(#g177)"/>
<rect x="441.09" y="202.30" width="2.21" height="170.48" fill="url(#g178)"/>
<rect x="442.96" y="190.12" width="2.21" height="207.01" fill="url(#g179)"/>
<rect x="444.82" y="190.12" width="2.21" height="207.01" fill="url(#g180)"/>
<rect x="446.68" y="190.12" width="2.21" height="207.01" fill="url(#g181)"/>
<rect x="448.55" y="190.12" width="2.21" height="207.01" fill="url(#g182)"/>
<rect x="450.41" y="202.30" width="2.21" height="182.66" fill="url(#g183)"/>
<rect x="452.28" y="214.47" width="2.21" height="158.30" fill="url(#g184)"/>
<rect x="454.14" y="202.30" width="2.21" height="182.66" fill="url(#g185)"/>
<rect x="456.00" y="202.30" width="2.21" height="182.66" fill="url(#g186)"/>
<rect x="457.87" y="214.47" width="2.21" height="158.30" fill="url(#g187)"/>
<rect x="459.73" y="214.47" width="2.21" height="158.30" fill="url(#g188)"/>
<rect x="461.60" y="202.30" width="2.21" height="182.66" fill="url(#g189)"/>
<rect x="463.46" y="214.47" width="2.21" height="158.30" fill="url(#g190)"/>
<rect x="465.32" y="202.30" width="2.21" height="182.66" fill="url(#g191)"/>
<rect x="467.19" y="202.30" width="2.21" height="182.66" fill="url(#g192)"/>
<rect x="469.05" y="190.12" width="2.21" height="207.01" fill="url(#g193)"/>
<rect x="470.92" y="202.30" width="2.21" height="182.66" fill="url(#g194)"/>
<rect x="472.78" y="202.30" width="2.21" height="182.66" fill="url(#g195)"/>
<rect x="474.64" y="190.12" width="2.21" height="207.01" fill="url(#g196)"/>
<rect x="476.51" y="190.12" width="2.21" height="207.01" fill="url(#g197)"/>
<rect x="478.37" y="214.47" width="2.21" height="170.48" fill="url(#g198)"/>
<rect x="480.24" y="202.30" width="2.21" height="182.66" fill="url(#g199)"/>
<rect x="482.10" y="190.12" width="2.21" height="207.01" fill="url(#g200)"/>
<rect x="483.96" y="202.30" width="2.21" height="182.66" fill="url(#g201)"/>
<rect x="485.83" y="190.12" width="2.21" height="207.01" fill="url(#g202)"/>
<rect x="487.69" y="190.12" width="2.21" height="207.01" fill="url(#g203)"/>
<rect x="489.56" y="202.30" width="2.21" height="182.66" fill="url(#g204)"/>
<rect x="491.42" y="202.30" width="2.21" height="170.48" fill="url(#g205)"/>
<rect x="493.28" y="202.30" width="2.21" height="170.48" fill="url(#g206)"/>
<rect x="495.15" y="214.47" width="2.21" height="158.30" fill="url(#g207)"/>
<rect x="497.01" y="214.47" width="2.21" height="158.30" fill="url(#g208)"/>
<rect x="498.88" y="214.47" width="2.21" height="158.30" fill="url(#g209)"/>
<rect x="500.74" y="214.47" width="2.21" height="158.30" fill="url(#g210)"/>
<rect x="502.60" y="214.47" width="2.21" height="158.30" fill="url(#g211)"/>
<rect x="504.47" y="214.47" width="2.21" height="158.30" fill="url(#g212)"/>
<rect x="506.33" y="214.47" width="2.21" height="158.30" fill="url(#g213)"/>
<rect x="508.20" y="202.30" width="2.21" height="170.48" fill="url(#g214)"/>
<rect x="510.06" y="202.30" width="2.21" height="170.48" fill="url(#g215)"/>
<rect x="511.92" y="202.30" width="2.21" height="182.66" fill="url(#g216)"/>
<rect x="513.79" y="202.30" width="2.21" height="182.66" fill="url(#g217)"/>
<rect x="515.65" y="202.30" width="2.21" height="182.66" fill="url(#g218)"/>
<rect x="517.52" y="202.30" width="2.21" height="182.66" fill="url(#g219)"/>
<rect x="519.38" y="202.30" width="2.21" height="170.48" fill="url(#g220)"/>
<rect x="521.24" y="202.30" width="2.21" height="182.66" fill="url(#g221)"/>
<rect x="523.11" y="202.30" width="2.21" height="170.48" fill="url(#g222)"/>
<rect x="524.97" y="214.47" width="2.21" height="158.30" fill="url(#g223)"/>
<rect x="526.84" y="202.30" width="2.21" height="170.48" fill="url(#g224)"/>
<rect x="528.70" y="202.30" width="2.21" height="182.66" fill="url(#g225)"/>
<rect x="530.56" y="202.30" width="2.21" height="182.66" fill="url(#g226)"/>
<rect x="532.43" y="202.30" width="2.21" height="182.66" fill="url(#g227)"/>
<rect x="534.29" y="214.47" width="2.21" height="158.30" fill="url(#g228)"/>
<rect x="536.16" y="214.47" width="2.21" height="158.30" fill="url(#g229)"/>
<rect x="538.02" y="214.47" width="2.21" height="158.30" fill="url(#g230)"/>
<rect x="539.88" y="214.47" width="2.21" height="158.30" fill="url(#g231)"/>
<rect x="541.75" y="214.47" width="2.21" height="158.30" fill="url(#g232)"/>
<rect x="543.61" y="214.47" width="2.21" height="158.30" fill="url(#g233)"/>
<rect x="545.48" y="214.47" width="2.21" height="158.30" fill="url(#g234)"/>
<rect x="547.34" y="214.47" width="2.21" height="170.48" fill="url(#g235)"/>
<rect x="549.20" y="214.47" width="2.21" height="158.30" fill="url(#g236)"/>
<rect x="551.07" y="202.30" width="2.21" height="182.66" fill="url(#g237)"/>
<rect x="552.93" y="202.30" width="2.21" height="182.66" fill="url(#g238)"/>
<rect x="554.80" y="214.47" width="2.21" height="158.30" fill="url(#g239)"/>
<rect x="556.66" y="214.47" width="2.21" height="158.30" fill="url(#g240)"/>
<rect x="558.52" y="214.47" width="2.21" height="158.30" fill="url(#g241)"/>
<rect x="560.39" y="214.47" width="2.21" height="146.12" fill="url(#g242)"/>
<rect x="562.25" y="214.47" width="2.21" height="146.12" fill="url(#g243)"/>
<rect x="564.12" y="214.47" width="2.21" height="146.12" fill="url(#g244)"/>
<rect x="565.98" y="214.47" width="2.21" height="158.30" fill="url(#g245)"/>
<rect x="567.84" y="214.47" width="2.21" height="158.30" fill="url(#g246)"/>
<rect x="569.71" y="214.47" width="2.21" height="158.30" fill="url(#g247)"/>
<rect x="571.57" y="214.47" width="2.21" height="158.30" fill="url(#g248)"/>
<rect x="573.44" y="214.47" width="2.21" height="158.30" fill="url(#g249)"/>
<rect x="575.30" y="214.47" width="2.21" height="158.30" fill="url(#g250)"/>
<rect x="577.16" y="214.47" width="2.21" height="158.30" fill="url(#g251)"/>
<rect x="579.03" y="214.47" width="2.21" height="158.30" fill="url(#g252)"/>
<rect x="580.89" y="214.47" width="2.21" height="158.30" fill="url(#g253)"/>
<rect x="582.76" y="214.47" width="2.21" height="158.30" fill="url(#g254)"/>
<rect x="584.62" y="226.65" width="2.21" height="146.12" fill="url(#g255)"/>
<rect x="586.48" y="214.47" width="2.21" height="158.30" fill="url(#g256)"/>
<rect x="588.35" y="214.47" width="2.21" height="158.30" fill="url(#g257)"/>
<rect x="590.21" y="214.47" width="2.21" height="158.30" fill="url(#g258)"/>
<rect x="592.08" y="226.65" width="2.21" height="133.95" fill="url(#g259)"/>
<rect x="593.94" y="214.47" width="2.21" height="158.30" fill="url(#g260)"/>
<rect x="595.80" y="214.47" width="2.21" height="158.30" fill="url(#g261)"/>
<rect x="597.67" y="214.47" width="2.21" height="158.30" fill="url(#g262)"/>
<rect x="599.53" y="226.65" width="2.21" height="146.12" fill="url(#g263)"/>
<rect x="601.40" y="226.65" width="2.21" height="133.95" fill="url(#g264)"/>
<rect x="603.26" y="226.65" width="2.21" height="133.95" fill="url(#g265)"/>
<rect x="605.12" y="226.65" width="2.21" height="146.12" fill="url(#g266)"/>
<rect x="606.99" y="226.65" width="2.21" height="146.12" fill="url(#g267)"/>
<rect x="608.85" y="214.47" width="2.21" height="158.30" fill="url(#g268)"/>
<rect x="610.72" y="226.65" width="2.21" height="133.95" fill="url(#g269)"/>
<rect x="612.58" y="226.65" width="2.21" height="133.95" fill="url(#g270)"/>
<rect x="614.44" y="226.65" width="2.21" height="133.95" fill="url(#g271)"/>
<rect x="616.31" y="226.65" width="2.21" height="146.12" fill="url(#g272)"/>
<rect x="618.17" y="226.65" width="2.21" height="146.12" fill="url(#g273)"/>
<rect x="620.04" y="226.65" width="2.21" height="146.12" fill="url(#g274)"/>
<rect x="621.90" y="226.65" width="2.21" height="133.95" fill="url(#g275)"/>
<rect x="623.76" y="226.65" width="2.21" height="133.95" fill="url(#g276)"/>
<rect x="625.63" y="226.65" width="2.21" height="133.95" fill="url(#g277)"/>
<rect x="627.49" y="226.65" width="2.21" height="133.95" fill="url(#g278)"/>
<rect x="629.36" y="226.65" width="2.21" height="146.12" fill="url(#g279)"/>
<rect x="631.22" y="226.65" width="2.21" height="133.95" fill="url(#g280)"/>
<rect x="633.08" y="226.65" width="2.21" height="133.95" fill="url(#g281)"/>
<rect x="634.95" y="226.65" width="2.21" height="133.95" fill="url(#g282)"/>
<rect x="636.81" y="226.65" width="2.21" height="133.95" fill="url(#g283)"/>
<rect x="638.68" y="226.65" width="2.21" height="133.95" fill="url(#g284)"/>
<rect x="640.54" y="226.65" width="2.21" height="133.95" fill="url(#g285)"/>
<rect x="642.40" y="226.65" width="2.21" height="133.95" fill="url(#g286)"/>
<rect x="644.27" y="226.65" width="2.21" height="133.95" fill="url(#g287)"/>
<rect x="646.13" y="226.65" width="2.21" height="133.95" fill="url(#g288)"/>
<rect x="648.00" y="226.65" width="2.21" height="133.95" fill="url(#g289)"/>
<rect x="649.86" y="226.65" width="2.21" height="133.95" fill="url(#g290)"/>
<rect x="651.72" y="226.65" width="2.21" height="133.95" fill="url(#g291)"/>
<rect x="653.59" y="238.83" width="2.21" height="121.77" fill="url(#g292)"/>
<rect x="655.45" y="238.83" width="2.21" height="121.77" fill="url(#g293)"/>
<rect x="657.32" y="238.83" width="2.21" height="121.77" fill="url(#g294)"/>
<rect x="659.18" y="226.65" width="2.21" height="133.95" fill="url(#g295)"/>
<rect x="661.04" y="226.65" width="2.21" height="133.95" fill="url(#g296)"/>
<rect x="662.91" y="238.83" width="2.21" height="109.59" fill="url(#g297)"/>
<rect x="664.77" y="238.83" width="2.21" height="109.59" fill="url(#g298)"/>
<rect x="666.64" y="238.83" width="2.21" height="109.59" fill="url(#g299)"/>
<rect x="668.50" y="238.83" width="2.21" height="121.77" fill="url(#g300)"/>
<rect x="670.36" y="238.83" width="2.21" height="121.77" fill="url(#g301)"/>
<rect x="672.23" y="238.83" width="2.21" height="121.77" fill="url(#g302)"/>
<rect x="674.09" y="238.83" width="2.21" height="121.77" fill="url(#g303)"/>
<rect x="675.96" y="251.01" width="2.21" height="97.42" fill="url(#g304)"/>
<rect x="677.82" y="238.83" width="2.21" height="121.77" fill="url(#g305)"/>
<rect x="679.68" y="238.83" width="2.21" height="121.77" fill="url(#g306)"/>
<rect x="681.55" y="251.01" width="2.21" height="97.42" fill="url(#g307)"/>
<rect x="683.41" y="251.01" width="2.21" height="97.42" fill="url(#g308)"/>
<rect x="685.28" y="238.83" width="2.21" height="109.59" fill="url(#g309)"/>
<rect x="687.14" y="238.83" width="2.21" height="121.77" fill="url(#g310)"/>
<rect x="689.00" y="238.83" width="2.21" height="121.77" fill="url(#g311)"/>
<rect x="690.87" y="238.83" width="2.21" height="109.59" fill="url(#g312)"/>
<rect x="692.73" y="238.83" width="2.21" height="109.59" fill="url(#g313)"/>
<rect x="694.60" y="238.83" width="2.21" height="109.59" fill="url(#g314)"/>
<rect x="696.46" y="238.83" width="2.21" height="109.59" fill="url(#g315)"/>
<rect x="698.32" y="251.01" width="2.21" height="97.42" fill="url(#g316)"/>
<rect x="700.19" y="251.01" width="2.21" height="97.42" fill="url(#g317)"/>
<rect x="702.05" y="238.83" width="2.21" height="109.59" fill="url(#g318)"/>
<rect x="703.92" y="238.83" width="2.21" height="109.59" fill="url(#g319)"/>
<rect x="705.78" y="251.01" width="2.21" height="85.24" fill="url(#g320)"/>
<rect x="707.64" y="251.01" width="2.21" height="85.24" fill="url(#g321)"/>
<rect x="709.51" y="251.01" width="2.21" height="85.24" fill="url(#g322)"/>
<rect x="711.37" y="251.01" width="2.21" height="85.24" fill="url(#g323)"/>
<rect x="713.24" y="251.01" width="2.21" height="97.42" fill="url(#g324)"/>
<rect x="715.10" y="251.01" width="2.21" height="97.42" fill="url(#g325)"/>
<rect x="716.96" y="238.83" width="2.21" height="109.59" fill="url(#g326)"/>
<rect x="718.83" y="251.01" width="2.21" height="97.42" fill="url(#g327)"/>
<rect x="720.69" y="251.01" width="2.21" height="97.42" fill="url(#g328)"/>
<rect x="722.56" y="251.01" width="2.21" height="97.42" fill="url(#g329)"/>
<rect x="724.42" y="251.01" width="2.21" height="97.42" fill="url(#g330)"/>
<rect x="726.28" y="251.01" width="2.21" height="97.42" fill="url(#g331)"/>
<rect x="728.15" y="251.01" width="2.21" height="97.42" fill="url(#g332)"/>
<rect x="730.01" y="251.01" width="2.21" height="97.42" fill="url(#g333)"/>
<rect x="731.88" y="238.83" width="2.21" height="109.59" fill="url(#g334)"/>
<rect x="733.74" y="238.83" width="2.21" height="109.59" fill="url(#g335)"/>
<rect x="735.60" y="251.01" width="2.21" height="97.42" fill="url(#g336)"/>
<rect x="737.47" y="251.01" width="2.21" height="85.24" fill="url(#g337)"/>
<rect x="739.33" y="263.18" width="2.21" height="73.06" fill="url(#g338)"/>
<rect x="741.20" y="251.01" width="2.21" height="85.24" fill="url(#g339)"/>
<rect x="743.06" y="251.01" width="2.21" height="85.24" fill="url(#g340)"/>
<rect x="744.92" y="251.01" width="2.21" height="85.24" fill="url(#g341)"/>
<rect x="746.79" y="251.01" width="2.21" height="85.24" fill="url(#g342)"/>
<rect x="748.65" y="251.01" width="2.21" height="85.24" fill="url(#g343)"/>
<rect x="750.52" y="251.01" width="2.21" height="85.24" fill="url(#g344)"/>
<rect x="752.38" y="251.01" width="2.21" height="85.24" fill="url(#g345)"/>
<rect x="754.24" y="251.01" width="2.21" height="85.24" fill="url(#g346)"/>
<rect x="756.11" y="251.01" width="2.21" height="85.24" fill="url(#g347)"/>
<rect x="757.97" y="251.01" width="2.21" height="85.24" fill="url(#g348)"/>
<rect x="759.84" y="251.01" width="2.21" height="85.24" fill="url(#g349)"/>
<rect x="761.70" y="263.18" width="2.21" height="73.06" fill="url(#g350)"/>
<rect x="763.56" y="251.01" width="2.21" height="85.24" fill="url(#g351)"/>
<rect x="765.43" y="251.01" width="2.21" height="85.24" fill="url(#g352)"/>
<rect x="767.29" y="251.01" width="2.21" height="85.24" fill="url(#g353)"/>
<rect x="769.16" y="251.01" width="2.21" height="85.24" fill="url(#g354)"/>
<rect x="771.02" y="251.01" width="2.21" height="73.06" fill="url(#g355)"/>
<rect x="772.88" y="263.18" width="2.21" height="60.89" fill="url(#g356)"/>
<rect x="774.75" y="251.01" width="2.21" height="73.06" fill="url(#g357)"/>
<rect x="776.61" y="238.83" width="2.21" height="97.42" fill="url(#g358)"/>
<rect x="778.48" y="238.83" width="2.21" height="97.42" fill="url(#g359)"/>
<rect x="780.34" y="251.01" width="2.21" height="85.24" fill="url(#g360)"/>
<rect x="782.20" y="251.01" width="2.21" height="85.24" fill="url(#g361)"/>
<rect x="784.07" y="251.01" width="2.21" height="85.24" fill="url(#g362)"/>
<rect x="785.93" y="251.01" width="2.21" height="85.24" fill="url(#g363)"/>
<rect x="787.80" y="251.01" width="2.21" height="85.24" fill="url(#g364)"/>
</g></g>
<g stroke="#000" stroke-width="1.6" fill="none">
<path d="M109 146.70 V440.65"/>
<path d="M108.2 439.75 H789.66" stroke-width="1.9"/>
<path d="M102.3 439.75 H109"/>
<path d="M102.3 366.69 H109"/>
<path d="M102.3 293.62 H109"/>
<path d="M102.3 220.56 H109"/>
<path d="M102.3 147.50 H109"/>
<path d="M109.00 439.75 V447" stroke-width="2"/>
<path d="M165.22 439.75 V447" stroke-width="2"/>
<path d="M221.14 439.75 V447" stroke-width="2"/>
<path d="M277.06 439.75 V447" stroke-width="2"/>
<path d="M332.98 439.75 V447" stroke-width="2"/>
<path d="M388.90 439.75 V447" stroke-width="2"/>
<path d="M444.82 439.75 V447" stroke-width="2"/>
<path d="M500.74 439.75 V447" stroke-width="2"/>
<path d="M556.66 439.75 V447" stroke-width="2"/>
<path d="M612.58 439.75 V447" stroke-width="2"/>
<path d="M668.50 439.75 V447" stroke-width="2"/>
<path d="M724.42 439.75 V447" stroke-width="2"/>
<path d="M780.34 439.75 V447" stroke-width="2"/>
</g>
<g font-family="'Liberation Sans', Arial, sans-serif" fill="#000" stroke="#000" stroke-width="0.3">
<g font-size="19.0" text-anchor="end">
<text transform="translate(88.9 446.55) scale(1.05 1)">0</text>
<text transform="translate(88.9 373.49) scale(1.05 1)">6</text>
<text transform="translate(88.9 300.43) scale(1.05 1)">12</text>
<text transform="translate(88.9 227.36) scale(1.05 1)">18</text>
<text transform="translate(88.9 154.30) scale(1.05 1)">24</text>
</g>
<g font-size="19.0" text-anchor="middle">
<text transform="translate(109.60 475.5) scale(1.05 1)">0</text>
<text transform="translate(165.52 475.5) scale(1.05 1)">30</text>
<text transform="translate(221.44 475.5) scale(1.05 1)">60</text>
<text transform="translate(277.36 475.5) scale(1.05 1)">90</text>
<text transform="translate(333.28 475.5) scale(1.05 1)">120</text>
<text transform="translate(389.20 475.5) scale(1.05 1)">150</text>
<text transform="translate(445.12 475.5) scale(1.05 1)">180</text>
<text transform="translate(501.04 475.5) scale(1.05 1)">210</text>
<text transform="translate(556.96 475.5) scale(1.05 1)">240</text>
<text transform="translate(612.88 475.5) scale(1.05 1)">270</text>
<text transform="translate(668.80 475.5) scale(1.05 1)">300</text>
<text transform="translate(724.72 475.5) scale(1.05 1)">330</text>
<text transform="translate(780.64 475.5) scale(1.05 1)">360</text>
</g>
<text transform="translate(450.0 510.4) scale(1.083 1)" font-size="22.3" text-anchor="middle">Day of Year</text>
<text transform="translate(54.0 294.4) rotate(-90)" font-size="23.4" text-anchor="middle">Hour of Day</text>
<text transform="translate(881.5 333.4) rotate(-90)" font-size="24.5" text-anchor="middle">kW</text>
<rect x="924.40" y="147.30" width="71.70" height="371.20" fill="url(#cb)" stroke="none"/>
<g stroke="#000" stroke-width="1.9" fill="none">
<path d="M924.40 146.50 V519.30"/>
<path d="M917.3 518.50 H924.40"/>
<path d="M917.3 425.70 H924.40"/>
<path d="M917.3 332.90 H924.40"/>
<path d="M917.3 240.10 H924.40"/>
<path d="M917.3 147.30 H924.40"/>
</g>
<g font-size="19.0" text-anchor="end">
<text transform="translate(904.6 525.30) scale(1.05 1)">0</text>
<text transform="translate(904.6 432.50) scale(1.05 1)">1</text>
<text transform="translate(904.6 339.70) scale(1.05 1)">2</text>
<text transform="translate(904.6 246.90) scale(1.05 1)">3</text>
<text transform="translate(904.6 154.10) scale(1.05 1)">4</text>
</g>
</g>
</svg>
</body></html>
